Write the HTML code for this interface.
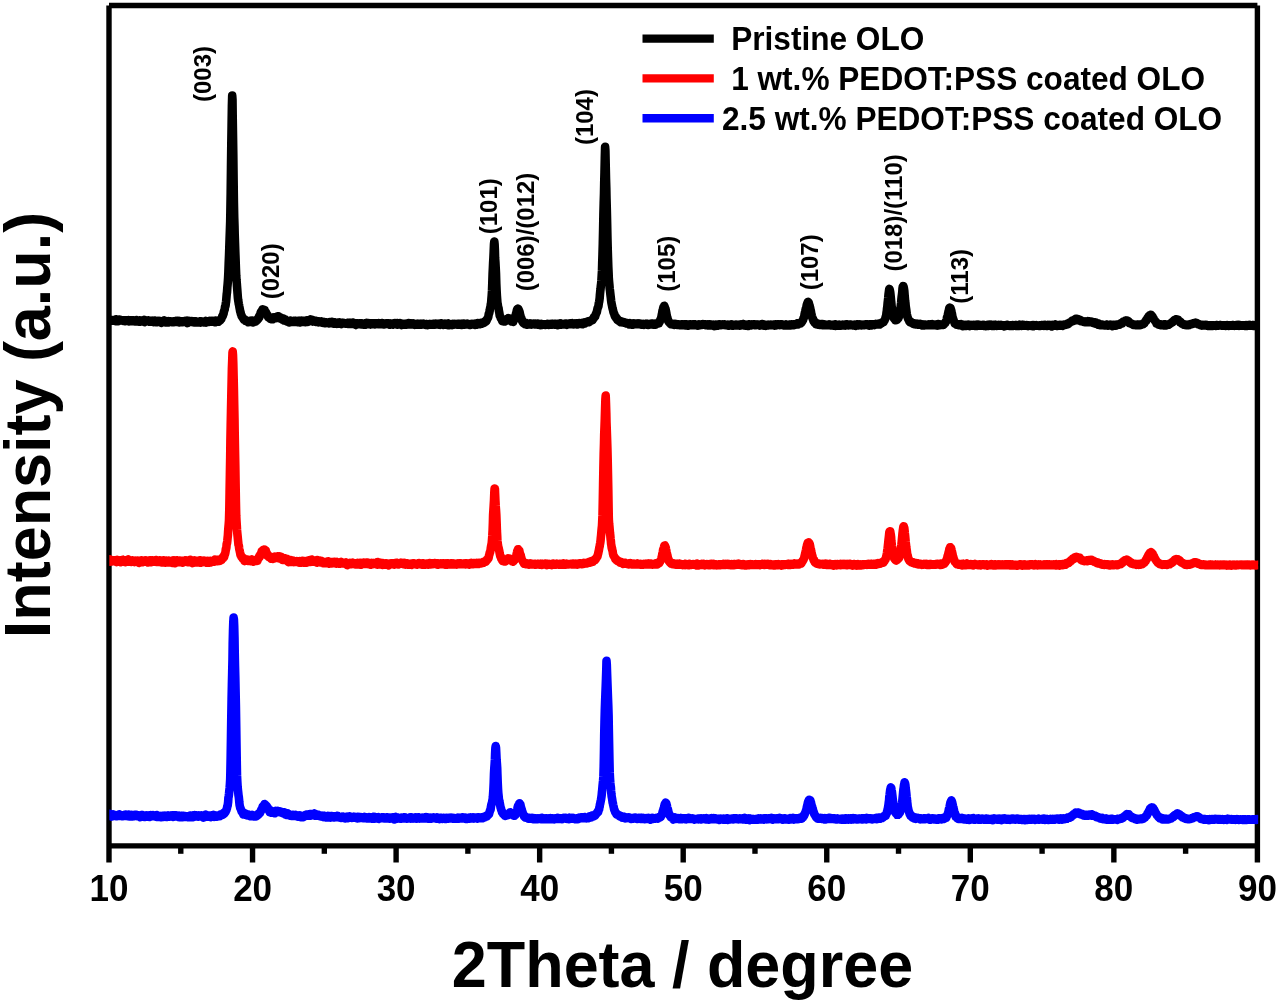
<!DOCTYPE html>
<html lang="en">
<head>
<meta charset="utf-8">
<title>XRD patterns</title>
<style>
html,body{margin:0;padding:0;background:#fff;}
body{width:1280px;height:1002px;overflow:hidden;font-family:"Liberation Sans",Arial,sans-serif;}
svg{display:block;filter:blur(0.45px);}
</style>
</head>
<body>
<svg width="1280" height="1002" viewBox="0 0 1280 1002">
<rect width="1280" height="1002" fill="#fff"/>
<path d="M109.0,5.45H1257.4M1257.4,5.45V862.5M109.0,5.45V862.5M109.0,845.9H1257.4" fill="none" stroke="#000" stroke-width="5.4" stroke-linecap="butt"/>
<line x1="180.78" y1="845.9" x2="180.78" y2="853.8" stroke="#000" stroke-width="5.4"/>
<line x1="252.55" y1="845.9" x2="252.55" y2="862.5" stroke="#000" stroke-width="5.4"/>
<line x1="324.33" y1="845.9" x2="324.33" y2="853.8" stroke="#000" stroke-width="5.4"/>
<line x1="396.10" y1="845.9" x2="396.10" y2="862.5" stroke="#000" stroke-width="5.4"/>
<line x1="467.88" y1="845.9" x2="467.88" y2="853.8" stroke="#000" stroke-width="5.4"/>
<line x1="539.65" y1="845.9" x2="539.65" y2="862.5" stroke="#000" stroke-width="5.4"/>
<line x1="611.42" y1="845.9" x2="611.42" y2="853.8" stroke="#000" stroke-width="5.4"/>
<line x1="683.20" y1="845.9" x2="683.20" y2="862.5" stroke="#000" stroke-width="5.4"/>
<line x1="754.98" y1="845.9" x2="754.98" y2="853.8" stroke="#000" stroke-width="5.4"/>
<line x1="826.75" y1="845.9" x2="826.75" y2="862.5" stroke="#000" stroke-width="5.4"/>
<line x1="898.52" y1="845.9" x2="898.52" y2="853.8" stroke="#000" stroke-width="5.4"/>
<line x1="970.30" y1="845.9" x2="970.30" y2="862.5" stroke="#000" stroke-width="5.4"/>
<line x1="1042.08" y1="845.9" x2="1042.08" y2="853.8" stroke="#000" stroke-width="5.4"/>
<line x1="1113.85" y1="845.9" x2="1113.85" y2="862.5" stroke="#000" stroke-width="5.4"/>
<line x1="1185.62" y1="845.9" x2="1185.62" y2="853.8" stroke="#000" stroke-width="5.4"/>
<clipPath id="cp"><rect x="109.3" y="0" width="1148.9" height="1002"/></clipPath><g clip-path="url(#cp)">
<polyline points="109.0,320.3 109.3,320.5 109.6,320.3 109.9,319.6 110.1,320.6 110.4,320.5 110.7,320.0 111.0,320.6 111.3,320.5 111.6,320.5 111.9,320.4 112.2,320.7 112.4,320.1 112.7,320.4 113.0,320.3 113.3,320.8 113.6,320.5 113.9,320.4 114.2,320.2 114.5,320.4 114.7,320.5 115.0,320.4 115.3,321.1 115.6,320.9 115.9,319.2 116.2,319.6 116.5,320.3 116.8,320.2 117.0,320.4 117.3,320.4 117.6,321.3 117.9,319.8 118.2,320.1 118.5,321.2 118.8,320.5 119.0,320.6 119.3,320.0 119.6,319.5 119.9,320.4 120.2,320.4 120.5,319.8 120.8,320.1 121.1,320.4 121.3,320.0 121.6,320.4 121.9,320.5 122.2,320.5 122.5,320.3 122.8,320.8 123.1,321.0 123.4,320.8 123.6,320.3 123.9,321.0 124.2,320.4 124.5,321.1 124.8,320.2 125.1,321.1 125.4,320.7 125.7,320.2 125.9,320.6 126.2,320.8 126.5,320.9 126.8,320.3 127.1,320.3 127.4,320.9 127.7,320.6 127.9,320.9 128.2,321.2 128.5,320.1 128.8,321.0 129.1,321.4 129.4,320.8 129.7,320.5 130.0,321.2 130.2,321.0 130.5,321.3 130.8,320.7 131.1,320.2 131.4,320.9 131.7,320.7 132.0,321.2 132.3,321.0 132.5,320.2 132.8,320.4 133.1,321.3 133.4,321.2 133.7,320.6 134.0,320.9 134.3,321.2 134.6,321.2 134.8,321.4 135.1,321.1 135.4,320.9 135.7,320.9 136.0,321.5 136.3,320.0 136.6,320.9 136.8,321.0 137.1,320.4 137.4,321.2 137.7,320.7 138.0,321.4 138.3,321.0 138.6,321.3 138.9,321.6 139.1,321.2 139.4,320.6 139.7,320.3 140.0,321.8 140.3,321.0 140.6,320.7 140.9,321.1 141.2,320.9 141.4,321.4 141.7,321.0 142.0,321.0 142.3,320.6 142.6,321.2 142.9,320.5 143.2,321.3 143.5,321.6 143.7,320.3 144.0,319.8 144.3,321.2 144.6,322.1 144.9,320.5 145.2,320.3 145.5,321.2 145.7,320.5 146.0,320.7 146.3,320.7 146.6,321.1 146.9,320.7 147.2,321.0 147.5,320.9 147.8,320.6 148.0,320.8 148.3,320.6 148.6,321.1 148.9,320.6 149.2,320.6 149.5,321.8 149.8,321.2 150.1,321.2 150.3,321.5 150.6,321.1 150.9,321.2 151.2,321.5 151.5,321.5 151.8,320.8 152.1,321.8 152.4,321.1 152.6,320.9 152.9,321.0 153.2,321.3 153.5,322.2 153.8,320.9 154.1,321.5 154.4,320.5 154.6,321.4 154.9,321.8 155.2,321.3 155.5,321.1 155.8,321.5 156.1,321.7 156.4,321.7 156.7,322.3 156.9,321.5 157.2,321.1 157.5,321.3 157.8,321.3 158.1,321.4 158.4,321.4 158.7,321.5 159.0,320.7 159.2,321.8 159.5,321.2 159.8,321.0 160.1,321.8 160.4,322.2 160.7,321.8 161.0,321.7 161.3,321.2 161.5,322.9 161.8,322.0 162.1,321.1 162.4,321.3 162.7,321.7 163.0,321.0 163.3,321.7 163.5,321.5 163.8,322.2 164.1,322.1 164.4,320.4 164.7,321.7 165.0,320.9 165.3,322.1 165.6,321.7 165.8,321.9 166.1,321.1 166.4,322.5 166.7,322.5 167.0,321.2 167.3,321.8 167.6,321.3 167.9,321.6 168.1,321.1 168.4,322.5 168.7,321.3 169.0,321.6 169.3,321.9 169.6,321.4 169.9,321.7 170.2,321.5 170.4,321.7 170.7,321.3 171.0,321.7 171.3,321.8 171.6,321.7 171.9,321.9 172.2,321.8 172.4,322.3 172.7,321.8 173.0,321.9 173.3,321.6 173.6,321.7 173.9,321.4 174.2,322.1 174.5,321.4 174.7,321.5 175.0,322.0 175.3,322.0 175.6,321.6 175.9,320.8 176.2,321.9 176.5,321.8 176.8,321.0 177.0,322.0 177.3,321.3 177.6,321.1 177.9,321.7 178.2,321.6 178.5,321.7 178.8,320.9 179.1,322.5 179.3,321.4 179.6,321.0 179.9,322.0 180.2,321.6 180.5,321.9 180.8,321.6 181.1,321.7 181.3,321.9 181.6,321.4 181.9,322.1 182.2,321.6 182.5,321.4 182.8,321.8 183.1,322.0 183.4,321.7 183.6,321.4 183.9,322.0 184.2,321.0 184.5,321.3 184.8,321.8 185.1,321.1 185.4,321.8 185.7,321.7 185.9,322.2 186.2,321.3 186.5,321.5 186.8,321.9 187.1,320.6 187.4,323.1 187.7,321.4 188.0,321.4 188.2,322.1 188.5,321.7 188.8,320.9 189.1,321.9 189.4,322.0 189.7,321.4 190.0,321.5 190.2,321.9 190.5,321.2 190.8,321.8 191.1,321.7 191.4,321.3 191.7,321.0 192.0,321.5 192.3,321.3 192.5,322.1 192.8,321.7 193.1,322.0 193.4,321.7 193.7,321.8 194.0,321.3 194.3,322.0 194.6,322.5 194.8,321.5 195.1,321.4 195.4,321.6 195.7,321.5 196.0,321.4 196.3,321.8 196.6,321.6 196.9,322.4 197.1,321.8 197.4,321.9 197.7,322.2 198.0,321.7 198.3,322.5 198.6,321.6 198.9,321.5 199.1,321.7 199.4,321.8 199.7,321.3 200.0,321.9 200.3,321.2 200.6,322.6 200.9,321.9 201.2,321.7 201.4,321.6 201.7,321.8 202.0,321.9 202.3,321.6 202.6,321.6 202.9,322.0 203.2,321.8 203.5,322.5 203.7,322.5 204.0,322.0 204.3,322.2 204.6,321.4 204.9,322.3 205.2,321.9 205.5,322.2 205.8,322.6 206.0,320.9 206.3,322.0 206.6,321.3 206.9,322.0 207.2,321.2 207.5,321.5 207.8,321.8 208.0,321.9 208.3,321.6 208.6,321.2 208.9,321.3 209.2,321.9 209.5,321.4 209.8,320.7 210.1,321.8 210.3,321.6 210.6,321.7 210.9,321.2 211.2,321.7 211.5,320.8 211.8,321.5 212.1,321.0 212.4,321.6 212.6,321.7 212.9,320.9 213.2,321.2 213.5,321.3 213.8,321.8 214.1,321.6 214.4,320.8 214.7,321.5 214.9,321.7 215.2,322.3 215.5,320.6 215.8,321.1 216.1,322.0 216.4,320.8 216.7,320.8 216.9,321.6 217.2,321.8 217.5,321.0 217.8,321.5 218.1,321.2 218.4,321.8 218.7,321.0 219.0,321.3 219.2,320.3 219.5,320.4 219.8,320.2 220.1,320.5 220.4,319.9 220.7,319.0 221.0,319.3 221.3,319.0 221.5,318.1 221.8,317.6 222.1,317.1 222.4,315.8 222.7,316.0 223.0,315.3 223.3,314.0 223.6,313.8 223.8,311.9 224.1,311.2 224.4,310.0 224.7,309.9 225.0,306.9 225.3,306.5 225.6,305.2 225.8,303.3 226.1,301.7 226.4,298.1 226.7,294.4 227.0,292.2 227.3,287.7 227.6,284.6 227.9,280.8 228.1,277.7 228.4,271.6 228.7,263.2 229.0,256.2 229.3,247.7 229.6,239.0 229.9,230.3 230.2,221.4 230.4,210.7 230.7,192.4 231.0,167.3 231.3,144.0 231.6,125.5 231.9,106.1 232.2,95.5 232.5,99.7 232.7,116.3 233.0,135.3 233.3,155.0 233.6,180.4 233.9,202.3 234.2,217.0 234.5,226.2 234.7,234.3 235.0,243.2 235.3,251.8 235.6,259.6 235.9,268.1 236.2,275.4 236.5,280.0 236.8,283.4 237.0,286.4 237.3,290.1 237.6,294.1 237.9,298.0 238.2,300.3 238.5,302.1 238.8,304.0 239.1,305.2 239.3,306.5 239.6,308.1 239.9,309.6 240.2,311.6 240.5,311.9 240.8,313.6 241.1,314.7 241.4,314.8 241.6,316.3 241.9,316.6 242.2,316.7 242.5,317.5 242.8,317.9 243.1,318.2 243.4,318.7 243.6,319.2 243.9,319.6 244.2,319.3 244.5,319.9 244.8,319.4 245.1,320.4 245.4,320.8 245.7,320.7 245.9,320.9 246.2,321.1 246.5,320.6 246.8,320.8 247.1,321.2 247.4,321.5 247.7,321.3 248.0,322.3 248.2,321.1 248.5,321.7 248.8,321.9 249.1,321.3 249.4,321.0 249.7,320.9 250.0,321.5 250.3,321.9 250.5,321.6 250.8,321.5 251.1,321.3 251.4,321.7 251.7,320.5 252.0,321.5 252.3,321.4 252.5,320.8 252.8,322.4 253.1,320.7 253.4,320.9 253.7,320.8 254.0,321.8 254.3,320.9 254.6,321.5 254.8,321.4 255.1,321.2 255.4,320.4 255.7,320.6 256.0,321.5 256.3,320.0 256.6,320.0 256.9,320.1 257.1,320.3 257.4,319.7 257.7,319.6 258.0,318.3 258.3,318.8 258.6,318.1 258.9,316.6 259.2,317.5 259.4,317.2 259.7,315.2 260.0,314.9 260.3,314.8 260.6,312.9 260.9,312.0 261.2,311.7 261.5,311.4 261.7,310.8 262.0,310.9 262.3,310.3 262.6,309.3 262.9,309.9 263.2,310.3 263.5,310.0 263.7,310.0 264.0,309.8 264.3,310.5 264.6,310.0 264.9,311.2 265.2,311.3 265.5,312.3 265.8,312.6 266.0,312.4 266.3,313.5 266.6,314.6 266.9,314.0 267.2,314.8 267.5,315.2 267.8,315.3 268.1,316.8 268.3,317.3 268.6,317.4 268.9,317.5 269.2,317.6 269.5,318.0 269.8,317.7 270.1,318.6 270.4,318.8 270.6,318.8 270.9,318.2 271.2,318.5 271.5,318.4 271.8,319.3 272.1,318.5 272.4,317.6 272.6,318.5 272.9,319.2 273.2,318.6 273.5,318.6 273.8,318.1 274.1,317.2 274.4,317.2 274.7,317.4 274.9,317.8 275.2,318.0 275.5,318.1 275.8,317.6 276.1,318.1 276.4,317.5 276.7,317.3 277.0,318.0 277.2,317.2 277.5,316.3 277.8,317.1 278.1,317.6 278.4,316.2 278.7,317.5 279.0,317.6 279.3,317.1 279.5,317.2 279.8,317.7 280.1,317.7 280.4,318.6 280.7,318.3 281.0,317.6 281.3,318.0 281.5,318.8 281.8,319.4 282.1,318.9 282.4,318.9 282.7,319.7 283.0,319.0 283.3,319.0 283.6,318.6 283.8,319.2 284.1,320.5 284.4,319.0 284.7,319.8 285.0,319.3 285.3,320.1 285.6,320.5 285.9,320.1 286.1,320.7 286.4,320.8 286.7,320.8 287.0,321.5 287.3,321.1 287.6,320.7 287.9,320.7 288.2,320.7 288.4,321.3 288.7,321.1 289.0,322.5 289.3,322.1 289.6,321.3 289.9,321.3 290.2,322.2 290.4,320.6 290.7,321.3 291.0,321.9 291.3,321.1 291.6,321.2 291.9,321.3 292.2,321.7 292.5,321.5 292.7,321.6 293.0,321.7 293.3,321.4 293.6,321.9 293.9,321.1 294.2,320.8 294.5,320.7 294.8,320.8 295.0,321.2 295.3,322.0 295.6,321.6 295.9,321.3 296.2,321.1 296.5,321.4 296.8,321.5 297.1,321.4 297.3,321.0 297.6,321.5 297.9,322.2 298.2,320.8 298.5,321.6 298.8,320.8 299.1,321.8 299.3,321.4 299.6,320.8 299.9,321.7 300.2,322.5 300.5,321.7 300.8,322.1 301.1,321.6 301.4,320.6 301.6,321.8 301.9,321.4 302.2,320.9 302.5,321.9 302.8,321.6 303.1,321.3 303.4,321.8 303.7,321.1 303.9,321.7 304.2,321.0 304.5,321.7 304.8,321.0 305.1,322.1 305.4,321.6 305.7,322.1 306.0,321.1 306.2,321.3 306.5,321.8 306.8,320.3 307.1,321.0 307.4,321.9 307.7,321.6 308.0,321.8 308.2,321.2 308.5,321.6 308.8,321.0 309.1,320.6 309.4,320.4 309.7,320.9 310.0,320.8 310.3,320.7 310.5,319.4 310.8,320.0 311.1,320.6 311.4,320.9 311.7,320.5 312.0,320.4 312.3,319.8 312.6,321.6 312.8,320.3 313.1,321.5 313.4,321.5 313.7,320.9 314.0,320.6 314.3,321.0 314.6,320.5 314.9,321.1 315.1,321.1 315.4,321.4 315.7,321.6 316.0,322.0 316.3,321.2 316.6,321.9 316.9,321.1 317.1,321.2 317.4,321.3 317.7,321.2 318.0,322.1 318.3,322.2 318.6,322.4 318.9,321.8 319.2,322.0 319.4,321.7 319.7,321.5 320.0,322.2 320.3,322.2 320.6,321.6 320.9,322.4 321.2,321.4 321.5,322.2 321.7,322.0 322.0,322.1 322.3,321.9 322.6,322.8 322.9,322.7 323.2,323.0 323.5,322.5 323.8,322.0 324.0,322.4 324.3,322.1 324.6,322.8 324.9,323.2 325.2,322.8 325.5,322.5 325.8,322.6 326.0,322.9 326.3,322.2 326.6,322.9 326.9,322.9 327.2,322.6 327.5,322.7 327.8,322.9 328.1,322.5 328.3,322.5 328.6,323.2 328.9,322.9 329.2,323.5 329.5,322.4 329.8,322.1 330.1,323.2 330.4,323.2 330.6,322.5 330.9,322.2 331.2,322.8 331.5,322.1 331.8,322.7 332.1,322.0 332.4,322.8 332.7,322.0 332.9,322.8 333.2,323.6 333.5,322.9 333.8,323.3 334.1,322.7 334.4,322.6 334.7,322.4 334.9,323.5 335.2,323.0 335.5,323.7 335.8,322.6 336.1,323.0 336.4,323.1 336.7,323.7 337.0,323.9 337.2,322.9 337.5,322.7 337.8,322.5 338.1,323.8 338.4,323.2 338.7,323.0 339.0,323.3 339.3,322.3 339.5,322.6 339.8,323.7 340.1,323.5 340.4,323.4 340.7,323.0 341.0,323.6 341.3,324.1 341.6,322.8 341.8,323.4 342.1,323.2 342.4,323.5 342.7,323.3 343.0,323.2 343.3,322.9 343.6,323.3 343.8,323.0 344.1,323.2 344.4,323.2 344.7,323.5 345.0,323.0 345.3,323.1 345.6,323.7 345.9,323.2 346.1,323.1 346.4,323.6 346.7,323.4 347.0,323.3 347.3,323.4 347.6,322.8 347.9,323.5 348.2,323.9 348.4,323.6 348.7,322.7 349.0,323.5 349.3,323.0 349.6,323.3 349.9,323.4 350.2,322.9 350.5,323.9 350.7,323.3 351.0,323.7 351.3,323.6 351.6,323.9 351.9,323.9 352.2,322.8 352.5,323.4 352.7,322.5 353.0,323.2 353.3,323.7 353.6,323.8 353.9,323.9 354.2,323.3 354.5,323.6 354.8,323.5 355.0,324.0 355.3,324.2 355.6,323.4 355.9,325.1 356.2,323.6 356.5,323.4 356.8,323.8 357.1,323.9 357.3,323.9 357.6,323.4 357.9,324.3 358.2,323.7 358.5,324.3 358.8,324.3 359.1,323.2 359.4,323.3 359.6,323.3 359.9,323.8 360.2,323.8 360.5,323.9 360.8,323.4 361.1,324.0 361.4,324.4 361.6,323.3 361.9,323.8 362.2,324.0 362.5,323.8 362.8,323.8 363.1,324.6 363.4,324.4 363.7,324.2 363.9,323.6 364.2,324.8 364.5,324.0 364.8,323.6 365.1,323.7 365.4,323.6 365.7,324.6 366.0,323.8 366.2,323.8 366.5,322.9 366.8,324.0 367.1,323.3 367.4,323.3 367.7,324.0 368.0,323.4 368.3,324.1 368.5,324.3 368.8,323.1 369.1,323.8 369.4,323.2 369.7,323.9 370.0,324.3 370.3,323.4 370.5,324.6 370.8,323.8 371.1,323.4 371.4,323.8 371.7,324.2 372.0,323.3 372.3,323.8 372.6,323.3 372.8,324.3 373.1,323.8 373.4,323.6 373.7,324.2 374.0,323.2 374.3,323.6 374.6,324.5 374.9,323.7 375.1,324.3 375.4,323.8 375.7,323.5 376.0,323.7 376.3,323.8 376.6,323.6 376.9,323.5 377.2,323.5 377.4,323.2 377.7,323.8 378.0,324.0 378.3,324.1 378.6,323.1 378.9,324.1 379.2,323.8 379.4,323.3 379.7,323.9 380.0,324.1 380.3,324.0 380.6,324.1 380.9,324.2 381.2,324.2 381.5,323.8 381.7,323.0 382.0,323.5 382.3,323.9 382.6,323.6 382.9,324.0 383.2,324.1 383.5,323.8 383.8,324.5 384.0,323.4 384.3,324.1 384.6,323.6 384.9,323.5 385.2,324.0 385.5,323.5 385.8,324.1 386.1,323.3 386.3,323.8 386.6,323.5 386.9,323.7 387.2,323.7 387.5,323.4 387.8,324.1 388.1,323.4 388.3,323.5 388.6,324.2 388.9,324.3 389.2,324.2 389.5,324.0 389.8,324.8 390.1,323.4 390.4,323.6 390.6,323.5 390.9,324.2 391.2,324.0 391.5,324.3 391.8,324.2 392.1,323.8 392.4,323.5 392.7,323.5 392.9,324.7 393.2,324.3 393.5,324.1 393.8,323.8 394.1,323.8 394.4,323.8 394.7,323.8 395.0,323.0 395.2,324.0 395.5,323.8 395.8,324.1 396.1,324.1 396.4,324.4 396.7,324.0 397.0,324.4 397.2,323.1 397.5,323.6 397.8,324.7 398.1,323.6 398.4,324.0 398.7,324.4 399.0,323.7 399.3,324.4 399.5,323.5 399.8,323.3 400.1,323.6 400.4,323.5 400.7,324.1 401.0,324.0 401.3,324.2 401.6,323.7 401.8,325.1 402.1,324.1 402.4,324.1 402.7,324.3 403.0,324.0 403.3,323.9 403.6,324.2 403.9,324.5 404.1,324.4 404.4,324.5 404.7,323.9 405.0,323.8 405.3,324.8 405.6,324.0 405.9,324.2 406.1,324.3 406.4,324.6 406.7,323.5 407.0,323.9 407.3,323.9 407.6,323.9 407.9,323.2 408.2,324.0 408.4,323.0 408.7,324.2 409.0,324.3 409.3,324.3 409.6,323.7 409.9,324.5 410.2,323.8 410.5,323.6 410.7,323.7 411.0,323.8 411.3,324.2 411.6,324.4 411.9,323.3 412.2,323.9 412.5,324.5 412.8,324.2 413.0,324.4 413.3,323.6 413.6,324.5 413.9,323.6 414.2,324.3 414.5,324.7 414.8,324.9 415.0,324.4 415.3,324.5 415.6,324.0 415.9,324.0 416.2,324.6 416.5,324.2 416.8,324.1 417.1,323.7 417.3,324.2 417.6,324.4 417.9,323.9 418.2,324.0 418.5,324.8 418.8,324.2 419.1,324.1 419.4,323.7 419.6,323.9 419.9,324.1 420.2,324.7 420.5,323.9 420.8,324.8 421.1,323.8 421.4,324.0 421.7,324.5 421.9,324.1 422.2,323.9 422.5,324.2 422.8,324.4 423.1,323.6 423.4,324.2 423.7,324.3 423.9,324.2 424.2,324.6 424.5,324.2 424.8,324.3 425.1,324.4 425.4,324.7 425.7,324.3 426.0,325.0 426.2,324.1 426.5,324.9 426.8,324.1 427.1,324.3 427.4,324.5 427.7,325.1 428.0,324.7 428.3,324.2 428.5,324.8 428.8,324.2 429.1,324.0 429.4,324.5 429.7,324.3 430.0,324.7 430.3,324.1 430.6,324.5 430.8,324.6 431.1,324.4 431.4,324.3 431.7,324.1 432.0,324.7 432.3,324.4 432.6,324.5 432.8,324.2 433.1,324.3 433.4,323.9 433.7,324.3 434.0,324.5 434.3,324.2 434.6,324.5 434.9,324.3 435.1,324.7 435.4,324.1 435.7,323.5 436.0,324.3 436.3,324.0 436.6,323.7 436.9,324.3 437.2,324.2 437.4,324.2 437.7,323.9 438.0,324.1 438.3,324.2 438.6,324.7 438.9,323.8 439.2,324.1 439.5,324.2 439.7,323.5 440.0,323.5 440.3,324.9 440.6,323.5 440.9,324.3 441.2,323.8 441.5,323.8 441.7,323.4 442.0,323.8 442.3,324.4 442.6,323.6 442.9,324.4 443.2,324.3 443.5,324.9 443.8,324.0 444.0,324.6 444.3,324.5 444.6,324.1 444.9,323.6 445.2,324.7 445.5,323.7 445.8,324.0 446.1,324.5 446.3,324.6 446.6,323.9 446.9,324.2 447.2,324.2 447.5,324.7 447.8,325.2 448.1,323.7 448.4,324.7 448.6,323.4 448.9,324.4 449.2,324.1 449.5,325.2 449.8,324.5 450.1,324.2 450.4,324.3 450.6,324.3 450.9,324.6 451.2,324.5 451.5,324.7 451.8,325.1 452.1,324.7 452.4,324.0 452.7,323.9 452.9,324.2 453.2,324.8 453.5,324.3 453.8,324.2 454.1,324.4 454.4,323.9 454.7,324.0 455.0,324.5 455.2,324.2 455.5,324.2 455.8,324.4 456.1,324.1 456.4,324.1 456.7,324.1 457.0,324.5 457.3,324.3 457.5,323.8 457.8,324.1 458.1,324.4 458.4,324.8 458.7,323.7 459.0,324.3 459.3,324.0 459.5,324.4 459.8,324.3 460.1,324.6 460.4,324.3 460.7,323.9 461.0,323.9 461.3,324.2 461.6,324.2 461.8,324.9 462.1,324.7 462.4,323.7 462.7,324.2 463.0,323.6 463.3,323.5 463.6,324.4 463.9,324.3 464.1,323.8 464.4,324.7 464.7,323.8 465.0,323.8 465.3,324.4 465.6,324.3 465.9,324.2 466.2,324.2 466.4,324.3 466.7,324.2 467.0,324.2 467.3,323.6 467.6,323.8 467.9,324.5 468.2,324.1 468.4,324.5 468.7,324.7 469.0,324.2 469.3,324.4 469.6,325.0 469.9,324.5 470.2,324.9 470.5,324.8 470.7,324.5 471.0,324.2 471.3,323.9 471.6,323.8 471.9,324.3 472.2,324.3 472.5,324.0 472.8,324.4 473.0,323.9 473.3,324.5 473.6,324.1 473.9,324.1 474.2,324.1 474.5,324.0 474.8,324.9 475.1,323.5 475.3,324.1 475.6,324.5 475.9,324.3 476.2,324.0 476.5,324.7 476.8,323.7 477.1,323.6 477.3,324.2 477.6,323.5 477.9,323.1 478.2,324.2 478.5,324.1 478.8,324.1 479.1,323.6 479.4,323.8 479.6,323.4 479.9,324.2 480.2,323.9 480.5,323.8 480.8,322.8 481.1,323.7 481.4,323.8 481.7,323.6 481.9,323.4 482.2,323.1 482.5,322.8 482.8,323.1 483.1,322.9 483.4,322.7 483.7,322.4 484.0,322.9 484.2,321.8 484.5,322.0 484.8,321.6 485.1,322.0 485.4,321.9 485.7,321.6 486.0,321.1 486.2,320.1 486.5,320.9 486.8,320.0 487.1,319.3 487.4,318.8 487.7,318.1 488.0,317.7 488.3,316.8 488.5,315.6 488.8,313.8 489.1,313.5 489.4,312.2 489.7,310.6 490.0,308.7 490.3,307.4 490.6,306.3 490.8,304.3 491.1,303.1 491.4,299.2 491.7,295.7 492.0,291.0 492.3,282.8 492.6,273.7 492.9,267.8 493.1,263.1 493.4,257.9 493.7,251.4 494.0,244.2 494.3,241.6 494.6,244.2 494.9,250.7 495.1,258.1 495.4,262.1 495.7,267.7 496.0,273.8 496.3,283.9 496.6,290.7 496.9,295.9 497.2,299.8 497.4,302.8 497.7,304.0 498.0,306.4 498.3,307.4 498.6,308.5 498.9,310.8 499.2,312.1 499.5,313.9 499.7,315.5 500.0,316.1 500.3,316.6 500.6,317.4 500.9,318.4 501.2,318.9 501.5,319.0 501.8,319.5 502.0,320.3 502.3,321.2 502.6,319.7 502.9,321.1 503.2,320.9 503.5,321.4 503.8,321.5 504.0,321.2 504.3,320.9 504.6,320.7 504.9,320.4 505.2,321.4 505.5,320.7 505.8,320.4 506.1,320.3 506.3,319.7 506.6,320.0 506.9,320.1 507.2,319.8 507.5,318.6 507.8,319.4 508.1,318.6 508.4,318.1 508.6,318.2 508.9,318.4 509.2,318.8 509.5,318.6 509.8,318.6 510.1,319.2 510.4,320.2 510.7,319.6 510.9,320.3 511.2,320.4 511.5,321.5 511.8,320.2 512.1,321.4 512.4,320.6 512.7,320.9 512.9,321.0 513.2,321.9 513.5,320.3 513.8,319.6 514.1,320.2 514.4,318.8 514.7,318.3 515.0,317.5 515.2,316.6 515.5,315.4 515.8,314.5 516.1,313.4 516.4,312.5 516.7,311.0 517.0,309.9 517.3,309.0 517.5,309.1 517.8,308.6 518.1,308.8 518.4,309.1 518.7,310.0 519.0,310.3 519.3,311.5 519.6,311.9 519.8,313.1 520.1,314.6 520.4,315.4 520.7,317.1 521.0,317.5 521.3,318.9 521.6,318.9 521.8,320.1 522.1,321.0 522.4,321.5 522.7,321.4 523.0,322.5 523.3,323.1 523.6,323.2 523.9,322.9 524.1,323.1 524.4,323.1 524.7,323.8 525.0,324.1 525.3,323.5 525.6,323.2 525.9,323.9 526.2,324.1 526.4,323.0 526.7,324.0 527.0,324.7 527.3,324.3 527.6,324.2 527.9,324.1 528.2,324.4 528.5,323.7 528.7,323.7 529.0,324.2 529.3,323.8 529.6,324.1 529.9,323.4 530.2,324.3 530.5,324.3 530.7,324.0 531.0,324.1 531.3,324.6 531.6,323.7 531.9,323.7 532.2,323.7 532.5,323.9 532.8,323.7 533.0,324.0 533.3,323.8 533.6,323.5 533.9,323.5 534.2,324.4 534.5,324.0 534.8,324.0 535.1,324.1 535.3,324.0 535.6,324.3 535.9,324.3 536.2,323.9 536.5,323.8 536.8,323.8 537.1,323.7 537.4,324.6 537.6,323.9 537.9,323.5 538.2,323.9 538.5,323.9 538.8,324.3 539.1,323.9 539.4,324.4 539.6,324.3 539.9,324.6 540.2,324.9 540.5,325.2 540.8,324.7 541.1,323.8 541.4,324.1 541.7,324.3 541.9,324.9 542.2,324.5 542.5,324.7 542.8,324.2 543.1,324.5 543.4,324.6 543.7,324.2 544.0,324.6 544.2,324.7 544.5,324.3 544.8,324.8 545.1,325.0 545.4,324.5 545.7,324.4 546.0,324.4 546.3,324.3 546.5,324.5 546.8,324.3 547.1,324.4 547.4,324.2 547.7,323.9 548.0,324.1 548.3,324.5 548.6,324.0 548.8,324.2 549.1,324.9 549.4,324.7 549.7,324.1 550.0,324.5 550.3,324.0 550.6,324.8 550.8,324.0 551.1,324.2 551.4,324.7 551.7,323.9 552.0,324.6 552.3,323.9 552.6,324.2 552.9,324.1 553.1,324.1 553.4,324.2 553.7,324.1 554.0,323.8 554.3,324.5 554.6,324.4 554.9,324.6 555.2,324.7 555.4,323.7 555.7,324.6 556.0,324.6 556.3,324.0 556.6,324.6 556.9,324.7 557.2,324.0 557.5,323.8 557.7,324.1 558.0,325.2 558.3,324.3 558.6,323.8 558.9,324.2 559.2,323.9 559.5,324.1 559.7,324.3 560.0,323.4 560.3,324.3 560.6,324.7 560.9,324.1 561.2,324.1 561.5,324.6 561.8,323.7 562.0,323.7 562.3,323.7 562.6,324.1 562.9,324.3 563.2,324.1 563.5,324.3 563.8,324.4 564.1,324.3 564.3,323.8 564.6,324.0 564.9,324.5 565.2,323.7 565.5,324.0 565.8,323.9 566.1,324.0 566.4,323.7 566.6,323.6 566.9,324.9 567.2,324.4 567.5,323.8 567.8,324.0 568.1,324.3 568.4,323.9 568.6,324.3 568.9,323.8 569.2,323.9 569.5,324.0 569.8,323.9 570.1,323.2 570.4,324.0 570.7,324.1 570.9,324.2 571.2,323.6 571.5,324.1 571.8,324.0 572.1,323.3 572.4,323.1 572.7,324.0 573.0,323.5 573.2,324.2 573.5,324.5 573.8,323.6 574.1,323.5 574.4,323.8 574.7,324.0 575.0,323.4 575.3,324.2 575.5,324.1 575.8,324.0 576.1,323.6 576.4,324.1 576.7,324.1 577.0,323.4 577.3,324.5 577.5,323.7 577.8,323.9 578.1,323.6 578.4,323.9 578.7,324.1 579.0,323.4 579.3,323.1 579.6,323.5 579.8,323.2 580.1,323.4 580.4,323.5 580.7,323.5 581.0,324.0 581.3,323.1 581.6,323.6 581.9,323.2 582.1,323.8 582.4,324.2 582.7,323.4 583.0,323.8 583.3,323.0 583.6,322.6 583.9,322.7 584.2,322.5 584.4,322.7 584.7,322.9 585.0,323.3 585.3,323.1 585.6,322.9 585.9,322.6 586.2,322.4 586.4,322.6 586.7,322.5 587.0,322.5 587.3,322.4 587.6,322.2 587.9,321.5 588.2,321.6 588.5,321.6 588.7,322.3 589.0,321.5 589.3,321.7 589.6,321.8 589.9,321.3 590.2,320.9 590.5,320.8 590.8,320.4 591.0,320.6 591.3,320.7 591.6,320.3 591.9,320.2 592.2,320.0 592.5,320.1 592.8,319.0 593.1,319.0 593.3,318.9 593.6,318.7 593.9,317.1 594.2,317.4 594.5,317.1 594.8,316.4 595.1,316.6 595.3,315.8 595.6,315.0 595.9,314.0 596.2,313.4 596.5,312.6 596.8,312.2 597.1,310.6 597.4,309.2 597.6,308.3 597.9,307.4 598.2,306.9 598.5,305.8 598.8,303.2 599.1,302.0 599.4,300.2 599.7,297.9 599.9,294.9 600.2,291.8 600.5,289.3 600.8,286.1 601.1,283.8 601.4,280.6 601.7,275.5 602.0,270.4 602.2,263.0 602.5,254.1 602.8,243.6 603.1,230.1 603.4,214.9 603.7,203.4 604.0,194.0 604.2,183.7 604.5,172.2 604.8,158.2 605.1,146.9 605.4,150.7 605.7,164.8 606.0,178.6 606.3,188.7 606.5,198.7 606.8,209.3 607.1,222.0 607.4,236.6 607.7,248.4 608.0,258.0 608.3,266.9 608.6,273.3 608.8,278.5 609.1,281.9 609.4,284.9 609.7,288.7 610.0,290.6 610.3,293.5 610.6,296.0 610.9,298.6 611.1,300.5 611.4,302.6 611.7,304.1 612.0,305.6 612.3,307.3 612.6,308.6 612.9,309.7 613.1,310.4 613.4,311.9 613.7,312.7 614.0,313.6 614.3,313.8 614.6,315.3 614.9,315.7 615.2,316.8 615.4,317.0 615.7,316.8 616.0,317.2 616.3,318.4 616.6,318.1 616.9,318.9 617.2,318.9 617.5,320.0 617.7,319.6 618.0,320.4 618.3,320.5 618.6,320.1 618.9,320.4 619.2,321.2 619.5,320.9 619.8,320.7 620.0,321.6 620.3,322.2 620.6,321.4 620.9,322.0 621.2,321.6 621.5,322.2 621.8,321.8 622.0,322.4 622.3,322.2 622.6,322.0 622.9,322.3 623.2,322.1 623.5,322.0 623.8,322.1 624.1,322.5 624.3,322.2 624.6,322.8 624.9,322.9 625.2,323.0 625.5,322.7 625.8,323.0 626.1,323.0 626.4,323.5 626.6,322.9 626.9,323.1 627.2,323.2 627.5,323.3 627.8,323.2 628.1,323.2 628.4,323.9 628.7,323.3 628.9,323.9 629.2,324.3 629.5,324.1 629.8,323.1 630.1,324.0 630.4,323.9 630.7,324.0 630.9,323.3 631.2,324.1 631.5,323.5 631.8,324.3 632.1,324.2 632.4,324.8 632.7,323.8 633.0,323.4 633.2,324.3 633.5,324.2 633.8,323.8 634.1,324.4 634.4,324.2 634.7,323.6 635.0,323.9 635.3,323.9 635.5,324.0 635.8,324.1 636.1,323.8 636.4,324.0 636.7,324.3 637.0,324.0 637.3,324.0 637.6,324.0 637.8,324.0 638.1,323.4 638.4,324.1 638.7,323.7 639.0,324.0 639.3,323.5 639.6,324.3 639.8,324.1 640.1,323.5 640.4,324.1 640.7,323.7 641.0,324.6 641.3,324.2 641.6,323.8 641.9,324.1 642.1,324.1 642.4,324.5 642.7,324.2 643.0,324.3 643.3,323.8 643.6,324.4 643.9,324.9 644.2,324.4 644.4,324.2 644.7,324.3 645.0,323.9 645.3,324.3 645.6,323.9 645.9,324.3 646.2,324.1 646.5,324.0 646.7,324.4 647.0,323.7 647.3,324.2 647.6,323.8 647.9,324.9 648.2,324.9 648.5,324.5 648.7,324.9 649.0,324.4 649.3,324.4 649.6,324.1 649.9,323.9 650.2,324.2 650.5,324.0 650.8,324.0 651.0,324.4 651.3,324.1 651.6,323.6 651.9,324.1 652.2,323.9 652.5,324.0 652.8,323.7 653.1,324.5 653.3,324.7 653.6,323.7 653.9,324.3 654.2,324.3 654.5,323.7 654.8,324.1 655.1,324.5 655.4,324.3 655.6,324.6 655.9,323.6 656.2,323.7 656.5,324.0 656.8,324.0 657.1,323.8 657.4,323.6 657.6,323.5 657.9,323.3 658.2,323.5 658.5,322.2 658.8,323.4 659.1,322.4 659.4,321.7 659.7,321.8 659.9,320.6 660.2,320.5 660.5,319.5 660.8,318.9 661.1,317.9 661.4,317.0 661.7,315.1 662.0,313.9 662.2,312.6 662.5,310.8 662.8,310.1 663.1,308.8 663.4,307.2 663.7,307.2 664.0,306.8 664.3,305.7 664.5,306.6 664.8,307.4 665.1,308.1 665.4,308.6 665.7,309.8 666.0,311.6 666.3,312.8 666.5,314.4 666.8,315.6 667.1,317.1 667.4,317.8 667.7,319.0 668.0,320.9 668.3,320.6 668.6,321.6 668.8,322.0 669.1,322.4 669.4,322.4 669.7,323.1 670.0,323.2 670.3,323.6 670.6,324.2 670.9,323.7 671.1,324.0 671.4,323.4 671.7,323.9 672.0,324.4 672.3,323.9 672.6,323.8 672.9,324.1 673.2,324.0 673.4,324.0 673.7,324.0 674.0,324.9 674.3,323.9 674.6,324.1 674.9,324.1 675.2,324.8 675.4,324.3 675.7,324.8 676.0,324.5 676.3,324.5 676.6,324.0 676.9,324.9 677.2,324.7 677.5,324.7 677.7,324.5 678.0,324.5 678.3,324.2 678.6,325.0 678.9,324.7 679.2,324.6 679.5,324.5 679.8,324.7 680.0,324.7 680.3,325.3 680.6,325.0 680.9,324.6 681.2,324.4 681.5,324.7 681.8,324.5 682.1,324.9 682.3,325.0 682.6,325.1 682.9,325.0 683.2,324.8 683.5,325.1 683.8,324.6 684.1,324.8 684.3,325.1 684.6,324.9 684.9,324.4 685.2,324.4 685.5,324.3 685.8,325.4 686.1,324.3 686.4,324.7 686.6,325.4 686.9,325.1 687.2,325.2 687.5,324.6 687.8,325.0 688.1,325.8 688.4,324.7 688.7,324.9 688.9,324.6 689.2,324.7 689.5,324.8 689.8,325.2 690.1,324.4 690.4,324.2 690.7,324.7 691.0,324.8 691.2,325.2 691.5,325.0 691.8,324.5 692.1,324.9 692.4,325.1 692.7,324.9 693.0,324.7 693.2,325.0 693.5,324.7 693.8,324.2 694.1,325.3 694.4,324.4 694.7,324.8 695.0,324.8 695.3,324.8 695.5,324.8 695.8,324.5 696.1,325.1 696.4,325.0 696.7,325.0 697.0,325.3 697.3,325.4 697.6,325.4 697.8,325.6 698.1,325.1 698.4,324.4 698.7,325.0 699.0,324.9 699.3,325.0 699.6,324.7 699.9,324.6 700.1,325.2 700.4,325.2 700.7,324.5 701.0,325.0 701.3,324.8 701.6,324.7 701.9,325.0 702.1,324.8 702.4,324.6 702.7,324.8 703.0,324.1 703.3,324.5 703.6,324.6 703.9,324.2 704.2,324.8 704.4,324.8 704.7,324.5 705.0,324.7 705.3,325.0 705.6,325.1 705.9,324.5 706.2,324.9 706.5,325.1 706.7,324.7 707.0,324.5 707.3,324.5 707.6,324.7 707.9,324.4 708.2,325.5 708.5,324.6 708.8,324.9 709.0,324.9 709.3,325.1 709.6,324.7 709.9,324.4 710.2,325.5 710.5,324.9 710.8,325.0 711.0,325.0 711.3,325.4 711.6,325.3 711.9,325.4 712.2,325.3 712.5,325.1 712.8,325.2 713.1,324.9 713.3,324.5 713.6,325.1 713.9,324.8 714.2,326.1 714.5,325.7 714.8,325.6 715.1,325.0 715.4,325.9 715.6,324.6 715.9,324.8 716.2,324.9 716.5,324.8 716.8,325.2 717.1,325.2 717.4,325.7 717.7,325.4 717.9,325.5 718.2,325.2 718.5,325.0 718.8,324.8 719.1,324.5 719.4,324.7 719.7,324.9 719.9,325.2 720.2,324.4 720.5,324.5 720.8,325.0 721.1,324.6 721.4,325.0 721.7,324.8 722.0,324.7 722.2,324.4 722.5,324.8 722.8,324.6 723.1,324.6 723.4,324.6 723.7,324.9 724.0,324.9 724.3,324.2 724.5,324.8 724.8,325.0 725.1,325.2 725.4,325.1 725.7,324.9 726.0,324.5 726.3,324.6 726.6,325.2 726.8,324.7 727.1,325.3 727.4,325.4 727.7,324.6 728.0,325.1 728.3,325.0 728.6,325.7 728.8,325.3 729.1,324.8 729.4,325.2 729.7,324.7 730.0,325.0 730.3,325.1 730.6,325.1 730.9,325.1 731.1,324.7 731.4,324.4 731.7,324.9 732.0,324.7 732.3,324.8 732.6,325.8 732.9,325.5 733.2,325.0 733.4,324.6 733.7,324.7 734.0,325.2 734.3,325.5 734.6,325.0 734.9,325.2 735.2,325.3 735.5,325.5 735.7,324.5 736.0,325.2 736.3,325.3 736.6,325.5 736.9,325.3 737.2,324.8 737.5,325.0 737.7,324.7 738.0,325.2 738.3,325.2 738.6,325.3 738.9,324.8 739.2,324.7 739.5,325.6 739.8,325.1 740.0,325.6 740.3,325.1 740.6,324.5 740.9,325.2 741.2,325.4 741.5,324.8 741.8,324.3 742.1,325.2 742.3,324.9 742.6,325.1 742.9,324.1 743.2,325.2 743.5,324.1 743.8,324.8 744.1,325.4 744.4,324.5 744.6,324.5 744.9,325.0 745.2,325.7 745.5,325.7 745.8,324.9 746.1,325.5 746.4,325.3 746.6,325.2 746.9,325.3 747.2,324.9 747.5,325.4 747.8,325.5 748.1,326.0 748.4,325.4 748.7,324.2 748.9,324.6 749.2,325.1 749.5,325.0 749.8,324.4 750.1,324.9 750.4,324.8 750.7,324.9 751.0,324.8 751.2,325.2 751.5,325.3 751.8,325.0 752.1,324.4 752.4,324.5 752.7,324.5 753.0,324.7 753.3,324.6 753.5,324.6 753.8,324.4 754.1,325.1 754.4,325.1 754.7,325.1 755.0,324.8 755.3,325.0 755.5,324.5 755.8,324.5 756.1,324.6 756.4,325.0 756.7,324.8 757.0,324.5 757.3,324.9 757.6,325.0 757.8,324.9 758.1,324.6 758.4,324.9 758.7,324.7 759.0,324.7 759.3,324.8 759.6,325.1 759.9,325.5 760.1,325.4 760.4,325.1 760.7,324.7 761.0,324.8 761.3,324.8 761.6,325.3 761.9,324.0 762.2,325.1 762.4,324.3 762.7,325.0 763.0,325.5 763.3,324.7 763.6,324.3 763.9,325.5 764.2,325.6 764.4,325.3 764.7,325.5 765.0,324.8 765.3,325.5 765.6,325.7 765.9,325.3 766.2,325.2 766.5,325.5 766.7,325.5 767.0,324.8 767.3,325.5 767.6,325.3 767.9,325.1 768.2,325.5 768.5,325.4 768.8,325.3 769.0,324.9 769.3,325.3 769.6,324.7 769.9,325.0 770.2,324.5 770.5,324.5 770.8,325.2 771.1,325.0 771.3,325.1 771.6,325.3 771.9,325.2 772.2,324.8 772.5,325.1 772.8,325.0 773.1,324.9 773.3,325.0 773.6,324.9 773.9,324.8 774.2,324.9 774.5,325.1 774.8,325.7 775.1,324.6 775.4,325.1 775.6,324.4 775.9,325.4 776.2,324.7 776.5,324.8 776.8,325.2 777.1,325.1 777.4,324.2 777.7,324.9 777.9,324.6 778.2,324.9 778.5,324.7 778.8,324.9 779.1,324.8 779.4,324.6 779.7,325.1 780.0,324.2 780.2,324.6 780.5,324.4 780.8,324.7 781.1,324.6 781.4,324.7 781.7,324.6 782.0,324.7 782.2,324.3 782.5,324.8 782.8,325.0 783.1,324.7 783.4,324.7 783.7,324.7 784.0,325.5 784.3,325.0 784.5,325.1 784.8,324.9 785.1,324.8 785.4,324.7 785.7,325.5 786.0,324.4 786.3,325.1 786.6,325.0 786.8,324.9 787.1,324.5 787.4,324.6 787.7,325.4 788.0,324.8 788.3,325.3 788.6,325.2 788.9,325.2 789.1,325.3 789.4,324.6 789.7,324.8 790.0,325.2 790.3,324.5 790.6,325.5 790.9,324.7 791.1,324.9 791.4,324.6 791.7,325.0 792.0,324.6 792.3,324.8 792.6,324.5 792.9,325.2 793.2,324.3 793.4,324.9 793.7,324.8 794.0,324.9 794.3,324.4 794.6,325.0 794.9,324.9 795.2,324.6 795.5,324.6 795.7,324.4 796.0,324.6 796.3,324.1 796.6,324.5 796.9,324.4 797.2,323.7 797.5,323.2 797.8,324.0 798.0,324.0 798.3,324.4 798.6,323.9 798.9,323.7 799.2,323.3 799.5,323.6 799.8,323.3 800.0,323.0 800.3,323.2 800.6,323.5 800.9,322.9 801.2,322.3 801.5,322.5 801.8,321.7 802.1,321.1 802.3,321.4 802.6,320.5 802.9,320.4 803.2,319.5 803.5,318.3 803.8,317.8 804.1,317.1 804.4,315.6 804.6,314.1 804.9,313.0 805.2,311.7 805.5,310.2 805.8,308.8 806.1,308.0 806.4,306.9 806.7,305.2 806.9,304.5 807.2,303.6 807.5,303.2 807.8,302.1 808.1,301.9 808.4,302.3 808.7,302.6 808.9,303.4 809.2,304.7 809.5,305.2 809.8,306.6 810.1,307.5 810.4,309.2 810.7,310.4 811.0,311.7 811.2,313.2 811.5,314.4 811.8,315.9 812.1,317.2 812.4,317.4 812.7,319.1 813.0,318.9 813.3,320.4 813.5,321.2 813.8,321.3 814.1,321.9 814.4,322.1 814.7,323.0 815.0,321.9 815.3,322.9 815.6,322.8 815.8,323.7 816.1,324.2 816.4,324.3 816.7,324.2 817.0,324.1 817.3,323.8 817.6,324.6 817.8,324.4 818.1,323.9 818.4,323.8 818.7,324.1 819.0,324.7 819.3,324.8 819.6,324.9 819.9,324.1 820.1,324.3 820.4,324.9 820.7,324.6 821.0,324.8 821.3,324.1 821.6,324.4 821.9,324.6 822.2,324.5 822.4,324.5 822.7,324.1 823.0,325.2 823.3,324.7 823.6,324.2 823.9,325.1 824.2,324.7 824.5,325.0 824.7,324.7 825.0,324.5 825.3,324.5 825.6,324.9 825.9,325.0 826.2,324.9 826.5,325.0 826.7,325.2 827.0,324.9 827.3,325.1 827.6,325.2 827.9,324.9 828.2,324.8 828.5,324.7 828.8,324.4 829.0,324.3 829.3,325.3 829.6,324.8 829.9,324.6 830.2,325.4 830.5,325.2 830.8,324.9 831.1,325.2 831.3,324.8 831.6,325.0 831.9,325.5 832.2,325.3 832.5,324.8 832.8,325.2 833.1,325.4 833.4,325.0 833.6,324.9 833.9,325.7 834.2,325.0 834.5,324.6 834.8,325.1 835.1,325.9 835.4,325.3 835.7,325.4 835.9,324.4 836.2,324.9 836.5,325.5 836.8,325.0 837.1,325.6 837.4,325.3 837.7,325.3 837.9,325.8 838.2,325.0 838.5,325.0 838.8,325.2 839.1,325.3 839.4,324.6 839.7,325.6 840.0,325.3 840.2,325.1 840.5,325.4 840.8,325.0 841.1,325.6 841.4,325.2 841.7,325.4 842.0,324.8 842.3,325.0 842.5,325.2 842.8,324.7 843.1,324.8 843.4,325.0 843.7,325.3 844.0,325.2 844.3,325.2 844.6,325.0 844.8,325.2 845.1,325.4 845.4,325.0 845.7,325.1 846.0,325.1 846.3,324.2 846.6,324.9 846.8,325.1 847.1,325.2 847.4,324.8 847.7,325.3 848.0,324.7 848.3,324.9 848.6,325.5 848.9,324.5 849.1,324.9 849.4,324.9 849.7,325.0 850.0,324.8 850.3,325.2 850.6,324.7 850.9,324.6 851.2,325.2 851.4,324.7 851.7,325.2 852.0,325.1 852.3,324.9 852.6,325.0 852.9,325.1 853.2,325.3 853.5,324.9 853.7,325.1 854.0,324.7 854.3,325.1 854.6,324.5 854.9,325.2 855.2,325.0 855.5,325.9 855.7,325.6 856.0,325.1 856.3,325.5 856.6,325.2 856.9,324.7 857.2,324.3 857.5,325.4 857.8,325.2 858.0,324.4 858.3,325.2 858.6,325.3 858.9,324.7 859.2,325.2 859.5,324.4 859.8,324.9 860.1,325.0 860.3,325.2 860.6,325.1 860.9,325.0 861.2,325.1 861.5,324.7 861.8,325.4 862.1,324.8 862.4,325.2 862.6,324.9 862.9,324.8 863.2,325.1 863.5,325.1 863.8,325.3 864.1,325.2 864.4,324.7 864.6,325.0 864.9,324.9 865.2,324.6 865.5,324.4 865.8,324.9 866.1,324.6 866.4,324.3 866.7,324.8 866.9,324.9 867.2,324.8 867.5,324.4 867.8,324.6 868.1,325.3 868.4,324.6 868.7,324.8 869.0,325.7 869.2,325.0 869.5,324.7 869.8,324.2 870.1,325.0 870.4,324.4 870.7,324.9 871.0,324.6 871.3,324.3 871.5,325.4 871.8,324.8 872.1,325.1 872.4,325.0 872.7,324.4 873.0,324.7 873.3,324.5 873.5,324.9 873.8,324.7 874.1,324.4 874.4,325.1 874.7,324.6 875.0,324.6 875.3,324.2 875.6,324.6 875.8,323.9 876.1,324.6 876.4,324.1 876.7,324.4 877.0,324.2 877.3,324.4 877.6,324.4 877.9,324.2 878.1,324.2 878.4,323.7 878.7,323.5 879.0,324.5 879.3,324.2 879.6,323.4 879.9,324.5 880.2,323.5 880.4,323.8 880.7,323.7 881.0,323.5 881.3,323.5 881.6,322.7 881.9,323.0 882.2,322.8 882.4,322.7 882.7,322.4 883.0,322.1 883.3,321.8 883.6,322.0 883.9,321.1 884.2,321.1 884.5,320.6 884.7,319.9 885.0,319.4 885.3,318.6 885.6,317.3 885.9,316.4 886.2,315.5 886.5,312.8 886.8,311.1 887.0,308.7 887.3,307.2 887.6,303.3 887.9,300.8 888.2,298.1 888.5,294.6 888.8,292.3 889.1,290.2 889.3,288.9 889.6,289.3 889.9,290.5 890.2,292.0 890.5,294.7 890.8,297.7 891.1,300.8 891.3,302.8 891.6,306.1 891.9,308.1 892.2,309.8 892.5,312.1 892.8,314.2 893.1,315.4 893.4,316.0 893.6,317.8 893.9,318.2 894.2,318.6 894.5,318.9 894.8,319.5 895.1,319.5 895.4,320.2 895.7,320.0 895.9,320.2 896.2,319.8 896.5,319.4 896.8,320.0 897.1,319.3 897.4,319.3 897.7,319.1 898.0,318.4 898.2,318.5 898.5,317.1 898.8,317.3 899.1,315.7 899.4,315.1 899.7,313.9 900.0,311.6 900.2,309.8 900.5,308.2 900.8,305.6 901.1,302.9 901.4,299.5 901.7,296.5 902.0,294.3 902.3,291.7 902.5,288.5 902.8,286.7 903.1,286.1 903.4,286.2 903.7,287.2 904.0,288.8 904.3,290.8 904.6,294.8 904.8,297.2 905.1,300.8 905.4,302.6 905.7,306.1 906.0,308.2 906.3,310.2 906.6,312.8 906.9,314.5 907.1,315.3 907.4,316.9 907.7,317.4 908.0,318.4 908.3,319.2 908.6,319.8 908.9,320.6 909.1,320.4 909.4,321.5 909.7,321.9 910.0,321.7 910.3,321.7 910.6,321.5 910.9,322.5 911.2,322.4 911.4,322.9 911.7,322.6 912.0,323.1 912.3,323.2 912.6,323.3 912.9,323.5 913.2,323.6 913.5,323.9 913.7,323.4 914.0,324.0 914.3,323.9 914.6,323.7 914.9,323.6 915.2,324.5 915.5,324.1 915.8,323.9 916.0,324.1 916.3,324.2 916.6,324.0 916.9,323.8 917.2,324.3 917.5,324.3 917.8,324.3 918.0,324.7 918.3,324.0 918.6,324.1 918.9,324.5 919.2,324.8 919.5,324.8 919.8,324.8 920.1,323.9 920.3,324.8 920.6,324.8 920.9,324.9 921.2,324.5 921.5,324.9 921.8,325.1 922.1,325.3 922.4,324.9 922.6,324.4 922.9,324.8 923.2,325.0 923.5,325.0 923.8,325.5 924.1,324.8 924.4,324.5 924.7,324.6 924.9,325.1 925.2,324.6 925.5,324.5 925.8,324.6 926.1,325.3 926.4,325.0 926.7,324.8 926.9,325.2 927.2,325.2 927.5,324.6 927.8,325.3 928.1,325.1 928.4,324.3 928.7,324.6 929.0,325.1 929.2,325.2 929.5,324.9 929.8,324.6 930.1,325.0 930.4,324.3 930.7,325.1 931.0,324.9 931.3,324.9 931.5,324.7 931.8,325.1 932.1,324.1 932.4,324.5 932.7,325.0 933.0,324.6 933.3,325.3 933.6,325.0 933.8,324.6 934.1,325.3 934.4,324.9 934.7,325.1 935.0,324.7 935.3,324.8 935.6,325.2 935.8,325.0 936.1,324.7 936.4,324.7 936.7,325.2 937.0,325.6 937.3,324.7 937.6,325.2 937.9,324.0 938.1,324.5 938.4,325.2 938.7,325.4 939.0,324.9 939.3,325.1 939.6,324.9 939.9,325.2 940.2,324.5 940.4,325.0 940.7,324.6 941.0,324.6 941.3,324.7 941.6,324.6 941.9,324.4 942.2,324.5 942.5,324.2 942.7,325.0 943.0,324.6 943.3,324.2 943.6,324.7 943.9,324.4 944.2,324.0 944.5,323.4 944.7,323.4 945.0,323.1 945.3,323.0 945.6,321.9 945.9,321.2 946.2,321.4 946.5,320.2 946.8,318.9 947.0,317.4 947.3,316.7 947.6,315.7 947.9,314.3 948.2,313.0 948.5,311.5 948.8,310.7 949.1,309.1 949.3,308.3 949.6,307.8 949.9,307.6 950.2,308.6 950.5,307.9 950.8,309.4 951.1,310.0 951.4,311.1 951.6,312.8 951.9,313.5 952.2,315.3 952.5,317.3 952.8,317.7 953.1,318.9 953.4,319.4 953.6,320.7 953.9,320.8 954.2,322.0 954.5,322.4 954.8,323.6 955.1,323.3 955.4,323.5 955.7,323.6 955.9,323.6 956.2,324.5 956.5,324.8 956.8,324.3 957.1,324.8 957.4,324.5 957.7,324.8 958.0,324.9 958.2,324.3 958.5,324.5 958.8,325.1 959.1,324.2 959.4,324.9 959.7,324.8 960.0,324.6 960.3,325.0 960.5,325.1 960.8,325.2 961.1,324.1 961.4,325.6 961.7,324.9 962.0,325.4 962.3,325.1 962.5,324.9 962.8,325.1 963.1,326.2 963.4,325.7 963.7,325.1 964.0,325.3 964.3,325.6 964.6,325.4 964.8,325.2 965.1,325.1 965.4,324.8 965.7,325.4 966.0,325.6 966.3,325.9 966.6,325.0 966.9,325.4 967.1,325.2 967.4,325.6 967.7,325.1 968.0,324.9 968.3,324.6 968.6,325.4 968.9,325.2 969.2,325.6 969.4,325.0 969.7,326.1 970.0,325.0 970.3,325.4 970.6,325.4 970.9,325.7 971.2,325.2 971.4,325.0 971.7,325.0 972.0,325.6 972.3,325.4 972.6,325.5 972.9,325.1 973.2,325.4 973.5,325.4 973.7,325.6 974.0,324.9 974.3,325.1 974.6,325.9 974.9,325.2 975.2,325.3 975.5,325.2 975.8,324.8 976.0,325.0 976.3,325.5 976.6,325.1 976.9,326.0 977.2,324.8 977.5,324.7 977.8,325.2 978.1,324.9 978.3,325.8 978.6,325.2 978.9,325.5 979.2,324.8 979.5,325.5 979.8,325.5 980.1,325.7 980.3,325.3 980.6,325.4 980.9,325.3 981.2,325.6 981.5,325.1 981.8,325.5 982.1,325.1 982.4,325.5 982.6,325.2 982.9,325.1 983.2,325.1 983.5,325.9 983.8,324.9 984.1,324.9 984.4,325.6 984.7,325.1 984.9,325.3 985.2,325.3 985.5,326.2 985.8,325.2 986.1,325.2 986.4,325.3 986.7,325.5 987.0,325.6 987.2,324.9 987.5,325.5 987.8,326.0 988.1,324.8 988.4,325.6 988.7,325.6 989.0,325.4 989.2,325.3 989.5,324.6 989.8,325.7 990.1,325.2 990.4,325.3 990.7,325.7 991.0,324.6 991.3,325.3 991.5,325.5 991.8,325.5 992.1,325.5 992.4,326.0 992.7,325.4 993.0,325.6 993.3,325.5 993.6,324.8 993.8,325.0 994.1,326.0 994.4,325.2 994.7,325.3 995.0,324.9 995.3,325.2 995.6,324.9 995.9,325.2 996.1,325.6 996.4,325.1 996.7,325.2 997.0,325.9 997.3,325.6 997.6,325.6 997.9,325.8 998.1,325.3 998.4,325.3 998.7,324.8 999.0,325.7 999.3,325.4 999.6,325.4 999.9,325.1 1000.2,325.6 1000.4,325.6 1000.7,325.5 1001.0,324.9 1001.3,325.1 1001.6,325.4 1001.9,325.1 1002.2,325.6 1002.5,325.8 1002.7,325.2 1003.0,325.4 1003.3,325.2 1003.6,325.8 1003.9,325.8 1004.2,326.4 1004.5,325.5 1004.8,325.2 1005.0,325.6 1005.3,325.4 1005.6,325.5 1005.9,325.9 1006.2,325.4 1006.5,325.7 1006.8,324.8 1007.0,325.8 1007.3,325.5 1007.6,325.3 1007.9,325.2 1008.2,325.8 1008.5,325.2 1008.8,325.8 1009.1,325.2 1009.3,325.4 1009.6,325.5 1009.9,326.0 1010.2,325.4 1010.5,325.4 1010.8,325.3 1011.1,325.3 1011.4,325.2 1011.6,326.0 1011.9,325.9 1012.2,325.2 1012.5,325.5 1012.8,325.1 1013.1,325.8 1013.4,325.7 1013.7,325.5 1013.9,325.2 1014.2,325.7 1014.5,325.7 1014.8,325.4 1015.1,325.7 1015.4,325.0 1015.7,325.3 1015.9,325.2 1016.2,325.5 1016.5,326.0 1016.8,325.5 1017.1,325.8 1017.4,325.4 1017.7,325.3 1018.0,325.8 1018.2,325.6 1018.5,325.9 1018.8,325.7 1019.1,325.1 1019.4,324.6 1019.7,325.4 1020.0,325.0 1020.3,324.9 1020.5,324.9 1020.8,325.1 1021.1,325.2 1021.4,325.3 1021.7,325.9 1022.0,324.9 1022.3,325.3 1022.6,324.9 1022.8,325.0 1023.1,325.3 1023.4,325.4 1023.7,324.9 1024.0,325.7 1024.3,325.1 1024.6,325.7 1024.8,325.4 1025.1,325.7 1025.4,325.6 1025.7,325.4 1026.0,325.7 1026.3,325.1 1026.6,325.1 1026.9,325.4 1027.1,326.0 1027.4,325.3 1027.7,325.4 1028.0,326.1 1028.3,325.6 1028.6,325.6 1028.9,325.2 1029.2,325.6 1029.4,325.7 1029.7,325.5 1030.0,325.7 1030.3,325.6 1030.6,325.8 1030.9,325.7 1031.2,325.4 1031.5,325.7 1031.7,326.0 1032.0,325.6 1032.3,325.1 1032.6,325.5 1032.9,325.4 1033.2,326.3 1033.5,325.7 1033.7,325.1 1034.0,325.4 1034.3,326.0 1034.6,325.2 1034.9,325.4 1035.2,325.5 1035.5,325.5 1035.8,325.4 1036.0,325.6 1036.3,325.1 1036.6,325.4 1036.9,325.4 1037.2,325.5 1037.5,325.5 1037.8,325.6 1038.1,325.5 1038.3,325.5 1038.6,325.7 1038.9,325.9 1039.2,325.9 1039.5,325.2 1039.8,325.6 1040.1,325.8 1040.4,325.5 1040.6,325.7 1040.9,325.5 1041.2,325.6 1041.5,325.0 1041.8,325.6 1042.1,325.3 1042.4,325.2 1042.6,325.4 1042.9,325.7 1043.2,325.7 1043.5,325.5 1043.8,325.7 1044.1,325.3 1044.4,325.0 1044.7,324.8 1044.9,325.4 1045.2,325.4 1045.5,325.4 1045.8,325.4 1046.1,325.8 1046.4,325.1 1046.7,325.2 1047.0,326.0 1047.2,325.7 1047.5,325.3 1047.8,324.8 1048.1,325.2 1048.4,325.3 1048.7,325.4 1049.0,325.5 1049.3,325.4 1049.5,325.8 1049.8,325.1 1050.1,325.3 1050.4,325.2 1050.7,325.6 1051.0,325.4 1051.3,325.6 1051.5,325.4 1051.8,326.5 1052.1,325.5 1052.4,325.1 1052.7,325.3 1053.0,325.2 1053.3,325.5 1053.6,325.6 1053.8,325.4 1054.1,325.2 1054.4,325.1 1054.7,325.7 1055.0,325.6 1055.3,324.4 1055.6,325.3 1055.9,325.0 1056.1,325.1 1056.4,325.8 1056.7,324.9 1057.0,325.0 1057.3,326.0 1057.6,325.2 1057.9,325.2 1058.2,325.7 1058.4,325.2 1058.7,325.3 1059.0,325.4 1059.3,325.8 1059.6,324.9 1059.9,325.1 1060.2,325.3 1060.4,325.6 1060.7,325.1 1061.0,325.4 1061.3,325.1 1061.6,325.1 1061.9,325.6 1062.2,325.1 1062.5,326.0 1062.7,325.2 1063.0,325.4 1063.3,325.2 1063.6,324.5 1063.9,324.5 1064.2,325.0 1064.5,324.5 1064.8,324.6 1065.0,324.6 1065.3,324.3 1065.6,324.9 1065.9,324.7 1066.2,324.4 1066.5,324.4 1066.8,323.9 1067.1,324.3 1067.3,323.7 1067.6,324.2 1067.9,323.5 1068.2,323.3 1068.5,323.7 1068.8,323.4 1069.1,322.7 1069.3,323.0 1069.6,322.6 1069.9,322.5 1070.2,322.4 1070.5,322.2 1070.8,322.1 1071.1,321.8 1071.4,321.5 1071.6,321.2 1071.9,321.5 1072.2,320.6 1072.5,321.2 1072.8,321.1 1073.1,320.9 1073.4,320.1 1073.7,320.6 1073.9,320.2 1074.2,320.0 1074.5,320.5 1074.8,319.6 1075.1,319.6 1075.4,319.0 1075.7,318.7 1076.0,319.4 1076.2,319.4 1076.5,319.5 1076.8,319.4 1077.1,318.8 1077.4,319.5 1077.7,319.8 1078.0,320.1 1078.2,319.4 1078.5,319.6 1078.8,319.7 1079.1,319.9 1079.4,319.7 1079.7,320.1 1080.0,320.9 1080.3,320.3 1080.5,320.2 1080.8,320.8 1081.1,320.9 1081.4,321.3 1081.7,321.0 1082.0,321.3 1082.3,321.2 1082.6,321.3 1082.8,321.7 1083.1,321.7 1083.4,321.7 1083.7,322.0 1084.0,321.6 1084.3,321.9 1084.6,322.0 1084.9,322.3 1085.1,321.4 1085.4,321.9 1085.7,322.1 1086.0,321.8 1086.3,322.0 1086.6,322.2 1086.9,322.1 1087.1,321.4 1087.4,321.6 1087.7,321.1 1088.0,322.0 1088.3,321.9 1088.6,322.2 1088.9,321.8 1089.2,321.4 1089.4,322.1 1089.7,321.4 1090.0,321.7 1090.3,321.7 1090.6,322.0 1090.9,322.0 1091.2,321.7 1091.5,321.6 1091.7,321.9 1092.0,321.8 1092.3,322.3 1092.6,322.2 1092.9,322.5 1093.2,322.9 1093.5,322.0 1093.8,322.2 1094.0,322.6 1094.3,322.7 1094.6,322.6 1094.9,322.3 1095.2,323.6 1095.5,323.0 1095.8,322.7 1096.0,322.5 1096.3,323.7 1096.6,323.5 1096.9,323.5 1097.2,323.4 1097.5,323.7 1097.8,323.8 1098.1,323.3 1098.3,324.8 1098.6,324.3 1098.9,324.2 1099.2,324.1 1099.5,324.3 1099.8,325.2 1100.1,324.7 1100.4,324.3 1100.6,325.0 1100.9,325.0 1101.2,325.0 1101.5,324.9 1101.8,324.9 1102.1,325.1 1102.4,325.0 1102.7,324.7 1102.9,324.8 1103.2,325.1 1103.5,324.7 1103.8,325.1 1104.1,325.1 1104.4,325.4 1104.7,325.3 1104.9,325.2 1105.2,325.2 1105.5,325.4 1105.8,325.5 1106.1,325.0 1106.4,324.8 1106.7,325.1 1107.0,324.6 1107.2,325.0 1107.5,325.5 1107.8,325.5 1108.1,325.6 1108.4,325.2 1108.7,325.2 1109.0,325.0 1109.3,325.0 1109.5,325.2 1109.8,325.4 1110.1,325.3 1110.4,324.6 1110.7,325.3 1111.0,325.2 1111.3,325.0 1111.6,325.2 1111.8,325.4 1112.1,325.3 1112.4,325.0 1112.7,326.2 1113.0,325.1 1113.3,325.4 1113.6,325.6 1113.8,325.0 1114.1,325.4 1114.4,325.0 1114.7,325.2 1115.0,325.0 1115.3,325.7 1115.6,324.8 1115.9,325.3 1116.1,325.1 1116.4,324.5 1116.7,325.5 1117.0,324.8 1117.3,324.9 1117.6,324.9 1117.9,324.6 1118.2,324.6 1118.4,324.7 1118.7,324.4 1119.0,324.6 1119.3,324.8 1119.6,324.1 1119.9,323.8 1120.2,324.1 1120.5,324.1 1120.7,324.0 1121.0,323.4 1121.3,322.9 1121.6,323.6 1121.9,323.4 1122.2,323.4 1122.5,322.5 1122.8,322.7 1123.0,322.6 1123.3,321.6 1123.6,322.1 1123.9,322.0 1124.2,321.6 1124.5,321.4 1124.8,321.3 1125.0,320.9 1125.3,320.5 1125.6,320.5 1125.9,320.7 1126.2,320.5 1126.5,321.0 1126.8,320.7 1127.1,320.8 1127.3,320.5 1127.6,321.2 1127.9,321.1 1128.2,321.9 1128.5,321.2 1128.8,322.0 1129.1,322.0 1129.4,322.3 1129.6,323.1 1129.9,323.1 1130.2,322.9 1130.5,323.7 1130.8,323.4 1131.1,323.9 1131.4,323.5 1131.7,324.0 1131.9,324.2 1132.2,324.3 1132.5,324.1 1132.8,324.1 1133.1,324.7 1133.4,325.0 1133.7,324.9 1133.9,324.8 1134.2,324.6 1134.5,324.9 1134.8,324.9 1135.1,324.9 1135.4,325.1 1135.7,325.1 1136.0,325.2 1136.2,325.0 1136.5,324.9 1136.8,325.0 1137.1,325.0 1137.4,324.6 1137.7,324.9 1138.0,324.6 1138.3,324.5 1138.5,324.7 1138.8,324.8 1139.1,325.1 1139.4,324.8 1139.7,324.9 1140.0,325.1 1140.3,324.8 1140.6,324.8 1140.8,324.4 1141.1,324.8 1141.4,324.5 1141.7,324.4 1142.0,324.0 1142.3,324.0 1142.6,323.9 1142.8,323.9 1143.1,324.0 1143.4,323.2 1143.7,323.2 1144.0,323.0 1144.3,323.4 1144.6,322.5 1144.9,322.1 1145.1,322.0 1145.4,321.2 1145.7,321.2 1146.0,320.2 1146.3,320.7 1146.6,319.7 1146.9,319.2 1147.2,318.4 1147.4,318.3 1147.7,317.8 1148.0,317.2 1148.3,317.2 1148.6,316.4 1148.9,316.1 1149.2,315.9 1149.5,315.8 1149.7,315.2 1150.0,315.2 1150.3,315.2 1150.6,315.2 1150.9,314.7 1151.2,315.6 1151.5,315.5 1151.7,315.7 1152.0,316.2 1152.3,316.1 1152.6,316.8 1152.9,317.5 1153.2,318.3 1153.5,318.4 1153.8,319.0 1154.0,319.3 1154.3,320.1 1154.6,320.2 1154.9,320.8 1155.2,321.1 1155.5,321.3 1155.8,321.7 1156.1,322.1 1156.3,322.9 1156.6,323.7 1156.9,323.1 1157.2,323.2 1157.5,323.7 1157.8,323.9 1158.1,323.8 1158.4,324.6 1158.6,324.4 1158.9,324.6 1159.2,324.4 1159.5,324.5 1159.8,324.8 1160.1,324.3 1160.4,324.5 1160.6,324.8 1160.9,324.4 1161.2,325.3 1161.5,324.7 1161.8,324.8 1162.1,325.0 1162.4,325.3 1162.7,324.9 1162.9,324.8 1163.2,324.7 1163.5,325.0 1163.8,324.8 1164.1,325.5 1164.4,325.3 1164.7,324.2 1165.0,324.7 1165.2,325.0 1165.5,325.5 1165.8,324.4 1166.1,324.8 1166.4,325.2 1166.7,324.7 1167.0,324.8 1167.3,324.7 1167.5,324.9 1167.8,324.4 1168.1,324.6 1168.4,324.2 1168.7,324.7 1169.0,324.5 1169.3,324.2 1169.5,324.1 1169.8,323.9 1170.1,323.7 1170.4,323.6 1170.7,323.5 1171.0,323.2 1171.3,322.8 1171.6,322.6 1171.8,322.4 1172.1,322.4 1172.4,322.0 1172.7,322.2 1173.0,321.4 1173.3,321.2 1173.6,320.8 1173.9,320.7 1174.1,320.3 1174.4,320.0 1174.7,320.1 1175.0,320.2 1175.3,319.5 1175.6,319.4 1175.9,319.5 1176.2,319.5 1176.4,319.8 1176.7,319.3 1177.0,319.5 1177.3,319.5 1177.6,319.6 1177.9,319.9 1178.2,319.9 1178.4,320.5 1178.7,320.9 1179.0,320.8 1179.3,321.0 1179.6,321.7 1179.9,321.6 1180.2,322.3 1180.5,321.6 1180.7,322.5 1181.0,322.5 1181.3,322.9 1181.6,323.4 1181.9,323.7 1182.2,323.6 1182.5,324.1 1182.8,323.8 1183.0,324.2 1183.3,324.3 1183.6,324.0 1183.9,324.8 1184.2,324.5 1184.5,324.8 1184.8,324.6 1185.1,324.9 1185.3,325.0 1185.6,324.9 1185.9,324.8 1186.2,325.1 1186.5,325.0 1186.8,324.8 1187.1,324.9 1187.3,324.9 1187.6,324.8 1187.9,325.1 1188.2,325.3 1188.5,324.7 1188.8,324.8 1189.1,324.5 1189.4,324.4 1189.6,324.9 1189.9,324.4 1190.2,324.6 1190.5,324.1 1190.8,324.2 1191.1,324.3 1191.4,324.2 1191.7,324.1 1191.9,324.0 1192.2,323.8 1192.5,323.9 1192.8,324.0 1193.1,323.6 1193.4,323.4 1193.7,323.1 1194.0,323.1 1194.2,323.1 1194.5,323.5 1194.8,322.8 1195.1,322.9 1195.4,322.9 1195.7,323.4 1196.0,323.1 1196.2,322.9 1196.5,322.9 1196.8,323.6 1197.1,323.2 1197.4,324.0 1197.7,324.1 1198.0,323.7 1198.3,324.0 1198.5,324.3 1198.8,324.0 1199.1,324.2 1199.4,324.5 1199.7,324.7 1200.0,324.9 1200.3,324.5 1200.6,325.0 1200.8,325.0 1201.1,325.0 1201.4,325.0 1201.7,325.4 1202.0,325.6 1202.3,325.1 1202.6,325.2 1202.9,324.9 1203.1,325.2 1203.4,325.4 1203.7,325.3 1204.0,325.4 1204.3,325.3 1204.6,325.3 1204.9,325.5 1205.1,325.5 1205.4,324.9 1205.7,325.3 1206.0,324.7 1206.3,325.4 1206.6,325.3 1206.9,325.3 1207.2,325.8 1207.4,325.5 1207.7,325.7 1208.0,325.6 1208.3,325.8 1208.6,325.4 1208.9,325.4 1209.2,325.4 1209.5,326.0 1209.7,325.4 1210.0,325.5 1210.3,325.8 1210.6,325.7 1210.9,325.4 1211.2,325.9 1211.5,325.6 1211.8,325.8 1212.0,325.7 1212.3,325.7 1212.6,325.4 1212.9,325.9 1213.2,325.4 1213.5,325.6 1213.8,325.8 1214.0,325.5 1214.3,325.6 1214.6,325.5 1214.9,325.6 1215.2,325.7 1215.5,325.2 1215.8,325.4 1216.1,326.0 1216.3,325.1 1216.6,325.4 1216.9,325.7 1217.2,325.1 1217.5,325.3 1217.8,325.3 1218.1,325.8 1218.4,325.3 1218.6,325.6 1218.9,325.3 1219.2,325.4 1219.5,325.2 1219.8,325.1 1220.1,325.3 1220.4,325.1 1220.7,325.4 1220.9,325.4 1221.2,325.5 1221.5,325.7 1221.8,325.7 1222.1,325.2 1222.4,325.2 1222.7,325.8 1222.9,325.4 1223.2,325.3 1223.5,325.6 1223.8,325.3 1224.1,325.6 1224.4,325.4 1224.7,325.7 1225.0,325.4 1225.2,325.6 1225.5,325.7 1225.8,325.8 1226.1,325.3 1226.4,325.4 1226.7,325.2 1227.0,325.1 1227.3,325.4 1227.5,325.5 1227.8,325.8 1228.1,325.4 1228.4,325.9 1228.7,325.5 1229.0,325.7 1229.3,325.4 1229.6,325.2 1229.8,325.8 1230.1,325.4 1230.4,325.7 1230.7,325.4 1231.0,325.6 1231.3,325.5 1231.6,325.4 1231.8,325.5 1232.1,325.6 1232.4,325.2 1232.7,325.3 1233.0,325.7 1233.3,325.3 1233.6,325.5 1233.9,325.2 1234.1,325.4 1234.4,325.7 1234.7,325.5 1235.0,325.5 1235.3,325.4 1235.6,325.5 1235.9,325.1 1236.2,325.1 1236.4,325.5 1236.7,325.0 1237.0,325.7 1237.3,325.6 1237.6,325.2 1237.9,325.0 1238.2,324.9 1238.5,325.5 1238.7,325.4 1239.0,325.7 1239.3,325.5 1239.6,325.7 1239.9,325.6 1240.2,325.2 1240.5,325.4 1240.7,325.3 1241.0,325.4 1241.3,325.3 1241.6,325.4 1241.9,325.7 1242.2,325.3 1242.5,325.2 1242.8,325.3 1243.0,325.4 1243.3,325.3 1243.6,325.4 1243.9,325.4 1244.2,325.7 1244.5,325.6 1244.8,325.3 1245.1,325.7 1245.3,325.8 1245.6,325.5 1245.9,325.3 1246.2,325.6 1246.5,325.5 1246.8,325.6 1247.1,325.3 1247.4,325.9 1247.6,325.4 1247.9,325.6 1248.2,325.4 1248.5,325.5 1248.8,325.0 1249.1,325.2 1249.4,325.0 1249.6,325.7 1249.9,325.2 1250.2,325.1 1250.5,325.7 1250.8,325.4 1251.1,325.4 1251.4,325.7 1251.7,325.6 1251.9,325.5 1252.2,325.6 1252.5,325.1 1252.8,325.7 1253.1,325.7 1253.4,325.8 1253.7,325.0 1254.0,325.3 1254.2,325.3 1254.5,325.8 1254.8,325.6 1255.1,325.8 1255.4,325.5 1255.7,325.3 1256.0,325.2 1256.3,325.3 1256.5,325.7 1256.8,325.2 1257.1,325.1 1257.4,325.5 1257.7,325.7 1258.0,325.9 1258.3,325.7" fill="none" stroke="#000000" stroke-width="8.6" stroke-linejoin="round" stroke-linecap="butt"/>
<polyline points="109.0,560.8 109.3,560.4 109.6,560.5 109.9,559.3 110.1,561.8 110.4,561.5 110.7,560.6 111.0,561.3 111.3,561.0 111.6,560.5 111.9,561.4 112.2,560.6 112.4,560.6 112.7,560.3 113.0,561.0 113.3,560.7 113.6,561.1 113.9,560.4 114.2,560.8 114.5,560.2 114.7,561.3 115.0,560.9 115.3,561.0 115.6,561.1 115.9,560.2 116.2,561.4 116.5,562.1 116.8,560.0 117.0,559.9 117.3,560.1 117.6,561.5 117.9,561.1 118.2,561.7 118.5,561.5 118.8,561.2 119.0,561.2 119.3,560.9 119.6,561.6 119.9,560.3 120.2,560.8 120.5,561.1 120.8,562.1 121.1,560.5 121.3,560.3 121.6,560.6 121.9,561.5 122.2,560.7 122.5,561.6 122.8,559.7 123.1,561.5 123.4,561.4 123.6,559.9 123.9,560.9 124.2,561.5 124.5,560.8 124.8,561.4 125.1,562.2 125.4,560.9 125.7,560.6 125.9,560.3 126.2,561.2 126.5,560.7 126.8,560.7 127.1,560.7 127.4,561.2 127.7,560.2 127.9,559.9 128.2,559.4 128.5,561.6 128.8,560.9 129.1,561.8 129.4,560.9 129.7,560.5 130.0,561.2 130.2,560.9 130.5,560.2 130.8,560.4 131.1,562.0 131.4,561.2 131.7,561.2 132.0,560.8 132.3,560.6 132.5,561.5 132.8,561.0 133.1,560.6 133.4,561.0 133.7,560.6 134.0,561.3 134.3,561.9 134.6,560.7 134.8,562.1 135.1,560.9 135.4,561.4 135.7,560.9 136.0,561.3 136.3,561.5 136.6,561.2 136.8,561.1 137.1,561.1 137.4,561.0 137.7,560.6 138.0,561.4 138.3,561.8 138.6,562.1 138.9,561.9 139.1,563.0 139.4,561.7 139.7,561.2 140.0,562.6 140.3,560.8 140.6,562.0 140.9,560.8 141.2,561.6 141.4,560.2 141.7,561.8 142.0,561.2 142.3,560.7 142.6,562.2 142.9,561.7 143.2,561.2 143.5,560.7 143.7,561.1 144.0,561.0 144.3,561.6 144.6,561.6 144.9,560.7 145.2,560.8 145.5,560.8 145.7,560.3 146.0,560.8 146.3,561.1 146.6,561.6 146.9,561.9 147.2,560.7 147.5,561.5 147.8,560.9 148.0,562.5 148.3,561.2 148.6,561.5 148.9,560.7 149.2,560.8 149.5,561.4 149.8,561.0 150.1,561.5 150.3,560.3 150.6,561.6 150.9,560.7 151.2,562.3 151.5,561.0 151.8,561.9 152.1,560.3 152.4,561.4 152.6,560.6 152.9,560.9 153.2,561.2 153.5,560.9 153.8,561.3 154.1,561.6 154.4,561.5 154.6,561.1 154.9,560.4 155.2,560.7 155.5,561.1 155.8,560.0 156.1,561.7 156.4,561.1 156.7,561.2 156.9,561.9 157.2,561.8 157.5,561.5 157.8,560.8 158.1,561.6 158.4,561.6 158.7,560.9 159.0,562.0 159.2,561.7 159.5,560.2 159.8,561.5 160.1,560.7 160.4,562.1 160.7,561.9 161.0,560.8 161.3,560.9 161.5,561.5 161.8,561.3 162.1,562.4 162.4,561.9 162.7,561.3 163.0,561.8 163.3,560.3 163.5,561.7 163.8,562.1 164.1,561.4 164.4,561.1 164.7,561.9 165.0,562.7 165.3,561.7 165.6,560.9 165.8,562.5 166.1,560.5 166.4,561.9 166.7,561.3 167.0,562.2 167.3,561.2 167.6,562.5 167.9,561.9 168.1,560.7 168.4,560.5 168.7,561.5 169.0,562.5 169.3,561.8 169.6,561.8 169.9,561.6 170.2,562.1 170.4,561.9 170.7,561.8 171.0,561.0 171.3,562.3 171.6,562.4 171.9,560.7 172.2,562.9 172.4,561.9 172.7,561.2 173.0,560.3 173.3,561.8 173.6,561.8 173.9,561.1 174.2,560.4 174.5,562.1 174.7,561.1 175.0,561.2 175.3,563.2 175.6,562.8 175.9,562.2 176.2,561.3 176.5,562.0 176.8,560.3 177.0,561.7 177.3,561.2 177.6,560.9 177.9,560.8 178.2,562.0 178.5,561.8 178.8,561.8 179.1,562.2 179.3,561.2 179.6,561.0 179.9,560.6 180.2,561.5 180.5,562.1 180.8,561.6 181.1,562.1 181.3,561.0 181.6,561.4 181.9,561.2 182.2,560.9 182.5,562.8 182.8,562.1 183.1,561.2 183.4,561.1 183.6,561.5 183.9,560.7 184.2,561.8 184.5,560.7 184.8,561.2 185.1,560.8 185.4,561.1 185.7,560.6 185.9,560.4 186.2,560.7 186.5,560.9 186.8,561.1 187.1,561.3 187.4,562.2 187.7,561.7 188.0,561.1 188.2,561.7 188.5,560.9 188.8,562.2 189.1,561.7 189.4,560.6 189.7,561.9 190.0,561.9 190.2,559.8 190.5,561.0 190.8,561.2 191.1,560.3 191.4,560.8 191.7,560.9 192.0,561.8 192.3,561.7 192.5,563.1 192.8,561.2 193.1,562.2 193.4,561.5 193.7,561.6 194.0,560.8 194.3,560.3 194.6,561.0 194.8,562.0 195.1,562.5 195.4,561.9 195.7,561.8 196.0,561.0 196.3,562.5 196.6,562.3 196.9,561.2 197.1,561.5 197.4,560.9 197.7,562.4 198.0,561.7 198.3,561.4 198.6,561.7 198.9,561.7 199.1,561.2 199.4,560.7 199.7,560.7 200.0,560.4 200.3,561.7 200.6,562.8 200.9,560.4 201.2,561.5 201.4,561.7 201.7,560.9 202.0,561.6 202.3,560.8 202.6,562.2 202.9,561.1 203.2,561.6 203.5,561.9 203.7,561.3 204.0,560.5 204.3,561.2 204.6,562.0 204.9,561.5 205.2,561.7 205.5,561.0 205.8,561.7 206.0,562.1 206.3,561.7 206.6,562.8 206.9,561.5 207.2,561.0 207.5,560.7 207.8,562.4 208.0,561.6 208.3,562.3 208.6,562.0 208.9,562.7 209.2,562.4 209.5,561.4 209.8,561.8 210.1,562.3 210.3,560.9 210.6,562.5 210.9,562.3 211.2,562.1 211.5,561.4 211.8,561.7 212.1,560.8 212.4,561.4 212.6,561.0 212.9,561.3 213.2,560.9 213.5,561.4 213.8,561.8 214.1,560.3 214.4,561.6 214.7,559.8 214.9,559.6 215.2,560.8 215.5,560.8 215.8,561.0 216.1,559.7 216.4,560.6 216.7,560.7 216.9,561.3 217.2,560.4 217.5,560.7 217.8,559.8 218.1,560.2 218.4,560.0 218.7,560.6 219.0,559.6 219.2,559.6 219.5,560.4 219.8,561.0 220.1,560.1 220.4,559.9 220.7,559.4 221.0,560.1 221.3,559.6 221.5,560.1 221.8,559.1 222.1,558.1 222.4,558.1 222.7,557.5 223.0,557.1 223.3,558.2 223.6,557.6 223.8,555.9 224.1,557.2 224.4,555.6 224.7,554.2 225.0,554.2 225.3,553.0 225.6,551.3 225.8,549.2 226.1,548.8 226.4,547.3 226.7,543.6 227.0,543.4 227.3,541.0 227.6,537.8 227.9,535.2 228.1,531.7 228.4,527.8 228.7,524.3 229.0,520.4 229.3,509.7 229.6,491.9 229.9,474.4 230.2,457.1 230.4,441.6 230.7,425.6 231.0,410.8 231.3,396.5 231.6,382.3 231.9,368.7 232.2,360.9 232.5,352.6 232.7,351.4 233.0,355.1 233.3,363.6 233.6,376.0 233.9,388.9 234.2,404.5 234.5,419.4 234.7,433.4 235.0,450.2 235.3,465.3 235.6,484.4 235.9,501.7 236.2,515.6 236.5,521.2 236.8,525.7 237.0,529.8 237.3,533.1 237.6,536.0 237.9,539.1 238.2,541.9 238.5,545.2 238.8,545.3 239.1,547.8 239.3,549.2 239.6,550.4 239.9,551.9 240.2,553.2 240.5,555.0 240.8,555.2 241.1,555.6 241.4,556.8 241.6,557.1 241.9,557.2 242.2,557.9 242.5,557.4 242.8,558.6 243.1,558.7 243.4,558.4 243.6,558.1 243.9,559.9 244.2,559.2 244.5,561.1 244.8,559.0 245.1,560.0 245.4,559.3 245.7,559.8 245.9,560.3 246.2,559.4 246.5,559.9 246.8,560.1 247.1,560.1 247.4,560.5 247.7,560.8 248.0,560.7 248.2,560.5 248.5,560.2 248.8,559.8 249.1,560.1 249.4,560.2 249.7,561.0 250.0,560.4 250.3,560.0 250.5,561.1 250.8,560.3 251.1,560.4 251.4,560.7 251.7,561.1 252.0,559.4 252.3,560.2 252.5,561.0 252.8,560.7 253.1,560.4 253.4,560.5 253.7,561.7 254.0,560.6 254.3,561.3 254.6,561.3 254.8,560.5 255.1,561.0 255.4,560.4 255.7,560.3 256.0,559.9 256.3,561.0 256.6,560.1 256.9,559.8 257.1,559.3 257.4,560.8 257.7,559.9 258.0,559.0 258.3,558.3 258.6,557.4 258.9,558.1 259.2,557.6 259.4,556.0 259.7,557.0 260.0,556.2 260.3,554.6 260.6,554.2 260.9,553.7 261.2,553.4 261.5,552.7 261.7,551.2 262.0,552.5 262.3,551.3 262.6,551.4 262.9,551.1 263.2,549.9 263.5,550.0 263.7,550.2 264.0,550.2 264.3,549.8 264.6,549.7 264.9,550.4 265.2,550.3 265.5,550.9 265.8,550.5 266.0,552.2 266.3,552.1 266.6,553.0 266.9,553.8 267.2,554.6 267.5,556.0 267.8,555.5 268.1,555.0 268.3,556.3 268.6,556.3 268.9,557.2 269.2,556.8 269.5,557.0 269.8,557.4 270.1,557.4 270.4,556.8 270.6,557.6 270.9,558.0 271.2,558.8 271.5,557.9 271.8,557.9 272.1,558.4 272.4,558.3 272.6,558.9 272.9,558.3 273.2,557.9 273.5,558.6 273.8,558.7 274.1,557.4 274.4,557.7 274.7,556.6 274.9,557.3 275.2,556.9 275.5,557.3 275.8,557.1 276.1,557.2 276.4,557.2 276.7,557.5 277.0,557.4 277.2,556.9 277.5,556.4 277.8,557.9 278.1,558.1 278.4,557.0 278.7,557.6 279.0,556.4 279.3,556.4 279.5,557.3 279.8,558.4 280.1,557.0 280.4,557.2 280.7,558.8 281.0,556.8 281.3,558.4 281.5,558.4 281.8,558.1 282.1,558.5 282.4,560.0 282.7,557.9 283.0,558.5 283.3,558.7 283.6,558.5 283.8,558.2 284.1,560.0 284.4,559.3 284.7,558.2 285.0,558.9 285.3,559.7 285.6,559.8 285.9,558.8 286.1,559.7 286.4,560.0 286.7,560.1 287.0,560.2 287.3,559.0 287.6,561.3 287.9,560.4 288.2,561.4 288.4,562.1 288.7,560.4 289.0,559.8 289.3,561.1 289.6,560.6 289.9,560.5 290.2,560.2 290.4,561.9 290.7,560.7 291.0,560.1 291.3,560.8 291.6,560.4 291.9,561.2 292.2,560.9 292.5,560.6 292.7,561.6 293.0,560.9 293.3,561.7 293.6,562.1 293.9,561.1 294.2,561.0 294.5,561.5 294.8,562.0 295.0,561.5 295.3,561.6 295.6,561.5 295.9,561.7 296.2,561.9 296.5,561.1 296.8,561.3 297.1,561.6 297.3,561.2 297.6,561.7 297.9,561.9 298.2,561.6 298.5,561.3 298.8,561.2 299.1,562.7 299.3,562.2 299.6,561.1 299.9,561.2 300.2,562.8 300.5,562.6 300.8,561.9 301.1,562.5 301.4,561.0 301.6,561.9 301.9,562.3 302.2,560.8 302.5,561.4 302.8,562.3 303.1,562.5 303.4,561.5 303.7,562.0 303.9,562.7 304.2,561.6 304.5,561.0 304.8,561.6 305.1,561.4 305.4,562.3 305.7,561.6 306.0,561.0 306.2,562.7 306.5,561.0 306.8,561.5 307.1,561.6 307.4,561.6 307.7,561.2 308.0,561.5 308.2,561.1 308.5,560.3 308.8,561.0 309.1,561.0 309.4,561.0 309.7,561.2 310.0,560.8 310.3,561.8 310.5,562.0 310.8,559.8 311.1,561.0 311.4,560.6 311.7,559.5 312.0,561.2 312.3,560.6 312.6,560.7 312.8,560.5 313.1,561.5 313.4,561.6 313.7,561.0 314.0,561.2 314.3,560.8 314.6,561.0 314.9,560.5 315.1,560.9 315.4,560.5 315.7,561.2 316.0,561.5 316.3,561.2 316.6,561.8 316.9,562.7 317.1,560.1 317.4,561.3 317.7,561.0 318.0,561.1 318.3,560.7 318.6,561.6 318.9,561.4 319.2,561.3 319.4,561.6 319.7,561.5 320.0,560.6 320.3,562.5 320.6,561.8 320.9,561.5 321.2,562.3 321.5,561.8 321.7,561.0 322.0,562.7 322.3,561.4 322.6,562.2 322.9,562.4 323.2,563.1 323.5,563.0 323.8,562.5 324.0,562.0 324.3,562.2 324.6,563.0 324.9,563.3 325.2,562.7 325.5,562.0 325.8,562.9 326.0,562.1 326.3,562.1 326.6,562.2 326.9,562.7 327.2,562.5 327.5,562.9 327.8,563.1 328.1,562.7 328.3,561.2 328.6,561.5 328.9,562.6 329.2,562.5 329.5,563.7 329.8,562.5 330.1,562.5 330.4,563.1 330.6,563.2 330.9,562.5 331.2,562.9 331.5,562.1 331.8,562.2 332.1,563.4 332.4,562.0 332.7,563.2 332.9,563.1 333.2,563.2 333.5,563.3 333.8,563.1 334.1,561.7 334.4,562.3 334.7,562.5 334.9,563.3 335.2,562.3 335.5,562.5 335.8,562.7 336.1,563.6 336.4,562.2 336.7,562.3 337.0,563.3 337.2,561.9 337.5,563.2 337.8,562.8 338.1,562.2 338.4,562.8 338.7,562.5 339.0,563.1 339.3,563.2 339.5,563.8 339.8,563.0 340.1,563.0 340.4,562.7 340.7,562.9 341.0,563.5 341.3,561.9 341.6,563.3 341.8,562.7 342.1,563.0 342.4,563.1 342.7,563.4 343.0,563.1 343.3,562.8 343.6,563.2 343.8,563.1 344.1,563.0 344.4,563.3 344.7,563.6 345.0,563.3 345.3,563.4 345.6,562.7 345.9,563.3 346.1,562.4 346.4,563.8 346.7,563.0 347.0,564.2 347.3,565.1 347.6,563.4 347.9,564.3 348.2,563.8 348.4,563.3 348.7,563.2 349.0,563.9 349.3,564.4 349.6,563.8 349.9,562.9 350.2,563.1 350.5,563.5 350.7,564.3 351.0,563.7 351.3,563.7 351.6,564.1 351.9,563.4 352.2,563.5 352.5,563.4 352.7,562.6 353.0,563.7 353.3,563.7 353.6,564.0 353.9,563.0 354.2,563.2 354.5,564.1 354.8,563.8 355.0,564.4 355.3,563.3 355.6,563.8 355.9,563.4 356.2,563.9 356.5,563.6 356.8,564.1 357.1,564.4 357.3,564.1 357.6,562.9 357.9,564.3 358.2,564.0 358.5,563.2 358.8,563.3 359.1,563.7 359.4,564.0 359.6,563.4 359.9,562.8 360.2,563.7 360.5,563.6 360.8,564.7 361.1,562.9 361.4,564.7 361.6,564.3 361.9,563.6 362.2,564.2 362.5,563.4 362.8,563.9 363.1,563.0 363.4,563.4 363.7,562.8 363.9,562.5 364.2,563.2 364.5,563.0 364.8,563.6 365.1,563.9 365.4,563.2 365.7,563.4 366.0,563.4 366.2,562.5 366.5,563.5 366.8,563.4 367.1,563.4 367.4,562.9 367.7,562.5 368.0,563.4 368.3,563.7 368.5,564.2 368.8,564.1 369.1,564.2 369.4,563.7 369.7,564.1 370.0,563.4 370.3,563.8 370.5,564.0 370.8,564.8 371.1,563.6 371.4,562.9 371.7,564.2 372.0,563.1 372.3,563.4 372.6,563.3 372.8,563.0 373.1,564.1 373.4,563.7 373.7,563.1 374.0,563.4 374.3,563.2 374.6,563.7 374.9,563.2 375.1,563.0 375.4,563.1 375.7,563.2 376.0,563.6 376.3,563.0 376.6,563.4 376.9,563.7 377.2,564.6 377.4,563.9 377.7,562.1 378.0,563.3 378.3,563.4 378.6,563.8 378.9,564.4 379.2,564.0 379.4,562.6 379.7,563.9 380.0,563.8 380.3,564.0 380.6,564.4 380.9,563.3 381.2,564.4 381.5,563.1 381.7,563.9 382.0,564.0 382.3,564.9 382.6,563.5 382.9,563.1 383.2,564.2 383.5,563.6 383.8,564.6 384.0,563.6 384.3,563.5 384.6,564.5 384.9,564.0 385.2,564.5 385.5,563.4 385.8,564.8 386.1,563.8 386.3,564.4 386.6,563.6 386.9,563.4 387.2,564.0 387.5,564.2 387.8,564.8 388.1,564.2 388.3,564.4 388.6,564.3 388.9,565.4 389.2,563.6 389.5,564.6 389.8,563.9 390.1,564.1 390.4,563.7 390.6,564.4 390.9,563.3 391.2,563.3 391.5,563.7 391.8,563.3 392.1,564.1 392.4,564.2 392.7,563.5 392.9,564.2 393.2,563.5 393.5,563.8 393.8,563.8 394.1,564.7 394.4,563.8 394.7,563.4 395.0,563.4 395.2,564.3 395.5,563.0 395.8,563.6 396.1,563.6 396.4,562.7 396.7,563.5 397.0,564.2 397.2,563.8 397.5,563.3 397.8,563.9 398.1,563.8 398.4,564.5 398.7,563.2 399.0,563.4 399.3,563.5 399.5,563.4 399.8,563.5 400.1,563.4 400.4,563.2 400.7,562.8 401.0,563.2 401.3,562.9 401.6,563.1 401.8,563.3 402.1,563.8 402.4,564.0 402.7,563.2 403.0,563.8 403.3,564.1 403.6,563.7 403.9,563.1 404.1,562.9 404.4,564.2 404.7,564.3 405.0,564.0 405.3,563.5 405.6,564.6 405.9,564.5 406.1,564.0 406.4,563.9 406.7,563.2 407.0,564.4 407.3,563.4 407.6,564.4 407.9,564.4 408.2,564.1 408.4,564.8 408.7,563.9 409.0,564.3 409.3,564.4 409.6,564.1 409.9,563.8 410.2,564.5 410.5,564.2 410.7,563.9 411.0,563.9 411.3,564.0 411.6,564.9 411.9,564.0 412.2,563.8 412.5,563.5 412.8,563.4 413.0,563.2 413.3,564.1 413.6,564.0 413.9,563.6 414.2,563.4 414.5,563.9 414.8,563.8 415.0,563.5 415.3,564.2 415.6,564.1 415.9,564.0 416.2,564.4 416.5,563.8 416.8,564.6 417.1,563.6 417.3,564.2 417.6,564.2 417.9,563.8 418.2,564.1 418.5,563.3 418.8,563.2 419.1,563.8 419.4,563.5 419.6,564.1 419.9,563.9 420.2,564.1 420.5,564.0 420.8,563.9 421.1,563.9 421.4,563.7 421.7,563.7 421.9,564.8 422.2,563.2 422.5,563.9 422.8,564.4 423.1,564.2 423.4,564.6 423.7,564.3 423.9,563.5 424.2,563.9 424.5,563.5 424.8,564.5 425.1,564.7 425.4,563.9 425.7,564.3 426.0,563.9 426.2,563.5 426.5,563.9 426.8,563.5 427.1,563.9 427.4,564.2 427.7,564.5 428.0,564.7 428.3,564.0 428.5,564.2 428.8,564.3 429.1,564.4 429.4,563.0 429.7,563.8 430.0,564.4 430.3,563.6 430.6,564.2 430.8,564.4 431.1,563.2 431.4,563.9 431.7,564.0 432.0,563.9 432.3,563.3 432.6,564.0 432.8,563.6 433.1,564.2 433.4,564.0 433.7,563.6 434.0,563.8 434.3,563.5 434.6,563.5 434.9,563.1 435.1,563.7 435.4,564.1 435.7,563.8 436.0,563.8 436.3,563.5 436.6,563.6 436.9,564.1 437.2,563.2 437.4,564.6 437.7,563.8 438.0,564.7 438.3,564.3 438.6,563.7 438.9,564.1 439.2,564.0 439.5,564.0 439.7,564.2 440.0,563.7 440.3,563.6 440.6,563.7 440.9,563.4 441.2,563.8 441.5,564.0 441.7,564.1 442.0,564.1 442.3,563.8 442.6,564.3 442.9,563.2 443.2,563.9 443.5,563.9 443.8,564.4 444.0,564.4 444.3,564.4 444.6,564.1 444.9,564.5 445.2,563.7 445.5,564.2 445.8,563.3 446.1,564.8 446.3,564.8 446.6,563.9 446.9,563.8 447.2,563.3 447.5,563.6 447.8,564.2 448.1,564.1 448.4,563.6 448.6,563.9 448.9,563.9 449.2,564.3 449.5,564.4 449.8,564.0 450.1,564.2 450.4,564.1 450.6,563.3 450.9,564.2 451.2,564.1 451.5,564.4 451.8,563.4 452.1,564.4 452.4,563.9 452.7,564.2 452.9,564.5 453.2,563.5 453.5,563.6 453.8,564.4 454.1,563.6 454.4,563.6 454.7,564.2 455.0,563.9 455.2,564.2 455.5,564.0 455.8,563.9 456.1,564.2 456.4,564.6 456.7,563.8 457.0,564.3 457.3,564.2 457.5,563.8 457.8,563.9 458.1,563.4 458.4,563.5 458.7,563.8 459.0,563.7 459.3,564.2 459.5,563.3 459.8,563.6 460.1,563.5 460.4,563.7 460.7,564.2 461.0,563.3 461.3,564.1 461.6,563.6 461.8,563.7 462.1,564.2 462.4,563.8 462.7,564.1 463.0,564.0 463.3,563.9 463.6,563.8 463.9,563.4 464.1,563.7 464.4,564.1 464.7,564.1 465.0,563.5 465.3,564.4 465.6,564.3 465.9,563.6 466.2,563.7 466.4,564.3 466.7,563.4 467.0,563.8 467.3,564.0 467.6,564.0 467.9,564.0 468.2,564.1 468.4,563.7 468.7,563.8 469.0,564.6 469.3,563.4 469.6,563.7 469.9,563.9 470.2,563.6 470.5,564.2 470.7,563.8 471.0,564.0 471.3,562.8 471.6,564.1 471.9,564.0 472.2,563.3 472.5,564.0 472.8,563.6 473.0,563.9 473.3,564.2 473.6,563.5 473.9,563.1 474.2,563.5 474.5,563.0 474.8,563.2 475.1,563.2 475.3,563.2 475.6,563.9 475.9,563.7 476.2,563.1 476.5,563.8 476.8,562.8 477.1,563.2 477.3,563.4 477.6,563.8 477.9,563.6 478.2,563.5 478.5,563.8 478.8,563.6 479.1,563.8 479.4,563.0 479.6,562.7 479.9,563.1 480.2,563.5 480.5,563.2 480.8,563.4 481.1,563.3 481.4,563.2 481.7,563.2 481.9,562.6 482.2,563.1 482.5,562.3 482.8,562.5 483.1,562.0 483.4,562.5 483.7,561.7 484.0,562.6 484.2,561.5 484.5,562.0 484.8,561.7 485.1,561.3 485.4,561.8 485.7,561.1 486.0,561.5 486.2,560.4 486.5,560.3 486.8,559.6 487.1,560.1 487.4,559.9 487.7,559.2 488.0,558.6 488.3,557.8 488.5,558.3 488.8,556.9 489.1,555.1 489.4,554.6 489.7,552.7 490.0,552.7 490.3,551.3 490.6,549.7 490.8,547.9 491.1,546.4 491.4,544.6 491.7,543.3 492.0,539.9 492.3,536.1 492.6,530.6 492.9,522.3 493.1,514.9 493.4,510.3 493.7,505.6 494.0,500.4 494.3,492.8 494.6,488.6 494.9,488.7 495.1,493.5 495.4,500.5 495.7,506.0 496.0,509.9 496.3,514.5 496.6,522.1 496.9,530.8 497.2,535.9 497.4,541.0 497.7,543.3 498.0,545.1 498.3,547.4 498.6,547.8 498.9,549.4 499.2,550.6 499.5,552.3 499.7,553.5 500.0,554.9 500.3,556.3 500.6,556.2 500.9,556.7 501.2,558.6 501.5,558.8 501.8,559.5 502.0,559.5 502.3,560.5 502.6,560.9 502.9,560.1 503.2,561.0 503.5,560.7 503.8,560.5 504.0,561.0 504.3,561.4 504.6,560.7 504.9,560.7 505.2,561.5 505.5,560.9 505.8,560.9 506.1,560.2 506.3,560.2 506.6,560.2 506.9,560.0 507.2,559.8 507.5,560.0 507.8,559.3 508.1,558.5 508.4,558.6 508.6,558.8 508.9,559.2 509.2,558.5 509.5,558.7 509.8,558.9 510.1,558.8 510.4,559.0 510.7,559.5 510.9,560.1 511.2,560.2 511.5,560.2 511.8,560.7 512.1,560.4 512.4,561.3 512.7,561.3 512.9,561.2 513.2,560.6 513.5,561.7 513.8,559.8 514.1,560.2 514.4,559.8 514.7,559.9 515.0,558.5 515.2,558.4 515.5,557.4 515.8,556.4 516.1,555.9 516.4,555.0 516.7,553.7 517.0,552.4 517.3,550.8 517.5,551.3 517.8,550.1 518.1,549.2 518.4,549.8 518.7,550.4 519.0,550.2 519.3,550.5 519.6,552.5 519.8,552.9 520.1,553.8 520.4,555.1 520.7,555.0 521.0,556.8 521.3,557.7 521.6,559.5 521.8,559.3 522.1,560.1 522.4,560.4 522.7,561.2 523.0,561.8 523.3,562.4 523.6,562.6 523.9,563.6 524.1,563.3 524.4,563.5 524.7,563.9 525.0,563.8 525.3,563.5 525.6,563.2 525.9,563.9 526.2,563.6 526.4,564.3 526.7,563.6 527.0,563.2 527.3,564.0 527.6,564.3 527.9,563.9 528.2,564.0 528.5,564.0 528.7,564.6 529.0,564.1 529.3,564.0 529.6,563.8 529.9,563.4 530.2,564.5 530.5,564.4 530.7,563.7 531.0,564.2 531.3,564.2 531.6,563.9 531.9,564.0 532.2,564.4 532.5,563.7 532.8,564.0 533.0,564.1 533.3,564.2 533.6,564.1 533.9,564.3 534.2,564.4 534.5,563.9 534.8,564.3 535.1,564.1 535.3,564.8 535.6,563.8 535.9,564.2 536.2,564.5 536.5,564.2 536.8,564.2 537.1,564.1 537.4,564.4 537.6,563.9 537.9,564.2 538.2,564.2 538.5,563.8 538.8,564.4 539.1,564.1 539.4,564.4 539.6,564.6 539.9,564.4 540.2,563.9 540.5,564.4 540.8,563.8 541.1,564.1 541.4,564.9 541.7,564.3 541.9,564.8 542.2,564.2 542.5,564.3 542.8,563.9 543.1,564.6 543.4,564.2 543.7,564.4 544.0,564.4 544.2,564.4 544.5,564.3 544.8,564.2 545.1,564.2 545.4,564.0 545.7,563.5 546.0,564.4 546.3,565.0 546.5,564.6 546.8,565.1 547.1,564.4 547.4,563.9 547.7,563.9 548.0,564.5 548.3,564.4 548.6,564.2 548.8,564.5 549.1,564.0 549.4,564.5 549.7,564.2 550.0,564.3 550.3,564.7 550.6,564.2 550.8,564.8 551.1,564.8 551.4,564.0 551.7,565.1 552.0,563.9 552.3,564.3 552.6,564.6 552.9,563.5 553.1,564.7 553.4,564.7 553.7,564.3 554.0,564.4 554.3,564.4 554.6,564.3 554.9,564.7 555.2,564.2 555.4,564.3 555.7,564.4 556.0,564.6 556.3,564.7 556.6,563.8 556.9,563.6 557.2,564.2 557.5,564.2 557.7,563.8 558.0,564.3 558.3,564.4 558.6,564.3 558.9,564.7 559.2,563.8 559.5,564.1 559.7,564.8 560.0,564.3 560.3,563.7 560.6,564.1 560.9,564.5 561.2,564.8 561.5,564.3 561.8,564.5 562.0,563.7 562.3,564.0 562.6,564.5 562.9,563.7 563.2,564.0 563.5,563.4 563.8,564.6 564.1,564.1 564.3,564.3 564.6,563.6 564.9,563.7 565.2,564.8 565.5,564.1 565.8,564.0 566.1,564.4 566.4,564.5 566.6,563.6 566.9,563.9 567.2,564.3 567.5,564.3 567.8,564.4 568.1,564.1 568.4,564.2 568.6,564.4 568.9,564.0 569.2,564.0 569.5,564.1 569.8,564.3 570.1,564.2 570.4,564.1 570.7,564.1 570.9,564.2 571.2,564.3 571.5,564.3 571.8,563.7 572.1,564.5 572.4,563.6 572.7,564.4 573.0,563.9 573.2,564.3 573.5,564.5 573.8,563.5 574.1,564.3 574.4,564.2 574.7,563.9 575.0,564.2 575.3,563.9 575.5,564.1 575.8,563.6 576.1,564.3 576.4,564.2 576.7,564.2 577.0,563.7 577.3,564.6 577.5,564.6 577.8,563.9 578.1,563.8 578.4,563.8 578.7,564.1 579.0,564.2 579.3,563.6 579.6,563.2 579.8,564.0 580.1,563.8 580.4,563.9 580.7,564.0 581.0,563.4 581.3,563.8 581.6,563.6 581.9,563.8 582.1,564.1 582.4,563.6 582.7,563.3 583.0,564.0 583.3,563.8 583.6,563.5 583.9,562.9 584.2,563.2 584.4,563.5 584.7,563.6 585.0,563.2 585.3,563.5 585.6,563.1 585.9,563.1 586.2,563.4 586.4,563.1 586.7,563.2 587.0,563.4 587.3,563.4 587.6,562.8 587.9,562.8 588.2,562.4 588.5,562.3 588.7,562.8 589.0,562.5 589.3,561.9 589.6,562.7 589.9,562.1 590.2,562.2 590.5,562.4 590.8,562.3 591.0,562.0 591.3,561.3 591.6,562.0 591.9,561.5 592.2,561.1 592.5,560.7 592.8,561.8 593.1,561.2 593.3,561.0 593.6,561.0 593.9,560.5 594.2,559.8 594.5,560.3 594.8,560.2 595.1,559.7 595.3,559.7 595.6,559.5 595.9,558.3 596.2,558.0 596.5,558.1 596.8,557.4 597.1,556.9 597.4,556.5 597.6,555.8 597.9,554.5 598.2,553.5 598.5,551.9 598.8,550.7 599.1,549.0 599.4,547.3 599.7,546.3 599.9,544.6 600.2,543.2 600.5,541.1 600.8,537.9 601.1,535.1 601.4,531.6 601.7,528.5 602.0,525.7 602.2,521.7 602.5,515.4 602.8,500.5 603.1,484.3 603.4,468.0 603.7,453.6 604.0,443.8 604.2,434.7 604.5,426.9 604.8,418.6 605.1,408.7 605.4,399.3 605.7,395.6 606.0,403.9 606.3,413.5 606.5,422.7 606.8,430.9 607.1,439.3 607.4,448.6 607.7,460.5 608.0,475.1 608.3,490.2 608.6,508.3 608.8,519.1 609.1,523.6 609.4,526.2 609.7,529.8 610.0,533.1 610.3,535.5 610.6,539.2 610.9,541.1 611.1,544.0 611.4,545.5 611.7,548.1 612.0,548.1 612.3,550.1 612.6,550.9 612.9,553.2 613.1,554.1 613.4,555.4 613.7,555.9 614.0,556.2 614.3,556.9 614.6,557.2 614.9,557.7 615.2,558.5 615.4,559.2 615.7,559.4 616.0,559.6 616.3,559.5 616.6,560.2 616.9,559.9 617.2,560.5 617.5,561.0 617.7,560.8 618.0,560.9 618.3,561.1 618.6,561.6 618.9,561.5 619.2,561.2 619.5,561.7 619.8,561.6 620.0,562.6 620.3,562.2 620.6,561.8 620.9,562.5 621.2,562.8 621.5,562.8 621.8,562.6 622.0,562.9 622.3,563.0 622.6,563.3 622.9,563.2 623.2,563.9 623.5,563.1 623.8,563.7 624.1,563.3 624.3,562.7 624.6,562.9 624.9,562.7 625.2,562.8 625.5,563.8 625.8,563.2 626.1,563.6 626.4,563.2 626.6,563.5 626.9,563.2 627.2,563.9 627.5,563.5 627.8,563.5 628.1,563.6 628.4,564.4 628.7,563.8 628.9,564.0 629.2,563.3 629.5,563.5 629.8,563.9 630.1,563.1 630.4,564.2 630.7,563.9 630.9,563.8 631.2,563.8 631.5,563.8 631.8,563.7 632.1,564.4 632.4,564.2 632.7,564.4 633.0,563.9 633.2,563.7 633.5,564.5 633.8,563.6 634.1,563.9 634.4,564.3 634.7,564.5 635.0,563.7 635.3,564.0 635.5,564.1 635.8,564.1 636.1,563.8 636.4,564.4 636.7,564.0 637.0,564.1 637.3,563.4 637.6,564.1 637.8,563.5 638.1,564.4 638.4,564.3 638.7,564.0 639.0,564.2 639.3,564.2 639.6,564.1 639.8,564.3 640.1,564.1 640.4,564.0 640.7,563.9 641.0,564.8 641.3,564.3 641.6,564.3 641.9,564.5 642.1,564.2 642.4,564.2 642.7,564.6 643.0,564.7 643.3,564.6 643.6,563.9 643.9,564.4 644.2,564.3 644.4,564.5 644.7,564.0 645.0,563.9 645.3,564.2 645.6,564.0 645.9,563.9 646.2,564.2 646.5,564.5 646.7,564.2 647.0,564.5 647.3,563.8 647.6,564.4 647.9,564.1 648.2,563.8 648.5,564.0 648.7,563.8 649.0,564.0 649.3,563.8 649.6,564.5 649.9,564.0 650.2,563.6 650.5,564.0 650.8,564.2 651.0,563.9 651.3,564.3 651.6,563.7 651.9,563.7 652.2,564.6 652.5,564.0 652.8,564.2 653.1,564.2 653.3,564.2 653.6,564.0 653.9,564.0 654.2,564.4 654.5,563.8 654.8,564.0 655.1,564.2 655.4,563.8 655.6,563.4 655.9,564.1 656.2,564.3 656.5,563.9 656.8,563.3 657.1,564.0 657.4,564.4 657.6,563.1 657.9,562.7 658.2,563.4 658.5,563.3 658.8,563.4 659.1,563.2 659.4,562.7 659.7,562.5 659.9,562.0 660.2,561.4 660.5,560.7 660.8,560.0 661.1,559.4 661.4,558.3 661.7,557.0 662.0,556.3 662.2,554.4 662.5,553.2 662.8,551.9 663.1,549.8 663.4,549.0 663.7,548.2 664.0,547.2 664.3,545.8 664.5,545.6 664.8,545.5 665.1,546.1 665.4,546.9 665.7,547.3 666.0,549.2 666.3,550.4 666.5,551.7 666.8,552.9 667.1,554.4 667.4,555.2 667.7,557.0 668.0,558.1 668.3,559.0 668.6,559.5 668.8,561.0 669.1,561.6 669.4,561.1 669.7,562.3 670.0,562.5 670.3,561.9 670.6,563.2 670.9,563.4 671.1,563.6 671.4,563.6 671.7,563.4 672.0,563.5 672.3,564.0 672.6,564.3 672.9,563.8 673.2,563.9 673.4,564.3 673.7,563.4 674.0,564.3 674.3,564.1 674.6,563.5 674.9,564.5 675.2,564.0 675.4,564.5 675.7,564.7 676.0,563.9 676.3,563.9 676.6,564.3 676.9,563.7 677.2,564.5 677.5,564.4 677.7,564.6 678.0,563.7 678.3,564.4 678.6,564.4 678.9,563.7 679.2,564.6 679.5,563.8 679.8,564.3 680.0,563.8 680.3,564.5 680.6,564.8 680.9,564.3 681.2,564.3 681.5,564.7 681.8,564.2 682.1,564.3 682.3,564.6 682.6,564.5 682.9,564.9 683.2,564.7 683.5,565.0 683.8,564.3 684.1,564.7 684.3,564.1 684.6,564.6 684.9,564.9 685.2,565.1 685.5,563.9 685.8,564.3 686.1,564.6 686.4,564.0 686.6,564.5 686.9,564.5 687.2,564.2 687.5,564.1 687.8,564.0 688.1,564.4 688.4,564.8 688.7,564.4 688.9,565.3 689.2,563.8 689.5,564.1 689.8,564.6 690.1,564.0 690.4,564.5 690.7,564.6 691.0,564.4 691.2,564.3 691.5,564.7 691.8,564.5 692.1,564.6 692.4,564.5 692.7,564.1 693.0,564.0 693.2,564.2 693.5,564.4 693.8,564.3 694.1,564.7 694.4,564.4 694.7,564.7 695.0,564.4 695.3,564.2 695.5,564.7 695.8,564.6 696.1,564.2 696.4,564.4 696.7,565.5 697.0,563.5 697.3,565.0 697.6,564.7 697.8,564.7 698.1,564.6 698.4,564.5 698.7,565.5 699.0,564.6 699.3,564.6 699.6,565.0 699.9,564.8 700.1,564.6 700.4,564.6 700.7,564.2 701.0,565.0 701.3,564.3 701.6,563.8 701.9,565.0 702.1,564.9 702.4,564.7 702.7,564.4 703.0,565.0 703.3,564.3 703.6,563.9 703.9,564.7 704.2,564.9 704.4,564.9 704.7,565.4 705.0,565.0 705.3,564.6 705.6,564.6 705.9,565.0 706.2,564.7 706.5,564.6 706.7,564.1 707.0,564.6 707.3,564.2 707.6,564.7 707.9,564.6 708.2,564.8 708.5,565.1 708.8,564.5 709.0,565.0 709.3,564.1 709.6,564.5 709.9,564.8 710.2,565.1 710.5,564.1 710.8,564.4 711.0,564.5 711.3,564.4 711.6,564.1 711.9,563.9 712.2,564.0 712.5,564.4 712.8,564.0 713.1,565.1 713.3,565.0 713.6,563.9 713.9,564.4 714.2,565.1 714.5,565.1 714.8,565.1 715.1,564.2 715.4,564.6 715.6,565.2 715.9,564.8 716.2,564.7 716.5,565.0 716.8,565.2 717.1,564.9 717.4,564.9 717.7,565.2 717.9,564.6 718.2,564.5 718.5,565.1 718.8,564.4 719.1,565.0 719.4,564.5 719.7,565.0 719.9,564.3 720.2,565.1 720.5,564.8 720.8,564.6 721.1,564.4 721.4,564.6 721.7,564.4 722.0,564.3 722.2,565.0 722.5,564.8 722.8,565.0 723.1,564.1 723.4,563.9 723.7,564.1 724.0,564.8 724.3,564.9 724.5,564.0 724.8,564.9 725.1,564.4 725.4,564.2 725.7,564.6 726.0,564.8 726.3,564.5 726.6,564.6 726.8,564.3 727.1,564.1 727.4,564.5 727.7,564.1 728.0,564.8 728.3,564.3 728.6,565.0 728.8,564.0 729.1,565.0 729.4,564.2 729.7,564.2 730.0,564.6 730.3,564.8 730.6,564.5 730.9,564.4 731.1,565.2 731.4,564.7 731.7,564.1 732.0,564.4 732.3,565.1 732.6,564.6 732.9,564.8 733.2,565.2 733.4,564.3 733.7,564.6 734.0,564.3 734.3,564.5 734.6,564.7 734.9,564.1 735.2,564.6 735.5,564.6 735.7,564.9 736.0,564.3 736.3,564.1 736.6,564.7 736.9,564.2 737.2,564.6 737.5,564.8 737.7,564.3 738.0,564.5 738.3,564.2 738.6,563.6 738.9,564.1 739.2,563.9 739.5,564.6 739.8,564.2 740.0,564.5 740.3,564.6 740.6,565.0 740.9,564.5 741.2,564.4 741.5,564.8 741.8,565.1 742.1,564.6 742.3,564.7 742.6,564.5 742.9,564.4 743.2,564.1 743.5,564.6 743.8,564.6 744.1,564.6 744.4,565.4 744.6,564.6 744.9,564.8 745.2,564.6 745.5,565.1 745.8,564.6 746.1,565.4 746.4,564.7 746.6,565.0 746.9,565.1 747.2,564.6 747.5,565.0 747.8,564.7 748.1,564.4 748.4,564.4 748.7,564.7 748.9,565.2 749.2,564.4 749.5,564.7 749.8,564.3 750.1,564.6 750.4,564.1 750.7,564.2 751.0,564.5 751.2,564.3 751.5,564.4 751.8,564.9 752.1,564.5 752.4,564.3 752.7,564.2 753.0,564.4 753.3,565.0 753.5,564.6 753.8,564.6 754.1,564.9 754.4,564.9 754.7,565.0 755.0,564.6 755.3,564.4 755.5,564.1 755.8,564.4 756.1,564.5 756.4,564.9 756.7,564.8 757.0,564.5 757.3,565.0 757.6,564.2 757.8,564.3 758.1,564.3 758.4,564.3 758.7,564.6 759.0,564.4 759.3,564.4 759.6,565.2 759.9,564.2 760.1,564.3 760.4,564.6 760.7,564.8 761.0,564.8 761.3,564.6 761.6,564.5 761.9,564.5 762.2,564.8 762.4,564.2 762.7,563.7 763.0,564.5 763.3,564.1 763.6,564.4 763.9,564.9 764.2,564.4 764.4,565.0 764.7,563.8 765.0,564.5 765.3,564.5 765.6,564.7 765.9,564.2 766.2,564.5 766.5,564.5 766.7,564.5 767.0,564.0 767.3,563.9 767.6,564.7 767.9,564.6 768.2,564.5 768.5,564.7 768.8,564.9 769.0,564.1 769.3,564.8 769.6,565.1 769.9,564.9 770.2,564.8 770.5,564.8 770.8,564.1 771.1,564.4 771.3,564.9 771.6,565.1 771.9,564.8 772.2,564.5 772.5,564.6 772.8,564.9 773.1,565.4 773.3,564.9 773.6,564.5 773.9,564.9 774.2,564.8 774.5,565.5 774.8,564.9 775.1,564.7 775.4,564.7 775.6,564.3 775.9,564.4 776.2,564.6 776.5,564.4 776.8,564.8 777.1,564.8 777.4,565.0 777.7,565.2 777.9,564.8 778.2,564.7 778.5,564.1 778.8,564.9 779.1,565.0 779.4,564.5 779.7,564.6 780.0,564.5 780.2,565.1 780.5,564.9 780.8,565.1 781.1,564.3 781.4,565.6 781.7,564.4 782.0,564.3 782.2,564.7 782.5,564.5 782.8,565.2 783.1,564.4 783.4,564.3 783.7,564.9 784.0,564.9 784.3,564.2 784.5,564.3 784.8,564.3 785.1,564.3 785.4,564.9 785.7,564.7 786.0,564.7 786.3,564.7 786.6,564.3 786.8,564.6 787.1,564.3 787.4,564.1 787.7,564.9 788.0,563.8 788.3,564.4 788.6,564.2 788.9,563.9 789.1,564.4 789.4,564.5 789.7,564.7 790.0,564.3 790.3,564.8 790.6,564.7 790.9,564.8 791.1,563.9 791.4,564.4 791.7,564.3 792.0,564.7 792.3,564.2 792.6,564.3 792.9,564.0 793.2,564.0 793.4,564.0 793.7,564.6 794.0,563.9 794.3,563.4 794.6,564.3 794.9,564.0 795.2,564.4 795.5,564.3 795.7,564.0 796.0,564.0 796.3,563.9 796.6,564.0 796.9,563.8 797.2,564.1 797.5,564.4 797.8,563.7 798.0,563.7 798.3,563.6 798.6,564.0 798.9,564.0 799.2,564.2 799.5,563.8 799.8,563.6 800.0,563.6 800.3,562.8 800.6,563.3 800.9,563.1 801.2,563.5 801.5,563.1 801.8,562.0 802.1,561.8 802.3,561.9 802.6,560.5 802.9,560.4 803.2,560.3 803.5,559.7 803.8,558.8 804.1,558.3 804.4,556.9 804.6,556.0 804.9,554.8 805.2,553.3 805.5,552.4 805.8,550.9 806.1,549.7 806.4,547.5 806.7,547.1 806.9,545.6 807.2,544.5 807.5,543.7 807.8,542.7 808.1,542.7 808.4,542.5 808.7,542.4 808.9,542.7 809.2,543.1 809.5,543.8 809.8,544.3 810.1,545.8 810.4,547.6 810.7,548.7 811.0,549.7 811.2,551.2 811.5,552.8 811.8,553.7 812.1,555.5 812.4,555.8 812.7,557.3 813.0,558.2 813.3,558.8 813.5,559.6 813.8,560.4 814.1,560.0 814.4,561.4 814.7,562.0 815.0,562.2 815.3,562.7 815.6,562.2 815.8,562.8 816.1,563.1 816.4,563.1 816.7,563.7 817.0,563.6 817.3,563.4 817.6,564.0 817.8,564.0 818.1,563.7 818.4,564.1 818.7,564.1 819.0,564.1 819.3,563.6 819.6,564.5 819.9,564.3 820.1,564.1 820.4,564.3 820.7,564.3 821.0,564.1 821.3,564.0 821.6,564.2 821.9,564.0 822.2,564.0 822.4,563.8 822.7,564.1 823.0,564.6 823.3,564.3 823.6,564.3 823.9,564.2 824.2,564.1 824.5,563.8 824.7,564.8 825.0,564.0 825.3,563.8 825.6,564.4 825.9,564.4 826.2,564.1 826.5,563.8 826.7,563.9 827.0,564.9 827.3,564.3 827.6,564.1 827.9,565.0 828.2,564.2 828.5,564.1 828.8,564.6 829.0,564.5 829.3,565.0 829.6,563.9 829.9,564.6 830.2,563.9 830.5,564.6 830.8,564.3 831.1,564.3 831.3,564.3 831.6,564.8 831.9,565.1 832.2,564.5 832.5,564.4 832.8,564.4 833.1,564.7 833.4,564.2 833.6,565.7 833.9,564.5 834.2,565.1 834.5,564.6 834.8,564.1 835.1,564.0 835.4,564.4 835.7,564.3 835.9,564.5 836.2,564.2 836.5,565.4 836.8,565.3 837.1,564.0 837.4,564.7 837.7,565.0 837.9,564.5 838.2,564.5 838.5,564.9 838.8,564.8 839.1,564.2 839.4,565.0 839.7,564.4 840.0,565.2 840.2,564.3 840.5,563.8 840.8,564.6 841.1,565.0 841.4,564.8 841.7,564.6 842.0,564.3 842.3,564.9 842.5,564.0 842.8,564.9 843.1,564.2 843.4,564.4 843.7,564.1 844.0,564.2 844.3,565.0 844.6,564.1 844.8,564.6 845.1,564.2 845.4,564.8 845.7,564.0 846.0,564.5 846.3,564.8 846.6,565.2 846.8,564.1 847.1,564.2 847.4,564.5 847.7,565.0 848.0,564.1 848.3,564.8 848.6,564.3 848.9,564.2 849.1,564.0 849.4,564.6 849.7,564.9 850.0,564.6 850.3,563.9 850.6,564.5 850.9,565.0 851.2,565.0 851.4,564.8 851.7,565.3 852.0,564.3 852.3,564.4 852.6,565.6 852.9,565.1 853.2,564.8 853.5,564.7 853.7,564.0 854.0,565.2 854.3,564.2 854.6,564.2 854.9,564.9 855.2,565.4 855.5,564.8 855.7,565.0 856.0,564.7 856.3,565.0 856.6,564.3 856.9,565.6 857.2,564.5 857.5,565.0 857.8,564.1 858.0,565.4 858.3,565.0 858.6,565.5 858.9,564.6 859.2,565.1 859.5,564.7 859.8,564.7 860.1,565.2 860.3,564.4 860.6,565.0 860.9,565.4 861.2,565.3 861.5,565.0 861.8,564.8 862.1,564.3 862.4,565.1 862.6,564.3 862.9,565.0 863.2,564.4 863.5,564.5 863.8,564.5 864.1,564.7 864.4,564.3 864.6,564.6 864.9,564.3 865.2,564.7 865.5,564.6 865.8,564.6 866.1,564.2 866.4,564.6 866.7,564.5 866.9,564.7 867.2,564.5 867.5,564.1 867.8,564.7 868.1,564.2 868.4,564.5 868.7,563.7 869.0,564.6 869.2,564.6 869.5,564.1 869.8,564.6 870.1,564.2 870.4,564.8 870.7,564.6 871.0,563.9 871.3,564.3 871.5,563.8 871.8,564.3 872.1,564.6 872.4,564.7 872.7,564.3 873.0,564.3 873.3,564.4 873.5,564.1 873.8,564.4 874.1,564.7 874.4,564.3 874.7,564.5 875.0,563.9 875.3,564.0 875.6,564.2 875.8,564.7 876.1,564.3 876.4,564.5 876.7,563.9 877.0,564.3 877.3,563.2 877.6,563.9 877.9,563.0 878.1,564.1 878.4,563.7 878.7,563.9 879.0,563.6 879.3,563.2 879.6,563.1 879.9,563.4 880.2,563.7 880.4,563.4 880.7,562.9 881.0,562.8 881.3,562.7 881.6,562.8 881.9,562.7 882.2,562.5 882.4,562.5 882.7,561.9 883.0,562.8 883.3,562.1 883.6,562.4 883.9,561.7 884.2,561.2 884.5,561.0 884.7,560.6 885.0,559.8 885.3,559.3 885.6,559.3 885.9,558.1 886.2,556.6 886.5,555.7 886.8,553.8 887.0,552.8 887.3,550.0 887.6,548.5 887.9,545.7 888.2,543.1 888.5,540.0 888.8,537.4 889.1,534.7 889.3,532.5 889.6,531.5 889.9,531.7 890.2,531.2 890.5,533.1 890.8,534.8 891.1,537.1 891.3,540.5 891.6,543.0 891.9,545.8 892.2,547.9 892.5,550.1 892.8,551.6 893.1,553.5 893.4,555.5 893.6,555.3 893.9,557.2 894.2,558.3 894.5,558.7 894.8,559.2 895.1,559.2 895.4,560.0 895.7,560.2 895.9,559.9 896.2,560.6 896.5,559.9 896.8,559.2 897.1,559.9 897.4,559.7 897.7,559.3 898.0,559.2 898.2,558.8 898.5,557.9 898.8,558.4 899.1,557.3 899.4,557.4 899.7,555.4 900.0,554.4 900.2,552.3 900.5,551.4 900.8,548.8 901.1,547.1 901.4,544.8 901.7,542.0 902.0,538.6 902.3,535.6 902.5,533.2 902.8,530.7 903.1,528.6 903.4,526.7 903.7,526.2 904.0,527.3 904.3,527.9 904.6,530.6 904.8,532.9 905.1,535.5 905.4,538.6 905.7,542.1 906.0,544.8 906.3,547.4 906.6,549.4 906.9,551.4 907.1,553.4 907.4,554.8 907.7,555.6 908.0,557.1 908.3,558.7 908.6,558.7 908.9,559.8 909.1,560.1 909.4,560.8 909.7,560.6 910.0,560.8 910.3,561.6 910.6,561.5 910.9,561.9 911.2,561.9 911.4,562.5 911.7,562.4 912.0,562.5 912.3,562.2 912.6,562.1 912.9,562.4 913.2,563.1 913.5,563.1 913.7,563.1 914.0,562.9 914.3,562.7 914.6,563.5 914.9,563.2 915.2,563.4 915.5,563.0 915.8,563.1 916.0,563.6 916.3,563.7 916.6,563.1 916.9,563.6 917.2,563.2 917.5,564.0 917.8,563.9 918.0,564.5 918.3,564.3 918.6,563.6 918.9,563.9 919.2,563.8 919.5,564.0 919.8,564.3 920.1,564.1 920.3,564.1 920.6,563.7 920.9,564.4 921.2,564.2 921.5,564.5 921.8,564.7 922.1,564.4 922.4,564.6 922.6,564.2 922.9,564.7 923.2,564.4 923.5,564.2 923.8,564.4 924.1,564.0 924.4,564.2 924.7,564.3 924.9,564.5 925.2,564.4 925.5,564.2 925.8,564.4 926.1,563.7 926.4,564.5 926.7,564.7 926.9,564.8 927.2,564.9 927.5,564.4 927.8,564.5 928.1,564.4 928.4,564.4 928.7,564.6 929.0,565.0 929.2,564.0 929.5,564.4 929.8,564.7 930.1,564.3 930.4,564.7 930.7,564.1 931.0,564.5 931.3,564.0 931.5,564.6 931.8,564.3 932.1,564.7 932.4,564.4 932.7,564.2 933.0,564.3 933.3,564.5 933.6,564.5 933.8,564.4 934.1,564.3 934.4,564.4 934.7,564.7 935.0,564.2 935.3,564.6 935.6,564.0 935.8,564.7 936.1,564.5 936.4,564.3 936.7,564.3 937.0,563.8 937.3,564.4 937.6,564.3 937.9,563.9 938.1,564.2 938.4,564.5 938.7,564.4 939.0,564.4 939.3,564.1 939.6,564.6 939.9,564.2 940.2,564.5 940.4,565.0 940.7,563.5 941.0,564.0 941.3,564.1 941.6,563.9 941.9,564.4 942.2,563.9 942.5,564.6 942.7,564.2 943.0,564.0 943.3,563.8 943.6,564.0 943.9,563.7 944.2,563.9 944.5,563.4 944.7,563.3 945.0,562.8 945.3,562.5 945.6,561.4 945.9,561.5 946.2,561.1 946.5,559.9 946.8,559.0 947.0,558.5 947.3,557.7 947.6,556.0 947.9,555.5 948.2,554.5 948.5,552.9 948.8,551.8 949.1,550.7 949.3,549.2 949.6,548.8 949.9,548.1 950.2,547.2 950.5,547.8 950.8,548.3 951.1,548.2 951.4,549.8 951.6,550.5 951.9,551.3 952.2,552.7 952.5,554.0 952.8,555.7 953.1,556.5 953.4,557.6 953.6,558.3 953.9,559.6 954.2,559.9 954.5,560.8 954.8,561.8 955.1,562.3 955.4,562.3 955.7,562.8 955.9,563.2 956.2,563.3 956.5,563.9 956.8,564.1 957.1,563.7 957.4,563.5 957.7,563.9 958.0,564.5 958.2,564.5 958.5,564.6 958.8,564.6 959.1,564.1 959.4,564.4 959.7,564.7 960.0,564.4 960.3,564.7 960.5,564.0 960.8,564.0 961.1,565.1 961.4,564.7 961.7,564.7 962.0,565.0 962.3,565.2 962.5,565.5 962.8,563.7 963.1,564.7 963.4,564.9 963.7,563.9 964.0,564.0 964.3,564.5 964.6,565.2 964.8,564.9 965.1,565.3 965.4,564.7 965.7,565.0 966.0,565.1 966.3,564.8 966.6,564.6 966.9,564.7 967.1,563.4 967.4,564.7 967.7,564.0 968.0,564.4 968.3,564.9 968.6,564.8 968.9,564.0 969.2,564.9 969.4,565.0 969.7,564.8 970.0,564.9 970.3,564.9 970.6,564.1 970.9,564.6 971.2,564.6 971.4,564.3 971.7,564.7 972.0,564.4 972.3,564.7 972.6,564.4 972.9,565.1 973.2,565.4 973.5,564.5 973.7,564.7 974.0,564.7 974.3,564.8 974.6,564.6 974.9,563.9 975.2,564.8 975.5,564.6 975.8,564.3 976.0,564.6 976.3,564.4 976.6,564.7 976.9,564.5 977.2,564.5 977.5,564.7 977.8,564.7 978.1,564.7 978.3,565.1 978.6,564.8 978.9,564.4 979.2,565.3 979.5,564.8 979.8,565.3 980.1,564.4 980.3,564.9 980.6,565.3 980.9,565.2 981.2,564.8 981.5,564.6 981.8,564.6 982.1,564.7 982.4,564.4 982.6,564.5 982.9,564.4 983.2,564.5 983.5,564.9 983.8,564.2 984.1,564.9 984.4,565.1 984.7,564.5 984.9,564.6 985.2,564.9 985.5,564.9 985.8,565.2 986.1,564.2 986.4,564.9 986.7,565.3 987.0,564.9 987.2,565.5 987.5,565.6 987.8,564.7 988.1,565.4 988.4,565.0 988.7,564.8 989.0,564.7 989.2,564.8 989.5,564.5 989.8,564.8 990.1,565.1 990.4,565.3 990.7,564.7 991.0,565.0 991.3,565.0 991.5,564.1 991.8,565.1 992.1,564.5 992.4,564.5 992.7,565.2 993.0,565.4 993.3,564.5 993.6,564.6 993.8,564.6 994.1,564.7 994.4,564.8 994.7,564.6 995.0,564.4 995.3,565.5 995.6,564.7 995.9,564.6 996.1,565.2 996.4,564.8 996.7,565.2 997.0,565.1 997.3,565.2 997.6,564.7 997.9,565.1 998.1,564.4 998.4,564.4 998.7,564.9 999.0,564.8 999.3,565.3 999.6,564.8 999.9,564.3 1000.2,564.9 1000.4,564.8 1000.7,565.0 1001.0,564.5 1001.3,564.7 1001.6,565.0 1001.9,565.2 1002.2,565.1 1002.5,565.2 1002.7,564.4 1003.0,564.8 1003.3,565.0 1003.6,565.2 1003.9,565.0 1004.2,564.8 1004.5,564.8 1004.8,564.8 1005.0,564.4 1005.3,564.9 1005.6,565.1 1005.9,565.1 1006.2,564.2 1006.5,564.8 1006.8,564.4 1007.0,565.2 1007.3,565.0 1007.6,565.1 1007.9,564.6 1008.2,564.2 1008.5,564.5 1008.8,564.7 1009.1,564.3 1009.3,564.5 1009.6,565.4 1009.9,564.4 1010.2,565.0 1010.5,564.2 1010.8,564.9 1011.1,565.1 1011.4,565.0 1011.6,565.2 1011.9,565.4 1012.2,564.4 1012.5,565.0 1012.8,565.1 1013.1,565.0 1013.4,565.4 1013.7,565.0 1013.9,565.4 1014.2,565.4 1014.5,565.1 1014.8,565.2 1015.1,564.8 1015.4,565.2 1015.7,565.1 1015.9,565.0 1016.2,564.9 1016.5,565.4 1016.8,565.0 1017.1,565.8 1017.4,565.5 1017.7,565.3 1018.0,564.8 1018.2,565.3 1018.5,565.0 1018.8,565.0 1019.1,564.6 1019.4,565.1 1019.7,565.0 1020.0,564.8 1020.3,564.7 1020.5,564.8 1020.8,564.5 1021.1,564.7 1021.4,565.3 1021.7,564.7 1022.0,565.6 1022.3,564.5 1022.6,565.3 1022.8,565.3 1023.1,565.3 1023.4,565.1 1023.7,564.5 1024.0,565.4 1024.3,565.3 1024.6,565.0 1024.8,564.3 1025.1,565.4 1025.4,564.8 1025.7,565.0 1026.0,565.4 1026.3,565.5 1026.6,565.2 1026.9,564.9 1027.1,565.5 1027.4,565.4 1027.7,564.9 1028.0,564.7 1028.3,565.0 1028.6,564.5 1028.9,565.4 1029.2,565.0 1029.4,564.8 1029.7,565.0 1030.0,564.3 1030.3,564.8 1030.6,564.7 1030.9,564.4 1031.2,564.7 1031.5,565.0 1031.7,564.4 1032.0,564.8 1032.3,564.5 1032.6,565.0 1032.9,564.4 1033.2,565.1 1033.5,565.1 1033.7,565.2 1034.0,565.5 1034.3,565.0 1034.6,564.9 1034.9,565.1 1035.2,564.7 1035.5,564.3 1035.8,564.5 1036.0,564.5 1036.3,564.9 1036.6,564.6 1036.9,564.7 1037.2,565.0 1037.5,564.8 1037.8,565.4 1038.1,564.7 1038.3,564.4 1038.6,565.1 1038.9,564.6 1039.2,564.7 1039.5,565.0 1039.8,564.7 1040.1,564.9 1040.4,564.5 1040.6,564.6 1040.9,564.9 1041.2,564.5 1041.5,564.6 1041.8,564.7 1042.1,565.2 1042.4,565.2 1042.6,564.9 1042.9,564.8 1043.2,564.6 1043.5,565.2 1043.8,565.0 1044.1,565.1 1044.4,564.4 1044.7,565.0 1044.9,564.8 1045.2,565.0 1045.5,565.1 1045.8,564.7 1046.1,564.6 1046.4,564.9 1046.7,564.3 1047.0,565.1 1047.2,564.8 1047.5,564.3 1047.8,565.1 1048.1,565.0 1048.4,565.1 1048.7,565.0 1049.0,564.9 1049.3,564.7 1049.5,564.4 1049.8,565.0 1050.1,564.9 1050.4,564.7 1050.7,565.0 1051.0,564.5 1051.3,565.1 1051.5,564.8 1051.8,564.9 1052.1,564.6 1052.4,565.1 1052.7,564.8 1053.0,564.6 1053.3,564.9 1053.6,564.7 1053.8,565.0 1054.1,564.3 1054.4,564.4 1054.7,565.3 1055.0,564.6 1055.3,564.9 1055.6,564.6 1055.9,564.8 1056.1,565.5 1056.4,564.1 1056.7,564.9 1057.0,564.8 1057.3,564.8 1057.6,564.5 1057.9,564.5 1058.2,565.2 1058.4,564.9 1058.7,564.4 1059.0,564.8 1059.3,564.4 1059.6,565.6 1059.9,564.9 1060.2,564.2 1060.4,565.0 1060.7,564.9 1061.0,564.8 1061.3,564.8 1061.6,564.6 1061.9,564.6 1062.2,564.1 1062.5,565.0 1062.7,565.2 1063.0,564.7 1063.3,564.7 1063.6,564.1 1063.9,564.3 1064.2,563.9 1064.5,563.9 1064.8,564.4 1065.0,564.6 1065.3,564.0 1065.6,564.7 1065.9,564.1 1066.2,563.1 1066.5,563.5 1066.8,563.9 1067.1,563.4 1067.3,563.5 1067.6,562.6 1067.9,563.3 1068.2,562.4 1068.5,562.7 1068.8,563.0 1069.1,562.2 1069.3,561.9 1069.6,562.0 1069.9,561.3 1070.2,561.0 1070.5,561.3 1070.8,560.4 1071.1,560.2 1071.4,560.8 1071.6,559.7 1071.9,559.9 1072.2,559.8 1072.5,559.3 1072.8,558.7 1073.1,559.0 1073.4,558.3 1073.7,559.0 1073.9,558.8 1074.2,557.7 1074.5,558.0 1074.8,557.4 1075.1,557.6 1075.4,557.4 1075.7,557.1 1076.0,557.4 1076.2,556.8 1076.5,557.4 1076.8,557.2 1077.1,557.1 1077.4,557.7 1077.7,557.5 1078.0,557.5 1078.2,557.7 1078.5,557.8 1078.8,558.3 1079.1,558.2 1079.4,557.6 1079.7,557.7 1080.0,558.5 1080.3,558.7 1080.5,559.1 1080.8,559.0 1081.1,559.4 1081.4,560.2 1081.7,559.6 1082.0,560.3 1082.3,560.2 1082.6,560.8 1082.8,560.8 1083.1,560.6 1083.4,561.0 1083.7,560.9 1084.0,560.5 1084.3,561.0 1084.6,561.1 1084.9,560.9 1085.1,561.0 1085.4,560.8 1085.7,561.0 1086.0,560.8 1086.3,560.4 1086.6,560.7 1086.9,561.2 1087.1,560.9 1087.4,561.0 1087.7,560.6 1088.0,560.4 1088.3,560.2 1088.6,560.5 1088.9,560.7 1089.2,560.6 1089.4,560.6 1089.7,560.2 1090.0,560.4 1090.3,560.2 1090.6,560.6 1090.9,560.6 1091.2,560.3 1091.5,560.5 1091.7,559.9 1092.0,560.8 1092.3,560.4 1092.6,560.6 1092.9,561.0 1093.2,561.1 1093.5,560.8 1093.8,561.6 1094.0,561.8 1094.3,561.8 1094.6,561.9 1094.9,561.6 1095.2,562.2 1095.5,561.7 1095.8,561.7 1096.0,562.2 1096.3,562.4 1096.6,562.2 1096.9,563.1 1097.2,562.3 1097.5,562.3 1097.8,562.8 1098.1,563.5 1098.3,563.4 1098.6,563.4 1098.9,563.4 1099.2,563.6 1099.5,563.6 1099.8,563.7 1100.1,563.7 1100.4,563.3 1100.6,564.1 1100.9,563.8 1101.2,564.1 1101.5,564.2 1101.8,564.4 1102.1,564.0 1102.4,564.4 1102.7,564.5 1102.9,564.3 1103.2,564.3 1103.5,564.4 1103.8,564.2 1104.1,564.3 1104.4,564.2 1104.7,564.9 1104.9,564.4 1105.2,564.3 1105.5,564.7 1105.8,564.8 1106.1,564.6 1106.4,564.4 1106.7,564.8 1107.0,565.0 1107.2,564.3 1107.5,565.0 1107.8,564.3 1108.1,565.0 1108.4,564.7 1108.7,564.8 1109.0,565.0 1109.3,565.2 1109.5,565.4 1109.8,565.2 1110.1,565.0 1110.4,564.5 1110.7,564.7 1111.0,564.9 1111.3,564.7 1111.6,565.0 1111.8,564.8 1112.1,565.3 1112.4,564.8 1112.7,564.5 1113.0,564.7 1113.3,564.6 1113.6,565.0 1113.8,565.2 1114.1,565.1 1114.4,565.1 1114.7,564.6 1115.0,564.5 1115.3,564.6 1115.6,564.8 1115.9,564.7 1116.1,564.9 1116.4,565.0 1116.7,564.8 1117.0,565.2 1117.3,564.5 1117.6,564.9 1117.9,564.6 1118.2,564.9 1118.4,564.5 1118.7,564.3 1119.0,564.4 1119.3,564.1 1119.6,563.9 1119.9,564.3 1120.2,563.8 1120.5,564.1 1120.7,564.3 1121.0,563.4 1121.3,563.5 1121.6,563.1 1121.9,562.4 1122.2,562.7 1122.5,562.9 1122.8,561.9 1123.0,562.0 1123.3,561.7 1123.6,561.1 1123.9,561.4 1124.2,561.0 1124.5,561.0 1124.8,560.7 1125.0,560.1 1125.3,560.4 1125.6,560.4 1125.9,560.1 1126.2,560.3 1126.5,560.2 1126.8,559.6 1127.1,560.4 1127.3,559.8 1127.6,560.1 1127.9,560.5 1128.2,560.5 1128.5,560.7 1128.8,561.4 1129.1,561.1 1129.4,561.9 1129.6,562.3 1129.9,562.4 1130.2,562.0 1130.5,562.1 1130.8,562.7 1131.1,563.4 1131.4,563.0 1131.7,563.1 1131.9,563.3 1132.2,563.7 1132.5,563.9 1132.8,563.7 1133.1,563.8 1133.4,564.1 1133.7,564.0 1133.9,564.0 1134.2,563.7 1134.5,564.2 1134.8,564.1 1135.1,564.2 1135.4,564.3 1135.7,564.1 1136.0,564.5 1136.2,564.7 1136.5,564.5 1136.8,564.2 1137.1,564.4 1137.4,564.6 1137.7,564.3 1138.0,564.5 1138.3,564.0 1138.5,564.3 1138.8,564.7 1139.1,564.5 1139.4,564.2 1139.7,564.3 1140.0,564.8 1140.3,564.4 1140.6,563.9 1140.8,564.2 1141.1,563.9 1141.4,563.8 1141.7,563.6 1142.0,564.0 1142.3,564.3 1142.6,563.8 1142.8,563.1 1143.1,563.4 1143.4,562.7 1143.7,562.9 1144.0,562.8 1144.3,562.7 1144.6,562.0 1144.9,561.7 1145.1,561.3 1145.4,560.8 1145.7,560.8 1146.0,559.7 1146.3,559.1 1146.6,559.4 1146.9,559.0 1147.2,557.4 1147.4,557.5 1147.7,556.9 1148.0,556.0 1148.3,555.2 1148.6,555.0 1148.9,554.3 1149.2,554.1 1149.5,553.3 1149.7,553.4 1150.0,552.6 1150.3,553.0 1150.6,552.6 1150.9,552.6 1151.2,552.3 1151.5,552.5 1151.7,552.8 1152.0,553.4 1152.3,553.3 1152.6,553.7 1152.9,554.4 1153.2,555.0 1153.5,555.5 1153.8,556.1 1154.0,556.3 1154.3,557.1 1154.6,557.6 1154.9,558.7 1155.2,558.9 1155.5,559.6 1155.8,559.7 1156.1,560.5 1156.3,561.0 1156.6,561.1 1156.9,561.5 1157.2,561.9 1157.5,562.4 1157.8,562.7 1158.1,562.5 1158.4,563.2 1158.6,563.3 1158.9,563.5 1159.2,563.4 1159.5,563.7 1159.8,564.1 1160.1,564.2 1160.4,563.9 1160.6,564.5 1160.9,564.0 1161.2,564.0 1161.5,564.5 1161.8,564.4 1162.1,564.9 1162.4,564.3 1162.7,564.4 1162.9,564.6 1163.2,564.5 1163.5,564.4 1163.8,564.5 1164.1,564.5 1164.4,564.6 1164.7,564.6 1165.0,564.2 1165.2,564.8 1165.5,564.4 1165.8,564.5 1166.1,564.4 1166.4,564.5 1166.7,564.8 1167.0,564.9 1167.3,564.6 1167.5,564.5 1167.8,564.3 1168.1,564.3 1168.4,564.4 1168.7,564.2 1169.0,563.9 1169.3,564.1 1169.5,563.7 1169.8,564.3 1170.1,563.7 1170.4,563.4 1170.7,563.4 1171.0,563.0 1171.3,562.9 1171.6,563.1 1171.8,562.8 1172.1,562.0 1172.4,561.8 1172.7,561.7 1173.0,562.1 1173.3,561.3 1173.6,561.1 1173.9,560.7 1174.1,560.9 1174.4,560.6 1174.7,559.7 1175.0,559.7 1175.3,559.3 1175.6,559.3 1175.9,559.2 1176.2,559.0 1176.4,559.1 1176.7,559.4 1177.0,559.6 1177.3,559.4 1177.6,559.6 1177.9,559.3 1178.2,560.1 1178.4,560.5 1178.7,560.1 1179.0,560.5 1179.3,560.7 1179.6,560.4 1179.9,561.4 1180.2,561.5 1180.5,561.2 1180.7,561.8 1181.0,562.4 1181.3,562.5 1181.6,562.2 1181.9,562.6 1182.2,562.8 1182.5,563.2 1182.8,563.1 1183.0,563.5 1183.3,563.6 1183.6,563.4 1183.9,563.9 1184.2,564.0 1184.5,563.9 1184.8,564.3 1185.1,564.7 1185.3,563.9 1185.6,564.4 1185.9,564.5 1186.2,564.4 1186.5,564.3 1186.8,565.0 1187.1,564.3 1187.3,564.4 1187.6,564.3 1187.9,564.8 1188.2,564.0 1188.5,564.3 1188.8,564.4 1189.1,564.5 1189.4,564.5 1189.6,564.6 1189.9,564.3 1190.2,564.1 1190.5,564.1 1190.8,563.9 1191.1,563.9 1191.4,563.8 1191.7,563.8 1191.9,563.9 1192.2,563.3 1192.5,563.3 1192.8,563.3 1193.1,563.2 1193.4,563.0 1193.7,563.1 1194.0,562.8 1194.2,562.4 1194.5,563.0 1194.8,562.4 1195.1,563.0 1195.4,562.7 1195.7,562.7 1196.0,562.3 1196.2,562.8 1196.5,562.7 1196.8,562.7 1197.1,563.1 1197.4,563.3 1197.7,563.5 1198.0,563.1 1198.3,563.3 1198.5,563.9 1198.8,563.9 1199.1,564.1 1199.4,563.9 1199.7,564.2 1200.0,564.4 1200.3,564.1 1200.6,564.3 1200.8,564.6 1201.1,564.9 1201.4,564.6 1201.7,564.9 1202.0,564.6 1202.3,564.5 1202.6,565.0 1202.9,564.6 1203.1,564.9 1203.4,564.7 1203.7,565.0 1204.0,564.6 1204.3,564.6 1204.6,564.6 1204.9,564.9 1205.1,565.2 1205.4,565.1 1205.7,565.0 1206.0,564.9 1206.3,565.2 1206.6,564.9 1206.9,565.2 1207.2,565.2 1207.4,565.1 1207.7,565.0 1208.0,565.0 1208.3,564.9 1208.6,565.0 1208.9,564.7 1209.2,564.7 1209.5,565.3 1209.7,564.9 1210.0,564.5 1210.3,565.2 1210.6,565.2 1210.9,565.0 1211.2,564.6 1211.5,565.3 1211.8,565.1 1212.0,565.2 1212.3,564.9 1212.6,565.0 1212.9,564.9 1213.2,564.9 1213.5,564.7 1213.8,564.8 1214.0,564.8 1214.3,565.0 1214.6,565.2 1214.9,565.1 1215.2,564.6 1215.5,565.2 1215.8,564.6 1216.1,565.1 1216.3,564.9 1216.6,565.0 1216.9,564.9 1217.2,564.8 1217.5,565.3 1217.8,564.5 1218.1,564.8 1218.4,565.3 1218.6,565.0 1218.9,565.0 1219.2,564.8 1219.5,564.8 1219.8,565.2 1220.1,565.0 1220.4,565.1 1220.7,565.2 1220.9,564.7 1221.2,564.8 1221.5,564.9 1221.8,565.1 1222.1,565.2 1222.4,564.8 1222.7,565.0 1222.9,565.0 1223.2,565.0 1223.5,565.3 1223.8,564.8 1224.1,565.0 1224.4,564.5 1224.7,565.0 1225.0,565.0 1225.2,565.2 1225.5,564.9 1225.8,564.9 1226.1,564.8 1226.4,564.9 1226.7,565.6 1227.0,564.7 1227.3,564.7 1227.5,565.1 1227.8,564.9 1228.1,565.3 1228.4,564.7 1228.7,565.4 1229.0,564.9 1229.3,564.7 1229.6,564.5 1229.8,564.8 1230.1,564.8 1230.4,565.0 1230.7,564.7 1231.0,565.6 1231.3,565.1 1231.6,564.9 1231.8,564.8 1232.1,565.5 1232.4,564.7 1232.7,565.1 1233.0,565.2 1233.3,564.7 1233.6,565.0 1233.9,564.8 1234.1,565.2 1234.4,565.2 1234.7,565.1 1235.0,565.0 1235.3,564.7 1235.6,565.5 1235.9,565.3 1236.2,565.2 1236.4,565.3 1236.7,565.0 1237.0,564.8 1237.3,565.2 1237.6,564.8 1237.9,564.9 1238.2,565.2 1238.5,564.7 1238.7,565.0 1239.0,565.0 1239.3,564.8 1239.6,564.8 1239.9,565.0 1240.2,564.9 1240.5,565.0 1240.7,564.7 1241.0,565.0 1241.3,564.7 1241.6,564.8 1241.9,565.2 1242.2,564.8 1242.5,564.9 1242.8,564.8 1243.0,565.0 1243.3,565.1 1243.6,564.9 1243.9,565.1 1244.2,564.7 1244.5,565.0 1244.8,564.9 1245.1,565.0 1245.3,564.8 1245.6,564.8 1245.9,565.0 1246.2,564.7 1246.5,565.1 1246.8,564.8 1247.1,565.0 1247.4,564.7 1247.6,564.6 1247.9,565.0 1248.2,565.1 1248.5,564.9 1248.8,565.0 1249.1,564.9 1249.4,565.0 1249.6,564.9 1249.9,564.7 1250.2,565.2 1250.5,564.7 1250.8,565.4 1251.1,564.9 1251.4,564.8 1251.7,564.9 1251.9,565.0 1252.2,565.0 1252.5,565.1 1252.8,564.9 1253.1,564.6 1253.4,564.9 1253.7,565.1 1254.0,565.3 1254.2,564.7 1254.5,565.1 1254.8,565.3 1255.1,564.8 1255.4,565.4 1255.7,564.9 1256.0,565.0 1256.3,565.0 1256.5,565.4 1256.8,565.2 1257.1,565.1 1257.4,565.0 1257.7,564.7 1258.0,565.0 1258.3,564.9" fill="none" stroke="#ff0000" stroke-width="8.6" stroke-linejoin="round" stroke-linecap="butt"/>
<polyline points="109.0,816.1 109.3,813.9 109.6,815.3 109.9,814.8 110.1,814.8 110.4,814.9 110.7,814.0 111.0,814.9 111.3,814.5 111.6,816.6 111.9,815.1 112.2,814.8 112.4,814.8 112.7,814.7 113.0,814.5 113.3,814.9 113.6,815.3 113.9,815.0 114.2,815.6 114.5,815.1 114.7,815.2 115.0,816.0 115.3,815.5 115.6,815.0 115.9,815.2 116.2,815.6 116.5,816.3 116.8,815.2 117.0,815.3 117.3,815.9 117.6,815.0 117.9,815.3 118.2,815.9 118.5,815.7 118.8,815.5 119.0,815.8 119.3,814.2 119.6,816.0 119.9,815.1 120.2,814.7 120.5,815.7 120.8,815.9 121.1,815.3 121.3,815.0 121.6,815.5 121.9,815.5 122.2,816.2 122.5,815.9 122.8,815.6 123.1,816.1 123.4,815.4 123.6,815.1 123.9,815.8 124.2,815.9 124.5,815.5 124.8,815.2 125.1,815.8 125.4,814.5 125.7,816.0 125.9,815.9 126.2,814.9 126.5,815.7 126.8,815.3 127.1,816.1 127.4,814.7 127.7,815.3 127.9,816.0 128.2,816.2 128.5,814.6 128.8,815.4 129.1,815.8 129.4,815.4 129.7,816.4 130.0,815.1 130.2,815.8 130.5,815.2 130.8,816.4 131.1,815.7 131.4,815.5 131.7,814.9 132.0,816.5 132.3,816.0 132.5,816.0 132.8,816.2 133.1,815.8 133.4,815.3 133.7,815.2 134.0,815.2 134.3,816.2 134.6,814.8 134.8,815.2 135.1,815.3 135.4,815.6 135.7,815.8 136.0,814.9 136.3,814.7 136.6,815.5 136.8,816.1 137.1,815.9 137.4,815.7 137.7,815.5 138.0,815.8 138.3,815.6 138.6,816.1 138.9,815.4 139.1,815.9 139.4,815.8 139.7,816.2 140.0,816.0 140.3,817.2 140.6,816.7 140.9,816.7 141.2,815.1 141.4,815.9 141.7,815.8 142.0,816.3 142.3,815.0 142.6,816.6 142.9,816.6 143.2,815.4 143.5,815.5 143.7,815.6 144.0,816.0 144.3,816.3 144.6,817.0 144.9,815.9 145.2,816.3 145.5,816.0 145.7,816.8 146.0,816.3 146.3,816.6 146.6,815.4 146.9,815.8 147.2,815.5 147.5,816.6 147.8,816.2 148.0,815.7 148.3,815.6 148.6,816.0 148.9,815.5 149.2,815.3 149.5,816.0 149.8,817.0 150.1,815.7 150.3,815.5 150.6,815.2 150.9,815.1 151.2,816.0 151.5,816.2 151.8,815.8 152.1,816.0 152.4,815.9 152.6,815.9 152.9,815.1 153.2,815.6 153.5,815.9 153.8,815.5 154.1,815.7 154.4,815.5 154.6,815.8 154.9,816.4 155.2,815.8 155.5,815.9 155.8,816.4 156.1,816.4 156.4,816.9 156.7,815.1 156.9,816.6 157.2,816.0 157.5,816.3 157.8,816.6 158.1,816.8 158.4,816.8 158.7,816.3 159.0,817.0 159.2,816.1 159.5,816.2 159.8,816.6 160.1,815.9 160.4,817.2 160.7,816.7 161.0,817.2 161.3,816.1 161.5,816.0 161.8,816.2 162.1,816.5 162.4,815.8 162.7,816.3 163.0,816.1 163.3,816.9 163.5,815.8 163.8,816.7 164.1,815.9 164.4,815.7 164.7,815.8 165.0,815.6 165.3,816.3 165.6,816.7 165.8,816.3 166.1,816.6 166.4,817.0 166.7,816.4 167.0,816.4 167.3,816.2 167.6,815.5 167.9,816.7 168.1,815.5 168.4,816.6 168.7,816.3 169.0,816.8 169.3,816.3 169.6,815.9 169.9,816.4 170.2,816.0 170.4,816.2 170.7,816.2 171.0,816.2 171.3,816.1 171.6,815.8 171.9,816.1 172.2,815.2 172.4,816.2 172.7,815.7 173.0,816.8 173.3,816.9 173.6,815.3 173.9,816.4 174.2,816.2 174.5,815.8 174.7,816.5 175.0,816.0 175.3,815.4 175.6,816.1 175.9,816.1 176.2,816.2 176.5,815.6 176.8,816.4 177.0,816.5 177.3,815.5 177.6,815.7 177.9,816.0 178.2,815.8 178.5,816.9 178.8,816.1 179.1,815.5 179.3,815.6 179.6,816.0 179.9,817.2 180.2,816.0 180.5,816.2 180.8,816.4 181.1,816.1 181.3,817.3 181.6,815.9 181.9,816.6 182.2,816.3 182.5,816.6 182.8,815.7 183.1,817.1 183.4,816.2 183.6,816.3 183.9,815.8 184.2,815.9 184.5,816.6 184.8,816.8 185.1,816.7 185.4,816.9 185.7,816.6 185.9,816.3 186.2,816.7 186.5,816.6 186.8,816.3 187.1,816.7 187.4,817.0 187.7,816.5 188.0,816.2 188.2,816.7 188.5,817.3 188.8,816.3 189.1,816.3 189.4,816.3 189.7,817.0 190.0,815.5 190.2,816.5 190.5,816.9 190.8,816.0 191.1,817.1 191.4,816.6 191.7,816.1 192.0,816.4 192.3,815.6 192.5,816.0 192.8,817.2 193.1,815.8 193.4,817.1 193.7,816.2 194.0,816.7 194.3,816.2 194.6,815.1 194.8,815.9 195.1,816.2 195.4,815.5 195.7,815.4 196.0,816.2 196.3,815.7 196.6,815.2 196.9,815.7 197.1,816.4 197.4,815.8 197.7,816.5 198.0,816.7 198.3,816.0 198.6,815.5 198.9,815.4 199.1,816.0 199.4,816.5 199.7,816.2 200.0,816.4 200.3,815.9 200.6,816.3 200.9,815.9 201.2,816.0 201.4,815.6 201.7,815.4 202.0,816.0 202.3,815.7 202.6,815.7 202.9,816.5 203.2,816.1 203.5,817.6 203.7,816.6 204.0,815.9 204.3,816.5 204.6,816.3 204.9,815.8 205.2,816.6 205.5,815.7 205.8,814.6 206.0,816.4 206.3,815.7 206.6,816.7 206.9,815.6 207.2,815.4 207.5,816.7 207.8,815.4 208.0,816.0 208.3,816.6 208.6,815.9 208.9,815.8 209.2,815.9 209.5,816.3 209.8,815.5 210.1,816.2 210.3,816.2 210.6,817.1 210.9,815.9 211.2,815.6 211.5,816.4 211.8,815.9 212.1,816.3 212.4,816.2 212.6,816.7 212.9,815.8 213.2,816.1 213.5,814.9 213.8,815.7 214.1,816.9 214.4,815.8 214.7,815.8 214.9,815.5 215.2,816.3 215.5,816.1 215.8,815.5 216.1,816.3 216.4,816.1 216.7,816.3 216.9,815.6 217.2,816.7 217.5,816.1 217.8,815.8 218.1,815.5 218.4,815.6 218.7,816.1 219.0,815.5 219.2,816.1 219.5,815.8 219.8,816.1 220.1,815.8 220.4,815.3 220.7,814.3 221.0,815.3 221.3,815.4 221.5,815.0 221.8,815.0 222.1,814.4 222.4,814.3 222.7,813.8 223.0,814.7 223.3,813.9 223.6,813.4 223.8,812.7 224.1,813.0 224.4,813.5 224.7,812.7 225.0,811.8 225.3,812.4 225.6,811.9 225.8,811.2 226.1,810.5 226.4,810.0 226.7,808.9 227.0,808.1 227.3,806.2 227.6,806.0 227.9,803.7 228.1,802.4 228.4,797.8 228.7,796.4 229.0,794.0 229.3,790.9 229.6,788.2 229.9,784.4 230.2,779.3 230.4,771.1 230.7,755.3 231.0,736.1 231.3,716.4 231.6,699.1 231.9,684.9 232.2,672.0 232.5,659.2 232.7,643.8 233.0,631.1 233.3,622.1 233.6,617.6 233.9,619.4 234.2,626.3 234.5,637.8 234.7,651.0 235.0,665.8 235.3,677.4 235.6,692.0 235.9,706.0 236.2,725.0 236.5,745.4 236.8,764.9 237.0,775.2 237.3,781.5 237.6,786.4 237.9,789.6 238.2,792.3 238.5,795.2 238.8,797.0 239.1,799.9 239.3,802.3 239.6,805.0 239.9,806.4 240.2,807.8 240.5,808.2 240.8,809.0 241.1,810.2 241.4,810.3 241.6,811.5 241.9,811.9 242.2,811.7 242.5,812.3 242.8,812.7 243.1,813.8 243.4,814.5 243.6,813.4 243.9,813.7 244.2,812.8 244.5,814.1 244.8,814.2 245.1,813.8 245.4,814.8 245.7,813.7 245.9,814.5 246.2,814.7 246.5,814.2 246.8,815.2 247.1,815.4 247.4,814.3 247.7,814.3 248.0,815.4 248.2,815.1 248.5,814.6 248.8,815.1 249.1,815.2 249.4,815.2 249.7,815.7 250.0,815.5 250.3,816.2 250.5,816.0 250.8,815.7 251.1,815.9 251.4,816.1 251.7,815.8 252.0,814.9 252.3,815.9 252.5,815.6 252.8,816.3 253.1,815.6 253.4,815.9 253.7,815.8 254.0,816.5 254.3,815.8 254.6,815.5 254.8,815.8 255.1,815.5 255.4,815.7 255.7,815.6 256.0,815.7 256.3,816.4 256.6,815.2 256.9,815.3 257.1,815.1 257.4,815.4 257.7,814.3 258.0,814.3 258.3,814.4 258.6,814.5 258.9,813.9 259.2,813.4 259.4,812.8 259.7,813.1 260.0,813.1 260.3,812.1 260.6,811.5 260.9,811.1 261.2,809.9 261.5,809.6 261.7,809.1 262.0,808.7 262.3,808.0 262.6,806.8 262.9,807.4 263.2,807.1 263.5,805.7 263.7,805.6 264.0,805.2 264.3,805.3 264.6,804.0 264.9,805.5 265.2,804.5 265.5,805.5 265.8,805.2 266.0,805.3 266.3,805.8 266.6,806.7 266.9,806.4 267.2,807.1 267.5,807.6 267.8,807.5 268.1,809.4 268.3,809.6 268.6,809.8 268.9,810.8 269.2,810.2 269.5,811.0 269.8,812.1 270.1,812.1 270.4,810.8 270.6,810.4 270.9,811.7 271.2,812.8 271.5,812.2 271.8,812.3 272.1,812.8 272.4,812.1 272.6,812.6 272.9,812.8 273.2,812.7 273.5,812.6 273.8,812.0 274.1,812.5 274.4,812.0 274.7,812.7 274.9,813.3 275.2,811.6 275.5,810.8 275.8,811.6 276.1,811.9 276.4,812.2 276.7,812.1 277.0,811.2 277.2,811.1 277.5,812.1 277.8,810.9 278.1,812.0 278.4,811.4 278.7,811.9 279.0,811.9 279.3,811.9 279.5,812.0 279.8,811.2 280.1,811.9 280.4,811.8 280.7,812.1 281.0,812.6 281.3,812.0 281.5,811.9 281.8,812.0 282.1,812.3 282.4,812.9 282.7,812.3 283.0,813.3 283.3,813.0 283.6,812.9 283.8,812.4 284.1,813.3 284.4,813.6 284.7,812.5 285.0,814.1 285.3,814.4 285.6,813.8 285.9,814.0 286.1,815.0 286.4,814.5 286.7,813.6 287.0,814.1 287.3,814.2 287.6,814.3 287.9,813.3 288.2,814.9 288.4,814.3 288.7,814.8 289.0,814.7 289.3,815.3 289.6,814.8 289.9,814.6 290.2,815.3 290.4,815.8 290.7,815.0 291.0,815.8 291.3,815.3 291.6,815.0 291.9,816.0 292.2,814.9 292.5,815.8 292.7,815.1 293.0,815.6 293.3,814.8 293.6,815.0 293.9,815.9 294.2,815.5 294.5,815.5 294.8,815.3 295.0,815.7 295.3,814.9 295.6,815.1 295.9,815.6 296.2,815.3 296.5,815.4 296.8,815.8 297.1,815.8 297.3,815.8 297.6,816.7 297.9,816.4 298.2,816.6 298.5,816.1 298.8,815.9 299.1,815.5 299.3,816.0 299.6,815.3 299.9,816.0 300.2,816.6 300.5,817.1 300.8,816.8 301.1,815.9 301.4,816.5 301.6,815.9 301.9,816.6 302.2,816.2 302.5,816.6 302.8,817.3 303.1,816.5 303.4,817.1 303.7,816.0 303.9,815.7 304.2,816.4 304.5,816.5 304.8,815.3 305.1,815.6 305.4,814.8 305.7,815.3 306.0,815.7 306.2,815.2 306.5,815.0 306.8,814.5 307.1,815.3 307.4,815.5 307.7,815.4 308.0,815.2 308.2,814.5 308.5,815.8 308.8,815.0 309.1,814.9 309.4,815.3 309.7,814.0 310.0,814.9 310.3,814.9 310.5,815.1 310.8,815.6 311.1,815.1 311.4,814.0 311.7,814.7 312.0,814.9 312.3,814.9 312.6,814.2 312.8,814.0 313.1,815.0 313.4,814.9 313.7,814.7 314.0,813.9 314.3,815.6 314.6,813.4 314.9,814.6 315.1,815.8 315.4,814.7 315.7,815.0 316.0,814.4 316.3,815.6 316.6,814.4 316.9,815.2 317.1,815.2 317.4,814.7 317.7,815.7 318.0,814.7 318.3,815.1 318.6,815.5 318.9,815.4 319.2,815.8 319.4,816.1 319.7,815.6 320.0,815.6 320.3,815.6 320.6,815.8 320.9,816.4 321.2,816.0 321.5,816.3 321.7,816.1 322.0,815.8 322.3,816.7 322.6,815.9 322.9,816.4 323.2,817.1 323.5,816.0 323.8,816.5 324.0,815.8 324.3,816.4 324.6,815.9 324.9,816.5 325.2,816.4 325.5,816.8 325.8,817.4 326.0,816.9 326.3,817.0 326.6,816.7 326.9,816.6 327.2,816.3 327.5,815.9 327.8,816.7 328.1,817.4 328.3,816.9 328.6,816.4 328.9,817.4 329.2,816.5 329.5,816.4 329.8,816.1 330.1,816.3 330.4,816.6 330.6,817.6 330.9,816.7 331.2,816.3 331.5,816.5 331.8,816.7 332.1,816.1 332.4,816.9 332.7,817.2 332.9,817.0 333.2,817.2 333.5,816.3 333.8,816.2 334.1,817.5 334.4,817.4 334.7,816.3 334.9,817.0 335.2,817.0 335.5,817.2 335.8,817.1 336.1,816.8 336.4,817.1 336.7,817.1 337.0,817.0 337.2,816.2 337.5,815.7 337.8,816.7 338.1,816.3 338.4,817.2 338.7,817.4 339.0,817.2 339.3,816.9 339.5,817.2 339.8,817.7 340.1,816.8 340.4,817.6 340.7,817.5 341.0,817.3 341.3,817.9 341.6,816.9 341.8,817.7 342.1,816.9 342.4,816.9 342.7,816.8 343.0,817.5 343.3,816.9 343.6,817.4 343.8,816.9 344.1,817.9 344.4,818.2 344.7,817.5 345.0,818.2 345.3,817.7 345.6,818.4 345.9,817.5 346.1,816.8 346.4,818.1 346.7,817.4 347.0,817.0 347.3,817.2 347.6,816.7 347.9,817.4 348.2,817.0 348.4,818.1 348.7,817.7 349.0,816.6 349.3,816.7 349.6,817.1 349.9,816.4 350.2,817.2 350.5,817.2 350.7,816.9 351.0,817.0 351.3,817.4 351.6,817.8 351.9,817.9 352.2,817.3 352.5,817.6 352.7,817.0 353.0,817.5 353.3,816.9 353.6,817.7 353.9,816.9 354.2,817.0 354.5,817.5 354.8,817.8 355.0,816.9 355.3,817.4 355.6,817.7 355.9,817.8 356.2,817.3 356.5,817.8 356.8,817.6 357.1,818.4 357.3,818.0 357.6,817.2 357.9,816.8 358.2,817.8 358.5,818.3 358.8,817.9 359.1,818.2 359.4,817.5 359.6,817.1 359.9,818.0 360.2,817.7 360.5,818.0 360.8,817.1 361.1,817.7 361.4,817.4 361.6,818.0 361.9,817.4 362.2,817.4 362.5,817.4 362.8,818.2 363.1,817.6 363.4,817.3 363.7,817.2 363.9,817.2 364.2,818.3 364.5,816.9 364.8,817.3 365.1,818.0 365.4,818.2 365.7,817.7 366.0,818.1 366.2,818.1 366.5,818.2 366.8,817.8 367.1,818.5 367.4,817.9 367.7,818.4 368.0,817.3 368.3,818.2 368.5,817.3 368.8,817.2 369.1,818.0 369.4,817.5 369.7,818.0 370.0,817.4 370.3,818.5 370.5,817.9 370.8,817.4 371.1,818.0 371.4,818.3 371.7,817.6 372.0,818.1 372.3,818.8 372.6,818.3 372.8,817.9 373.1,817.7 373.4,818.2 373.7,817.3 374.0,816.7 374.3,817.7 374.6,817.5 374.9,818.7 375.1,818.0 375.4,817.6 375.7,817.5 376.0,818.2 376.3,817.6 376.6,817.7 376.9,817.8 377.2,817.9 377.4,817.9 377.7,817.9 378.0,818.4 378.3,818.5 378.6,817.1 378.9,818.9 379.2,817.8 379.4,818.3 379.7,817.5 380.0,817.9 380.3,817.9 380.6,817.9 380.9,818.2 381.2,818.1 381.5,817.4 381.7,817.8 382.0,818.1 382.3,818.1 382.6,817.7 382.9,817.7 383.2,817.8 383.5,817.3 383.8,817.3 384.0,818.4 384.3,817.6 384.6,817.8 384.9,817.5 385.2,818.3 385.5,818.5 385.8,817.7 386.1,818.0 386.3,817.4 386.6,818.5 386.9,818.2 387.2,817.4 387.5,818.3 387.8,817.9 388.1,818.0 388.3,817.9 388.6,817.5 388.9,817.6 389.2,818.1 389.5,817.8 389.8,817.5 390.1,818.7 390.4,817.8 390.6,817.7 390.9,817.7 391.2,818.3 391.5,818.4 391.8,818.1 392.1,818.4 392.4,817.4 392.7,817.9 392.9,817.9 393.2,818.1 393.5,818.3 393.8,817.2 394.1,819.4 394.4,817.7 394.7,818.2 395.0,818.4 395.2,818.4 395.5,818.2 395.8,816.9 396.1,817.7 396.4,818.4 396.7,817.7 397.0,817.7 397.2,817.2 397.5,818.6 397.8,818.4 398.1,817.8 398.4,818.1 398.7,818.1 399.0,817.7 399.3,818.0 399.5,818.2 399.8,818.4 400.1,818.7 400.4,818.1 400.7,817.9 401.0,818.3 401.3,817.9 401.6,817.6 401.8,818.6 402.1,818.0 402.4,818.2 402.7,818.4 403.0,817.7 403.3,818.4 403.6,818.3 403.9,818.1 404.1,818.3 404.4,817.8 404.7,817.2 405.0,818.0 405.3,817.8 405.6,818.5 405.9,818.3 406.1,818.0 406.4,818.2 406.7,818.7 407.0,818.6 407.3,818.3 407.6,818.4 407.9,818.1 408.2,818.1 408.4,818.4 408.7,818.1 409.0,818.3 409.3,817.7 409.6,817.5 409.9,817.4 410.2,817.9 410.5,818.6 410.7,818.6 411.0,817.7 411.3,817.4 411.6,818.4 411.9,818.2 412.2,817.5 412.5,818.5 412.8,818.1 413.0,818.6 413.3,818.2 413.6,818.4 413.9,818.2 414.2,817.7 414.5,818.0 414.8,817.8 415.0,818.4 415.3,817.7 415.6,817.4 415.9,818.3 416.2,818.5 416.5,818.6 416.8,818.5 417.1,817.5 417.3,817.8 417.6,817.9 417.9,818.1 418.2,817.2 418.5,818.1 418.8,818.2 419.1,817.7 419.4,818.1 419.6,818.6 419.9,818.1 420.2,818.5 420.5,818.5 420.8,818.2 421.1,818.2 421.4,817.9 421.7,818.5 421.9,817.8 422.2,817.7 422.5,818.2 422.8,817.7 423.1,818.1 423.4,818.4 423.7,818.0 423.9,818.0 424.2,818.3 424.5,818.2 424.8,817.3 425.1,817.4 425.4,818.5 425.7,818.1 426.0,817.1 426.2,817.4 426.5,817.9 426.8,817.5 427.1,818.1 427.4,817.9 427.7,818.1 428.0,817.5 428.3,818.2 428.5,818.7 428.8,817.6 429.1,818.5 429.4,818.4 429.7,818.3 430.0,818.0 430.3,817.6 430.6,817.7 430.8,818.4 431.1,818.5 431.4,818.6 431.7,818.5 432.0,818.5 432.3,817.9 432.6,817.6 432.8,818.2 433.1,818.3 433.4,818.1 433.7,817.5 434.0,817.9 434.3,817.6 434.6,818.2 434.9,817.7 435.1,818.1 435.4,818.3 435.7,818.2 436.0,818.7 436.3,817.8 436.6,817.4 436.9,818.6 437.2,818.8 437.4,818.8 437.7,818.4 438.0,818.5 438.3,818.4 438.6,817.8 438.9,818.1 439.2,818.5 439.5,818.1 439.7,819.1 440.0,817.8 440.3,818.2 440.6,818.8 440.9,818.1 441.2,817.9 441.5,817.8 441.7,818.1 442.0,818.9 442.3,818.5 442.6,818.5 442.9,818.1 443.2,818.6 443.5,818.3 443.8,817.9 444.0,818.1 444.3,818.3 444.6,818.7 444.9,818.2 445.2,818.5 445.5,819.0 445.8,818.0 446.1,817.8 446.3,818.7 446.6,818.5 446.9,818.3 447.2,818.4 447.5,818.2 447.8,818.5 448.1,818.2 448.4,818.6 448.6,817.9 448.9,818.0 449.2,818.3 449.5,818.1 449.8,818.5 450.1,818.2 450.4,818.0 450.6,818.3 450.9,818.0 451.2,817.6 451.5,817.7 451.8,817.8 452.1,817.9 452.4,818.1 452.7,818.4 452.9,818.3 453.2,818.8 453.5,818.6 453.8,818.0 454.1,818.7 454.4,818.6 454.7,818.0 455.0,818.3 455.2,818.6 455.5,818.3 455.8,818.6 456.1,818.4 456.4,818.5 456.7,818.1 457.0,818.4 457.3,818.1 457.5,818.5 457.8,817.6 458.1,818.3 458.4,818.6 458.7,818.4 459.0,818.1 459.3,818.3 459.5,817.8 459.8,817.8 460.1,818.0 460.4,818.1 460.7,818.5 461.0,817.8 461.3,818.5 461.6,817.5 461.8,817.8 462.1,818.1 462.4,818.5 462.7,817.9 463.0,817.3 463.3,818.3 463.6,818.1 463.9,817.7 464.1,817.7 464.4,817.8 464.7,818.1 465.0,818.3 465.3,817.5 465.6,818.9 465.9,818.1 466.2,818.0 466.4,818.3 466.7,818.1 467.0,819.0 467.3,818.5 467.6,818.0 467.9,818.0 468.2,817.9 468.4,818.0 468.7,818.4 469.0,817.9 469.3,818.7 469.6,818.1 469.9,818.1 470.2,818.4 470.5,817.4 470.7,817.7 471.0,818.3 471.3,818.1 471.6,818.1 471.9,818.2 472.2,817.8 472.5,818.0 472.8,817.5 473.0,817.3 473.3,818.5 473.6,817.7 473.9,817.7 474.2,818.5 474.5,818.4 474.8,817.8 475.1,817.8 475.3,817.9 475.6,817.6 475.9,818.2 476.2,818.0 476.5,818.0 476.8,818.2 477.1,818.2 477.3,818.6 477.6,818.5 477.9,817.3 478.2,818.3 478.5,817.5 478.8,817.4 479.1,818.2 479.4,817.7 479.6,817.8 479.9,818.3 480.2,817.6 480.5,817.5 480.8,818.0 481.1,818.2 481.4,818.0 481.7,817.2 481.9,817.4 482.2,817.6 482.5,818.3 482.8,817.8 483.1,817.7 483.4,817.8 483.7,817.2 484.0,817.4 484.2,817.3 484.5,816.6 484.8,816.9 485.1,817.0 485.4,816.3 485.7,816.8 486.0,816.6 486.2,816.6 486.5,815.7 486.8,815.9 487.1,816.1 487.4,815.7 487.7,814.8 488.0,814.9 488.3,815.0 488.5,814.0 488.8,813.8 489.1,814.0 489.4,812.5 489.7,811.8 490.0,810.6 490.3,809.8 490.6,809.5 490.8,807.7 491.1,805.9 491.4,804.5 491.7,803.5 492.0,802.6 492.3,800.8 492.6,799.6 492.9,796.8 493.1,793.8 493.4,789.6 493.7,782.9 494.0,774.0 494.3,768.3 494.6,764.4 494.9,759.5 495.1,753.8 495.4,748.0 495.7,746.1 496.0,747.7 496.3,753.5 496.6,759.9 496.9,763.7 497.2,768.0 497.4,774.1 497.7,782.5 498.0,788.7 498.3,793.2 498.6,795.8 498.9,799.2 499.2,800.4 499.5,801.9 499.7,802.7 500.0,804.3 500.3,806.0 500.6,807.6 500.9,808.0 501.2,809.9 501.5,810.4 501.8,811.0 502.0,812.2 502.3,812.5 502.6,813.0 502.9,813.3 503.2,814.0 503.5,814.3 503.8,814.5 504.0,814.4 504.3,814.8 504.6,815.3 504.9,815.7 505.2,815.3 505.5,815.9 505.8,815.4 506.1,815.0 506.3,815.5 506.6,814.8 506.9,815.2 507.2,815.2 507.5,814.5 507.8,814.4 508.1,815.1 508.4,814.0 508.6,813.8 508.9,813.8 509.2,813.3 509.5,813.1 509.8,813.2 510.1,812.2 510.4,813.6 510.7,812.8 510.9,812.9 511.2,813.7 511.5,813.7 511.8,813.5 512.1,814.3 512.4,814.1 512.7,814.5 512.9,814.5 513.2,814.9 513.5,815.5 513.8,815.5 514.1,815.6 514.4,815.8 514.7,815.3 515.0,814.8 515.2,814.6 515.5,814.8 515.8,813.7 516.1,813.0 516.4,812.1 516.7,811.3 517.0,810.4 517.3,809.1 517.5,808.0 517.8,806.7 518.1,805.7 518.4,805.2 518.7,804.6 519.0,804.1 519.3,803.5 519.6,803.2 519.8,804.0 520.1,804.5 520.4,804.5 520.7,806.3 521.0,807.2 521.3,808.7 521.6,808.8 521.8,809.8 522.1,811.6 522.4,811.6 522.7,812.9 523.0,813.5 523.3,814.2 523.6,814.5 523.9,815.6 524.1,816.4 524.4,816.6 524.7,816.9 525.0,816.8 525.3,817.7 525.6,817.5 525.9,817.8 526.2,817.0 526.4,817.8 526.7,817.3 527.0,817.9 527.3,818.0 527.6,817.6 527.9,818.1 528.2,818.5 528.5,818.3 528.7,818.4 529.0,817.9 529.3,818.0 529.6,817.9 529.9,818.4 530.2,818.8 530.5,818.5 530.7,818.4 531.0,818.0 531.3,818.6 531.6,818.4 531.9,817.8 532.2,817.8 532.5,818.3 532.8,818.2 533.0,819.1 533.3,818.5 533.6,818.1 533.9,818.4 534.2,819.1 534.5,818.2 534.8,818.8 535.1,818.7 535.3,819.1 535.6,818.8 535.9,818.4 536.2,818.8 536.5,818.6 536.8,818.9 537.1,818.5 537.4,819.3 537.6,818.5 537.9,818.7 538.2,818.3 538.5,818.6 538.8,818.6 539.1,818.7 539.4,818.9 539.6,818.4 539.9,818.3 540.2,819.0 540.5,818.5 540.8,818.4 541.1,819.1 541.4,819.0 541.7,817.7 541.9,818.6 542.2,819.0 542.5,819.0 542.8,818.5 543.1,819.3 543.4,818.4 543.7,818.6 544.0,818.7 544.2,818.7 544.5,819.0 544.8,819.1 545.1,818.7 545.4,819.2 545.7,818.4 546.0,818.6 546.3,819.3 546.5,818.7 546.8,819.1 547.1,818.5 547.4,818.6 547.7,818.6 548.0,818.7 548.3,818.6 548.6,818.7 548.8,818.9 549.1,819.1 549.4,818.7 549.7,818.9 550.0,819.0 550.3,818.3 550.6,818.1 550.8,819.2 551.1,819.2 551.4,818.7 551.7,818.8 552.0,818.4 552.3,818.2 552.6,818.8 552.9,818.2 553.1,819.1 553.4,818.5 553.7,818.8 554.0,819.4 554.3,819.4 554.6,818.6 554.9,819.0 555.2,818.2 555.4,818.4 555.7,818.7 556.0,819.0 556.3,818.3 556.6,818.6 556.9,818.4 557.2,817.9 557.5,818.3 557.7,818.9 558.0,818.3 558.3,818.5 558.6,818.7 558.9,818.1 559.2,818.8 559.5,819.0 559.7,819.0 560.0,818.9 560.3,818.3 560.6,818.3 560.9,818.2 561.2,818.2 561.5,818.2 561.8,818.9 562.0,819.1 562.3,818.3 562.6,818.8 562.9,818.1 563.2,818.4 563.5,818.2 563.8,817.9 564.1,818.5 564.3,818.5 564.6,818.4 564.9,818.3 565.2,818.1 565.5,818.5 565.8,818.3 566.1,818.6 566.4,818.1 566.6,818.6 566.9,818.7 567.2,819.0 567.5,818.9 567.8,818.6 568.1,818.3 568.4,817.9 568.6,818.5 568.9,819.0 569.2,819.1 569.5,817.6 569.8,818.2 570.1,818.4 570.4,818.1 570.7,818.5 570.9,818.5 571.2,818.3 571.5,818.5 571.8,817.9 572.1,818.1 572.4,818.2 572.7,818.8 573.0,817.9 573.2,818.4 573.5,818.8 573.8,818.5 574.1,818.8 574.4,818.3 574.7,818.7 575.0,818.8 575.3,819.3 575.5,818.7 575.8,818.9 576.1,818.4 576.4,818.4 576.7,818.9 577.0,818.6 577.3,818.8 577.5,818.6 577.8,819.0 578.1,819.1 578.4,817.9 578.7,818.9 579.0,818.3 579.3,818.3 579.6,818.1 579.8,818.3 580.1,817.6 580.4,817.8 580.7,817.7 581.0,818.1 581.3,818.3 581.6,818.2 581.9,818.0 582.1,817.6 582.4,817.2 582.7,818.0 583.0,817.9 583.3,817.9 583.6,818.3 583.9,817.7 584.2,817.7 584.4,817.0 584.7,818.0 585.0,817.8 585.3,817.5 585.6,817.9 585.9,817.4 586.2,817.5 586.4,818.4 586.7,817.9 587.0,818.0 587.3,817.9 587.6,817.8 587.9,817.6 588.2,818.3 588.5,817.4 588.7,817.6 589.0,817.2 589.3,817.1 589.6,816.3 589.9,816.4 590.2,817.6 590.5,817.5 590.8,816.7 591.0,816.8 591.3,816.9 591.6,816.3 591.9,817.2 592.2,816.1 592.5,816.1 592.8,815.2 593.1,816.6 593.3,816.0 593.6,816.4 593.9,815.2 594.2,815.5 594.5,815.2 594.8,815.1 595.1,815.5 595.3,815.3 595.6,814.8 595.9,813.8 596.2,814.0 596.5,813.9 596.8,813.3 597.1,813.0 597.4,812.7 597.6,811.8 597.9,811.8 598.2,811.8 598.5,810.3 598.8,809.9 599.1,809.3 599.4,807.4 599.7,806.5 599.9,804.6 600.2,803.7 600.5,802.0 600.8,800.7 601.1,799.2 601.4,797.2 601.7,794.9 602.0,791.5 602.2,790.0 602.5,786.4 602.8,783.4 603.1,780.4 603.4,776.2 603.7,766.3 604.0,750.2 604.2,735.8 604.5,722.0 604.8,710.4 605.1,702.0 605.4,694.3 605.7,686.5 606.0,678.5 606.3,669.5 606.5,660.8 606.8,664.9 607.1,673.8 607.4,682.4 607.7,690.5 608.0,698.7 608.3,706.1 608.6,715.9 608.8,728.6 609.1,743.7 609.4,758.8 609.7,772.4 610.0,778.2 610.3,782.6 610.6,785.6 610.9,787.5 611.1,790.8 611.4,794.1 611.7,796.7 612.0,798.1 612.3,800.2 612.6,802.3 612.9,803.2 613.1,804.6 613.4,805.9 613.7,806.9 614.0,808.7 614.3,809.8 614.6,810.1 614.9,811.2 615.2,812.2 615.4,812.3 615.7,813.0 616.0,812.9 616.3,813.9 616.6,813.4 616.9,814.7 617.2,814.1 617.5,814.3 617.7,814.5 618.0,814.9 618.3,815.0 618.6,815.2 618.9,815.5 619.2,816.0 619.5,816.2 619.8,815.9 620.0,816.6 620.3,816.0 620.6,816.0 620.9,816.1 621.2,816.8 621.5,816.1 621.8,816.3 622.0,817.3 622.3,817.6 622.6,817.5 622.9,816.6 623.2,817.2 623.5,817.5 623.8,817.3 624.1,816.8 624.3,817.3 624.6,816.9 624.9,817.1 625.2,818.4 625.5,817.9 625.8,817.2 626.1,817.2 626.4,817.9 626.6,817.6 626.9,818.1 627.2,817.7 627.5,817.9 627.8,818.0 628.1,817.6 628.4,817.3 628.7,817.6 628.9,817.8 629.2,818.0 629.5,818.1 629.8,818.1 630.1,818.4 630.4,817.9 630.7,818.7 630.9,818.9 631.2,818.4 631.5,818.3 631.8,818.7 632.1,818.5 632.4,818.3 632.7,818.2 633.0,817.9 633.2,817.8 633.5,818.4 633.8,818.6 634.1,817.8 634.4,818.2 634.7,818.3 635.0,818.0 635.3,817.9 635.5,818.1 635.8,817.5 636.1,818.2 636.4,818.1 636.7,819.0 637.0,818.6 637.3,818.1 637.6,818.3 637.8,818.9 638.1,818.9 638.4,818.4 638.7,818.2 639.0,817.8 639.3,818.2 639.6,818.3 639.8,818.1 640.1,819.0 640.4,817.7 640.7,818.3 641.0,818.5 641.3,818.5 641.6,819.0 641.9,817.9 642.1,818.2 642.4,818.5 642.7,818.5 643.0,818.3 643.3,818.2 643.6,818.9 643.9,818.1 644.2,818.3 644.4,819.0 644.7,819.1 645.0,818.8 645.3,818.2 645.6,818.2 645.9,818.2 646.2,818.1 646.5,818.4 646.7,819.0 647.0,818.6 647.3,818.3 647.6,818.3 647.9,818.2 648.2,819.0 648.5,817.9 648.7,818.7 649.0,818.1 649.3,818.3 649.6,818.1 649.9,819.0 650.2,818.6 650.5,819.6 650.8,818.3 651.0,818.2 651.3,818.8 651.6,818.8 651.9,818.5 652.2,817.8 652.5,819.0 652.8,818.7 653.1,818.6 653.3,818.2 653.6,818.7 653.9,818.2 654.2,818.4 654.5,818.3 654.8,818.8 655.1,818.1 655.4,818.1 655.6,818.6 655.9,818.3 656.2,818.1 656.5,818.0 656.8,818.4 657.1,817.8 657.4,818.1 657.6,818.7 657.9,818.0 658.2,817.5 658.5,817.3 658.8,817.7 659.1,817.1 659.4,816.9 659.7,817.1 659.9,816.8 660.2,817.3 660.5,816.2 660.8,817.0 661.1,815.8 661.4,815.6 661.7,815.3 662.0,814.5 662.2,813.9 662.5,812.5 662.8,811.1 663.1,810.8 663.4,809.2 663.7,808.5 664.0,807.9 664.3,806.4 664.5,805.2 664.8,804.1 665.1,803.7 665.4,803.3 665.7,802.6 666.0,803.5 666.3,803.4 666.5,804.6 666.8,805.2 667.1,806.8 667.4,807.9 667.7,808.7 668.0,809.8 668.3,811.1 668.6,812.4 668.8,813.2 669.1,813.7 669.4,814.5 669.7,815.6 670.0,815.0 670.3,816.3 670.6,816.2 670.9,817.3 671.1,816.9 671.4,817.3 671.7,817.1 672.0,817.7 672.3,818.1 672.6,818.5 672.9,817.6 673.2,817.9 673.4,819.6 673.7,818.6 674.0,818.3 674.3,818.5 674.6,817.4 674.9,819.0 675.2,818.5 675.4,818.0 675.7,818.9 676.0,818.3 676.3,818.2 676.6,818.7 676.9,818.7 677.2,818.4 677.5,818.5 677.7,818.0 678.0,818.0 678.3,818.8 678.6,819.0 678.9,818.6 679.2,818.6 679.5,818.3 679.8,818.4 680.0,818.1 680.3,819.1 680.6,818.3 680.9,818.6 681.2,818.5 681.5,818.0 681.8,819.3 682.1,818.4 682.3,818.3 682.6,818.7 682.9,818.3 683.2,818.7 683.5,818.4 683.8,818.9 684.1,818.8 684.3,818.3 684.6,819.1 684.9,818.8 685.2,818.4 685.5,818.9 685.8,818.9 686.1,819.4 686.4,818.4 686.6,819.0 686.9,818.7 687.2,818.9 687.5,818.6 687.8,818.6 688.1,818.8 688.4,818.2 688.7,817.8 688.9,818.6 689.2,818.4 689.5,818.6 689.8,818.8 690.1,818.5 690.4,819.0 690.7,818.5 691.0,818.6 691.2,818.9 691.5,818.8 691.8,818.6 692.1,818.7 692.4,818.4 692.7,818.5 693.0,818.7 693.2,819.0 693.5,818.6 693.8,819.1 694.1,819.5 694.4,819.6 694.7,818.8 695.0,819.2 695.3,819.1 695.5,819.1 695.8,819.2 696.1,819.1 696.4,819.2 696.7,819.0 697.0,818.8 697.3,819.0 697.6,819.1 697.8,819.3 698.1,819.0 698.4,819.2 698.7,819.4 699.0,818.5 699.3,818.8 699.6,819.0 699.9,818.9 700.1,818.5 700.4,819.2 700.7,818.8 701.0,818.5 701.3,819.5 701.6,818.3 701.9,818.8 702.1,818.5 702.4,818.8 702.7,819.0 703.0,818.5 703.3,818.7 703.6,818.7 703.9,818.4 704.2,819.2 704.4,818.9 704.7,818.7 705.0,818.6 705.3,818.7 705.6,818.9 705.9,818.8 706.2,819.4 706.5,818.1 706.7,818.2 707.0,818.9 707.3,818.4 707.6,819.1 707.9,818.9 708.2,819.3 708.5,819.3 708.8,819.6 709.0,819.4 709.3,819.5 709.6,819.3 709.9,819.4 710.2,819.2 710.5,818.8 710.8,818.6 711.0,818.6 711.3,819.2 711.6,818.1 711.9,819.0 712.2,818.7 712.5,819.2 712.8,819.0 713.1,818.7 713.3,819.0 713.6,818.1 713.9,819.1 714.2,819.1 714.5,818.3 714.8,819.3 715.1,818.9 715.4,819.0 715.6,818.4 715.9,819.2 716.2,819.1 716.5,818.9 716.8,818.6 717.1,819.2 717.4,819.3 717.7,819.0 717.9,819.2 718.2,818.7 718.5,818.9 718.8,819.0 719.1,818.9 719.4,819.9 719.7,819.1 719.9,818.7 720.2,819.2 720.5,818.5 720.8,819.1 721.1,819.2 721.4,818.8 721.7,818.9 722.0,818.7 722.2,819.1 722.5,818.8 722.8,819.7 723.1,819.3 723.4,819.0 723.7,818.6 724.0,819.8 724.3,819.6 724.5,819.3 724.8,819.2 725.1,819.2 725.4,818.9 725.7,819.8 726.0,819.2 726.3,818.6 726.6,818.9 726.8,818.2 727.1,819.4 727.4,819.4 727.7,819.8 728.0,819.9 728.3,818.8 728.6,819.3 728.8,819.5 729.1,819.4 729.4,818.9 729.7,819.4 730.0,819.2 730.3,819.5 730.6,819.0 730.9,818.9 731.1,818.8 731.4,818.8 731.7,818.6 732.0,818.8 732.3,819.0 732.6,819.0 732.9,819.3 733.2,819.2 733.4,819.0 733.7,818.4 734.0,819.0 734.3,819.2 734.6,818.4 734.9,818.4 735.2,818.5 735.5,818.5 735.7,818.8 736.0,818.6 736.3,819.0 736.6,818.5 736.9,818.9 737.2,818.8 737.5,818.6 737.7,819.3 738.0,819.0 738.3,819.2 738.6,818.8 738.9,819.2 739.2,819.2 739.5,818.9 739.8,818.3 740.0,819.2 740.3,819.1 740.6,818.9 740.9,819.0 741.2,818.9 741.5,818.9 741.8,818.5 742.1,818.8 742.3,819.0 742.6,818.6 742.9,818.5 743.2,819.5 743.5,819.1 743.8,818.8 744.1,818.7 744.4,817.9 744.6,818.4 744.9,818.8 745.2,819.4 745.5,818.2 745.8,818.6 746.1,819.6 746.4,819.2 746.6,819.1 746.9,819.4 747.2,818.9 747.5,818.9 747.8,819.2 748.1,819.3 748.4,818.6 748.7,819.6 748.9,818.4 749.2,818.8 749.5,820.2 749.8,818.9 750.1,819.4 750.4,818.8 750.7,819.0 751.0,818.9 751.2,819.0 751.5,819.4 751.8,819.8 752.1,819.5 752.4,819.8 752.7,819.0 753.0,819.8 753.3,819.4 753.5,819.7 753.8,819.1 754.1,819.2 754.4,819.8 754.7,819.5 755.0,819.3 755.3,819.1 755.5,819.3 755.8,819.5 756.1,819.6 756.4,819.1 756.7,819.1 757.0,819.4 757.3,818.8 757.6,819.6 757.8,819.2 758.1,819.1 758.4,818.3 758.7,818.6 759.0,818.7 759.3,818.9 759.6,818.7 759.9,819.2 760.1,819.1 760.4,818.9 760.7,818.3 761.0,819.5 761.3,818.9 761.6,819.2 761.9,818.7 762.2,819.0 762.4,819.2 762.7,819.0 763.0,819.3 763.3,818.9 763.6,819.7 763.9,818.2 764.2,818.7 764.4,819.3 764.7,818.8 765.0,818.7 765.3,818.2 765.6,819.3 765.9,818.2 766.2,819.1 766.5,819.0 766.7,819.2 767.0,819.4 767.3,818.6 767.6,818.6 767.9,818.8 768.2,818.3 768.5,819.2 768.8,818.7 769.0,818.9 769.3,818.4 769.6,818.8 769.9,818.6 770.2,818.8 770.5,818.4 770.8,819.2 771.1,818.5 771.3,817.9 771.6,819.0 771.9,818.7 772.2,818.4 772.5,819.7 772.8,818.7 773.1,818.3 773.3,818.5 773.6,818.9 773.9,818.7 774.2,819.2 774.5,819.2 774.8,818.5 775.1,818.8 775.4,819.0 775.6,818.6 775.9,818.6 776.2,819.1 776.5,818.9 776.8,818.3 777.1,818.6 777.4,818.6 777.7,818.7 777.9,818.5 778.2,819.2 778.5,818.4 778.8,818.3 779.1,818.8 779.4,817.9 779.7,818.4 780.0,818.9 780.2,818.2 780.5,818.4 780.8,819.1 781.1,818.9 781.4,818.7 781.7,818.8 782.0,818.5 782.2,818.9 782.5,818.7 782.8,819.7 783.1,819.0 783.4,818.7 783.7,818.8 784.0,818.9 784.3,818.3 784.5,818.6 784.8,819.4 785.1,818.4 785.4,818.7 785.7,819.3 786.0,819.4 786.3,818.5 786.6,819.4 786.8,818.8 787.1,819.5 787.4,819.1 787.7,818.8 788.0,819.1 788.3,819.1 788.6,818.6 788.9,819.6 789.1,818.7 789.4,819.2 789.7,818.6 790.0,818.1 790.3,818.4 790.6,818.7 790.9,819.0 791.1,819.4 791.4,818.8 791.7,818.6 792.0,818.3 792.3,818.7 792.6,818.8 792.9,817.9 793.2,819.2 793.4,819.1 793.7,819.6 794.0,818.4 794.3,818.8 794.6,818.8 794.9,818.3 795.2,818.5 795.5,818.4 795.7,819.0 796.0,818.9 796.3,819.3 796.6,818.6 796.9,818.2 797.2,818.9 797.5,818.8 797.8,818.9 798.0,819.1 798.3,818.4 798.6,818.8 798.9,818.1 799.2,818.5 799.5,818.6 799.8,818.3 800.0,818.3 800.3,817.7 800.6,817.9 800.9,818.1 801.2,817.5 801.5,817.5 801.8,818.6 802.1,817.7 802.3,817.1 802.6,816.8 802.9,817.5 803.2,815.7 803.5,816.2 803.8,816.2 804.1,815.3 804.4,815.2 804.6,814.0 804.9,813.7 805.2,813.0 805.5,812.1 805.8,811.3 806.1,810.3 806.4,809.6 806.7,808.0 806.9,806.8 807.2,805.7 807.5,804.6 807.8,803.1 808.1,801.9 808.4,801.2 808.7,801.0 808.9,800.1 809.2,799.8 809.5,800.9 809.8,800.3 810.1,800.2 810.4,800.6 810.7,802.1 811.0,802.2 811.2,804.0 811.5,804.8 811.8,806.2 812.1,806.6 812.4,808.3 812.7,808.4 813.0,810.0 813.3,811.4 813.5,812.2 813.8,812.1 814.1,813.8 814.4,814.3 814.7,814.8 815.0,815.0 815.3,815.7 815.6,816.0 815.8,816.9 816.1,817.0 816.4,817.5 816.7,817.6 817.0,817.0 817.3,817.7 817.6,818.6 817.8,817.5 818.1,818.1 818.4,817.8 818.7,817.9 819.0,818.3 819.3,818.6 819.6,818.6 819.9,818.6 820.1,818.8 820.4,817.9 820.7,818.8 821.0,818.7 821.3,818.5 821.6,818.6 821.9,818.3 822.2,819.0 822.4,818.3 822.7,818.1 823.0,818.6 823.3,818.4 823.6,818.6 823.9,819.2 824.2,818.6 824.5,818.7 824.7,819.5 825.0,818.1 825.3,818.8 825.6,819.0 825.9,819.2 826.2,819.4 826.5,818.4 826.7,818.8 827.0,818.5 827.3,818.4 827.6,818.3 827.9,818.0 828.2,818.7 828.5,818.8 828.8,818.2 829.0,818.9 829.3,818.4 829.6,818.2 829.9,817.7 830.2,819.0 830.5,818.9 830.8,818.6 831.1,818.6 831.3,818.3 831.6,819.0 831.9,818.8 832.2,819.0 832.5,818.9 832.8,818.3 833.1,818.3 833.4,819.0 833.6,818.3 833.9,819.0 834.2,819.2 834.5,818.4 834.8,819.1 835.1,818.9 835.4,819.1 835.7,818.6 835.9,818.9 836.2,819.0 836.5,819.5 836.8,819.1 837.1,819.1 837.4,818.4 837.7,819.0 837.9,818.7 838.2,818.9 838.5,819.1 838.8,819.3 839.1,819.2 839.4,819.1 839.7,819.0 840.0,819.5 840.2,818.7 840.5,819.0 840.8,819.5 841.1,819.0 841.4,819.3 841.7,819.4 842.0,819.8 842.3,819.5 842.5,818.5 842.8,819.1 843.1,819.2 843.4,819.4 843.7,819.2 844.0,819.7 844.3,819.5 844.6,818.6 844.8,818.8 845.1,818.3 845.4,819.7 845.7,819.0 846.0,819.0 846.3,818.4 846.6,818.8 846.8,819.1 847.1,818.8 847.4,818.8 847.7,818.7 848.0,819.6 848.3,818.7 848.6,818.4 848.9,818.7 849.1,818.7 849.4,818.8 849.7,818.8 850.0,818.5 850.3,818.8 850.6,819.0 850.9,818.3 851.2,819.6 851.4,819.5 851.7,818.2 852.0,818.7 852.3,819.2 852.6,819.3 852.9,819.5 853.2,818.1 853.5,818.4 853.7,818.6 854.0,819.0 854.3,818.4 854.6,819.0 854.9,819.0 855.2,819.1 855.5,818.4 855.7,819.0 856.0,818.9 856.3,818.8 856.6,819.4 856.9,818.8 857.2,819.5 857.5,818.7 857.8,819.5 858.0,819.5 858.3,818.6 858.6,819.0 858.9,819.0 859.2,818.5 859.5,819.2 859.8,819.1 860.1,818.5 860.3,818.9 860.6,819.2 860.9,818.8 861.2,818.6 861.5,819.4 861.8,818.5 862.1,819.0 862.4,819.3 862.6,819.2 862.9,818.2 863.2,818.7 863.5,818.8 863.8,818.8 864.1,819.1 864.4,819.0 864.6,818.8 864.9,818.9 865.2,819.1 865.5,819.2 865.8,818.0 866.1,819.5 866.4,818.5 866.7,818.9 866.9,818.0 867.2,818.4 867.5,818.2 867.8,819.0 868.1,819.0 868.4,818.6 868.7,818.6 869.0,818.8 869.2,818.3 869.5,818.5 869.8,818.4 870.1,819.0 870.4,818.7 870.7,818.3 871.0,818.9 871.3,818.9 871.5,819.2 871.8,818.5 872.1,818.9 872.4,819.5 872.7,818.6 873.0,818.6 873.3,818.9 873.5,818.5 873.8,818.7 874.1,818.4 874.4,818.3 874.7,818.9 875.0,818.4 875.3,818.2 875.6,818.4 875.8,818.4 876.1,818.6 876.4,818.8 876.7,819.1 877.0,817.9 877.3,818.3 877.6,817.7 877.9,818.4 878.1,818.5 878.4,818.0 878.7,817.9 879.0,817.8 879.3,817.6 879.6,818.3 879.9,818.7 880.2,817.6 880.4,818.5 880.7,817.8 881.0,817.3 881.3,817.9 881.6,817.9 881.9,817.7 882.2,817.3 882.4,818.0 882.7,817.1 883.0,817.4 883.3,817.3 883.6,816.6 883.9,816.1 884.2,816.0 884.5,816.3 884.7,816.3 885.0,815.3 885.3,815.4 885.6,815.9 885.9,814.3 886.2,814.6 886.5,813.9 886.8,813.4 887.0,811.6 887.3,811.2 887.6,809.3 887.9,808.8 888.2,806.3 888.5,804.7 888.8,802.1 889.1,800.0 889.3,796.8 889.6,794.8 889.9,792.4 890.2,789.9 890.5,788.8 890.8,787.4 891.1,787.5 891.3,788.3 891.6,790.4 891.9,791.7 892.2,794.3 892.5,796.8 892.8,799.6 893.1,801.8 893.4,804.2 893.6,805.9 893.9,807.2 894.2,808.8 894.5,810.2 894.8,810.1 895.1,812.3 895.4,812.2 895.7,812.8 895.9,813.4 896.2,813.6 896.5,813.4 896.8,814.0 897.1,814.7 897.4,814.6 897.7,814.7 898.0,814.0 898.2,814.0 898.5,814.3 898.8,814.3 899.1,813.5 899.4,812.8 899.7,811.9 900.0,812.6 900.2,810.8 900.5,810.7 900.8,809.8 901.1,809.4 901.4,806.8 901.7,805.0 902.0,803.2 902.3,801.1 902.5,798.9 902.8,796.0 903.1,792.7 903.4,789.4 903.7,787.7 904.0,785.0 904.3,784.1 904.6,782.2 904.8,782.8 905.1,783.4 905.4,785.1 905.7,788.4 906.0,790.6 906.3,793.3 906.6,796.5 906.9,798.6 907.1,801.3 907.4,803.5 907.7,806.5 908.0,807.7 908.3,809.3 908.6,810.8 908.9,811.5 909.1,812.4 909.4,812.7 909.7,814.2 910.0,814.6 910.3,814.9 910.6,815.9 910.9,815.1 911.2,816.2 911.4,815.8 911.7,816.1 912.0,816.7 912.3,817.4 912.6,816.6 912.9,816.9 913.2,816.9 913.5,818.2 913.7,817.8 914.0,817.8 914.3,818.5 914.6,818.0 914.9,817.2 915.2,817.8 915.5,817.6 915.8,818.9 916.0,817.7 916.3,818.3 916.6,818.1 916.9,818.1 917.2,818.4 917.5,818.3 917.8,818.2 918.0,818.0 918.3,818.2 918.6,818.1 918.9,818.2 919.2,818.6 919.5,818.5 919.8,818.8 920.1,818.5 920.3,819.4 920.6,818.4 920.9,818.3 921.2,819.1 921.5,818.5 921.8,818.8 922.1,819.1 922.4,818.7 922.6,818.7 922.9,819.2 923.2,818.9 923.5,818.6 923.8,818.4 924.1,818.7 924.4,818.2 924.7,818.5 924.9,818.4 925.2,818.9 925.5,819.1 925.8,818.6 926.1,818.6 926.4,818.4 926.7,818.3 926.9,818.6 927.2,819.0 927.5,819.0 927.8,819.0 928.1,818.7 928.4,817.8 928.7,819.2 929.0,819.3 929.2,819.2 929.5,819.2 929.8,819.2 930.1,819.8 930.4,819.0 930.7,819.4 931.0,819.1 931.3,819.1 931.5,818.8 931.8,818.7 932.1,818.4 932.4,819.1 932.7,818.8 933.0,818.4 933.3,818.6 933.6,818.5 933.8,819.5 934.1,818.8 934.4,819.0 934.7,818.5 935.0,818.5 935.3,819.3 935.6,818.8 935.8,819.0 936.1,819.6 936.4,819.7 936.7,819.2 937.0,819.1 937.3,819.0 937.6,818.9 937.9,819.7 938.1,818.5 938.4,818.9 938.7,818.2 939.0,818.5 939.3,819.1 939.6,819.1 939.9,819.0 940.2,818.8 940.4,818.6 940.7,818.6 941.0,818.7 941.3,819.2 941.6,819.3 941.9,818.9 942.2,818.5 942.5,818.3 942.7,818.7 943.0,818.5 943.3,817.9 943.6,819.0 943.9,818.4 944.2,818.3 944.5,818.0 944.7,817.9 945.0,818.4 945.3,817.6 945.6,817.7 945.9,817.7 946.2,817.9 946.5,817.0 946.8,816.3 947.0,815.6 947.3,815.5 947.6,814.8 947.9,813.3 948.2,812.7 948.5,811.4 948.8,809.6 949.1,808.5 949.3,807.9 949.6,806.8 949.9,805.1 950.2,803.6 950.5,802.3 950.8,802.0 951.1,801.3 951.4,800.4 951.6,801.4 951.9,801.4 952.2,802.8 952.5,803.8 952.8,805.1 953.1,806.5 953.4,807.7 953.6,808.4 953.9,809.7 954.2,811.7 954.5,812.6 954.8,812.8 955.1,813.6 955.4,815.4 955.7,816.6 955.9,816.6 956.2,816.7 956.5,817.3 956.8,816.5 957.1,817.4 957.4,818.3 957.7,818.4 958.0,817.4 958.2,818.8 958.5,818.6 958.8,818.8 959.1,818.4 959.4,818.5 959.7,818.2 960.0,818.7 960.3,818.9 960.5,818.2 960.8,818.7 961.1,818.4 961.4,819.0 961.7,819.0 962.0,817.8 962.3,818.8 962.5,819.1 962.8,818.5 963.1,818.6 963.4,818.7 963.7,818.3 964.0,818.8 964.3,819.4 964.6,819.0 964.8,819.4 965.1,819.3 965.4,819.3 965.7,819.0 966.0,819.2 966.3,819.7 966.6,819.5 966.9,819.1 967.1,818.7 967.4,818.6 967.7,819.1 968.0,819.2 968.3,818.3 968.6,819.1 968.9,819.1 969.2,819.1 969.4,818.8 969.7,819.9 970.0,819.4 970.3,818.5 970.6,818.8 970.9,819.3 971.2,819.2 971.4,819.1 971.7,819.0 972.0,819.0 972.3,818.9 972.6,818.7 972.9,819.3 973.2,818.0 973.5,818.8 973.7,819.5 974.0,818.8 974.3,818.6 974.6,819.8 974.9,819.5 975.2,819.0 975.5,818.9 975.8,819.0 976.0,819.0 976.3,819.1 976.6,818.9 976.9,819.4 977.2,819.0 977.5,818.5 977.8,818.7 978.1,819.2 978.3,818.9 978.6,818.3 978.9,819.8 979.2,819.5 979.5,819.1 979.8,819.1 980.1,819.5 980.3,819.8 980.6,819.0 980.9,819.4 981.2,819.0 981.5,819.4 981.8,818.8 982.1,818.5 982.4,819.2 982.6,819.2 982.9,819.5 983.2,818.9 983.5,819.7 983.8,819.2 984.1,819.7 984.4,819.0 984.7,819.7 984.9,819.1 985.2,819.2 985.5,819.5 985.8,818.5 986.1,818.8 986.4,819.8 986.7,818.6 987.0,819.0 987.2,819.4 987.5,819.7 987.8,819.0 988.1,819.3 988.4,818.8 988.7,819.1 989.0,819.6 989.2,819.4 989.5,819.3 989.8,819.5 990.1,819.4 990.4,819.4 990.7,819.2 991.0,819.0 991.3,819.6 991.5,818.9 991.8,819.7 992.1,820.0 992.4,819.8 992.7,820.1 993.0,818.9 993.3,819.3 993.6,818.9 993.8,818.9 994.1,818.5 994.4,818.7 994.7,819.4 995.0,819.4 995.3,819.5 995.6,819.5 995.9,819.4 996.1,818.8 996.4,819.1 996.7,819.4 997.0,819.6 997.3,819.0 997.6,818.9 997.9,819.0 998.1,819.7 998.4,819.3 998.7,819.0 999.0,818.9 999.3,819.3 999.6,818.5 999.9,819.1 1000.2,818.9 1000.4,818.9 1000.7,819.2 1001.0,819.3 1001.3,820.2 1001.6,819.1 1001.9,819.4 1002.2,818.8 1002.5,818.5 1002.7,819.5 1003.0,819.8 1003.3,818.8 1003.6,819.1 1003.9,819.5 1004.2,819.2 1004.5,818.3 1004.8,819.5 1005.0,819.1 1005.3,819.5 1005.6,818.9 1005.9,819.6 1006.2,819.6 1006.5,819.0 1006.8,819.5 1007.0,819.1 1007.3,819.2 1007.6,819.0 1007.9,819.2 1008.2,819.1 1008.5,819.8 1008.8,819.3 1009.1,819.0 1009.3,819.8 1009.6,819.5 1009.9,819.7 1010.2,819.3 1010.5,819.5 1010.8,819.3 1011.1,818.9 1011.4,819.3 1011.6,819.3 1011.9,819.3 1012.2,819.5 1012.5,818.6 1012.8,819.3 1013.1,818.9 1013.4,819.1 1013.7,819.3 1013.9,819.2 1014.2,818.9 1014.5,819.4 1014.8,819.1 1015.1,819.5 1015.4,819.6 1015.7,819.0 1015.9,818.8 1016.2,819.2 1016.5,819.4 1016.8,819.3 1017.1,818.8 1017.4,818.6 1017.7,818.9 1018.0,818.9 1018.2,819.4 1018.5,819.2 1018.8,819.5 1019.1,819.2 1019.4,819.8 1019.7,819.3 1020.0,819.5 1020.3,819.1 1020.5,819.4 1020.8,819.7 1021.1,819.6 1021.4,819.8 1021.7,819.1 1022.0,819.5 1022.3,820.0 1022.6,819.5 1022.8,819.3 1023.1,819.3 1023.4,819.2 1023.7,819.5 1024.0,819.9 1024.3,819.6 1024.6,819.4 1024.8,819.2 1025.1,819.1 1025.4,820.2 1025.7,819.3 1026.0,819.5 1026.3,819.3 1026.6,819.5 1026.9,819.3 1027.1,819.5 1027.4,819.9 1027.7,819.2 1028.0,819.6 1028.3,819.4 1028.6,819.7 1028.9,819.2 1029.2,819.5 1029.4,819.1 1029.7,818.8 1030.0,818.9 1030.3,819.0 1030.6,819.0 1030.9,819.2 1031.2,819.7 1031.5,818.9 1031.7,819.5 1032.0,819.4 1032.3,819.1 1032.6,819.0 1032.9,819.5 1033.2,819.5 1033.5,819.2 1033.7,819.3 1034.0,819.3 1034.3,818.9 1034.6,819.4 1034.9,819.5 1035.2,819.9 1035.5,819.0 1035.8,819.1 1036.0,819.4 1036.3,819.2 1036.6,819.2 1036.9,819.3 1037.2,819.2 1037.5,819.3 1037.8,819.4 1038.1,818.8 1038.3,819.5 1038.6,818.5 1038.9,819.8 1039.2,819.5 1039.5,819.0 1039.8,819.6 1040.1,819.2 1040.4,819.4 1040.6,819.5 1040.9,819.3 1041.2,819.2 1041.5,819.4 1041.8,819.2 1042.1,819.1 1042.4,818.9 1042.6,818.7 1042.9,819.8 1043.2,819.5 1043.5,818.8 1043.8,819.4 1044.1,819.3 1044.4,818.6 1044.7,819.0 1044.9,819.3 1045.2,819.9 1045.5,819.7 1045.8,819.7 1046.1,819.4 1046.4,819.7 1046.7,819.0 1047.0,819.6 1047.2,819.6 1047.5,819.0 1047.8,819.5 1048.1,819.9 1048.4,820.0 1048.7,819.9 1049.0,819.2 1049.3,819.4 1049.5,819.3 1049.8,819.8 1050.1,819.1 1050.4,819.1 1050.7,818.9 1051.0,819.4 1051.3,819.5 1051.5,819.1 1051.8,819.1 1052.1,819.2 1052.4,819.7 1052.7,818.8 1053.0,819.2 1053.3,819.3 1053.6,819.3 1053.8,819.6 1054.1,819.4 1054.4,819.2 1054.7,819.6 1055.0,819.5 1055.3,819.2 1055.6,819.2 1055.9,818.7 1056.1,819.2 1056.4,818.9 1056.7,818.8 1057.0,819.0 1057.3,818.6 1057.6,818.9 1057.9,819.0 1058.2,819.2 1058.4,819.0 1058.7,819.3 1059.0,819.6 1059.3,819.4 1059.6,818.8 1059.9,818.6 1060.2,818.8 1060.4,818.8 1060.7,818.5 1061.0,818.6 1061.3,818.5 1061.6,818.9 1061.9,819.5 1062.2,819.6 1062.5,818.7 1062.7,818.8 1063.0,818.5 1063.3,818.4 1063.6,818.9 1063.9,818.9 1064.2,818.7 1064.5,819.0 1064.8,818.7 1065.0,819.1 1065.3,818.5 1065.6,818.9 1065.9,818.5 1066.2,818.6 1066.5,818.7 1066.8,818.0 1067.1,818.1 1067.3,818.2 1067.6,818.1 1067.9,818.1 1068.2,817.7 1068.5,817.4 1068.8,817.7 1069.1,817.7 1069.3,817.2 1069.6,817.7 1069.9,817.4 1070.2,817.2 1070.5,817.0 1070.8,816.4 1071.1,817.1 1071.4,816.0 1071.6,816.1 1071.9,816.0 1072.2,815.7 1072.5,815.4 1072.8,814.9 1073.1,814.8 1073.4,814.7 1073.7,814.8 1073.9,814.0 1074.2,814.2 1074.5,813.9 1074.8,813.6 1075.1,813.3 1075.4,813.3 1075.7,812.6 1076.0,813.1 1076.2,813.1 1076.5,812.7 1076.8,813.0 1077.1,812.9 1077.4,812.6 1077.7,813.1 1078.0,812.7 1078.2,813.6 1078.5,812.6 1078.8,812.8 1079.1,812.9 1079.4,813.3 1079.7,813.7 1080.0,813.5 1080.3,813.4 1080.5,814.3 1080.8,814.1 1081.1,813.9 1081.4,814.1 1081.7,813.8 1082.0,814.4 1082.3,815.0 1082.6,814.3 1082.8,814.3 1083.1,814.9 1083.4,814.3 1083.7,815.5 1084.0,814.8 1084.3,815.1 1084.6,815.3 1084.9,815.8 1085.1,815.6 1085.4,815.0 1085.7,815.1 1086.0,815.6 1086.3,815.0 1086.6,815.5 1086.9,815.3 1087.1,815.8 1087.4,815.8 1087.7,814.7 1088.0,815.5 1088.3,815.5 1088.6,815.1 1088.9,815.1 1089.2,814.8 1089.4,815.0 1089.7,815.2 1090.0,815.4 1090.3,815.4 1090.6,814.9 1090.9,814.7 1091.2,815.3 1091.5,814.2 1091.7,814.6 1092.0,815.2 1092.3,815.8 1092.6,814.9 1092.9,815.3 1093.2,815.0 1093.5,815.4 1093.8,815.5 1094.0,815.4 1094.3,815.8 1094.6,815.8 1094.9,816.1 1095.2,816.0 1095.5,815.8 1095.8,816.3 1096.0,816.7 1096.3,816.3 1096.6,817.0 1096.9,816.9 1097.2,816.8 1097.5,817.0 1097.8,817.0 1098.1,817.0 1098.3,817.6 1098.6,817.7 1098.9,817.4 1099.2,817.6 1099.5,817.7 1099.8,818.0 1100.1,818.4 1100.4,817.8 1100.6,818.2 1100.9,818.2 1101.2,818.4 1101.5,818.8 1101.8,818.2 1102.1,817.9 1102.4,818.5 1102.7,818.1 1102.9,819.1 1103.2,818.5 1103.5,818.6 1103.8,818.8 1104.1,818.9 1104.4,818.7 1104.7,818.9 1104.9,819.2 1105.2,818.9 1105.5,819.5 1105.8,819.1 1106.1,818.4 1106.4,819.3 1106.7,818.6 1107.0,819.2 1107.2,819.8 1107.5,819.5 1107.8,818.9 1108.1,819.0 1108.4,819.2 1108.7,819.6 1109.0,819.0 1109.3,819.5 1109.5,819.3 1109.8,819.2 1110.1,819.2 1110.4,819.7 1110.7,818.8 1111.0,818.9 1111.3,819.5 1111.6,819.5 1111.8,818.8 1112.1,818.9 1112.4,818.9 1112.7,819.4 1113.0,819.0 1113.3,819.6 1113.6,819.4 1113.8,819.3 1114.1,819.3 1114.4,819.4 1114.7,819.5 1115.0,819.3 1115.3,819.4 1115.6,819.5 1115.9,819.3 1116.1,819.6 1116.4,819.3 1116.7,819.1 1117.0,819.4 1117.3,819.8 1117.6,819.7 1117.9,818.8 1118.2,819.3 1118.4,819.1 1118.7,819.1 1119.0,819.1 1119.3,819.0 1119.6,818.9 1119.9,818.9 1120.2,819.0 1120.5,818.5 1120.7,818.4 1121.0,818.4 1121.3,818.2 1121.6,818.6 1121.9,818.0 1122.2,818.1 1122.5,818.0 1122.8,818.0 1123.0,817.6 1123.3,817.7 1123.6,817.1 1123.9,817.0 1124.2,816.9 1124.5,816.0 1124.8,816.3 1125.0,816.3 1125.3,815.7 1125.6,815.4 1125.9,815.8 1126.2,815.1 1126.5,815.3 1126.8,814.1 1127.1,814.7 1127.3,814.5 1127.6,814.8 1127.9,815.0 1128.2,814.7 1128.5,814.8 1128.8,814.2 1129.1,815.4 1129.4,815.7 1129.6,815.6 1129.9,815.7 1130.2,816.1 1130.5,816.6 1130.8,816.7 1131.1,817.3 1131.4,816.8 1131.7,816.8 1131.9,817.5 1132.2,818.0 1132.5,817.7 1132.8,818.0 1133.1,817.9 1133.4,817.9 1133.7,818.2 1133.9,817.9 1134.2,818.7 1134.5,818.8 1134.8,819.0 1135.1,818.6 1135.4,818.7 1135.7,818.4 1136.0,818.5 1136.2,819.2 1136.5,819.7 1136.8,818.7 1137.1,818.9 1137.4,819.3 1137.7,818.9 1138.0,819.3 1138.3,819.0 1138.5,819.0 1138.8,819.4 1139.1,819.1 1139.4,818.8 1139.7,819.3 1140.0,819.1 1140.3,819.0 1140.6,818.9 1140.8,819.2 1141.1,818.8 1141.4,819.0 1141.7,819.1 1142.0,818.8 1142.3,819.0 1142.6,818.3 1142.8,818.7 1143.1,818.5 1143.4,818.8 1143.7,818.1 1144.0,818.2 1144.3,817.7 1144.6,817.3 1144.9,817.1 1145.1,816.9 1145.4,817.0 1145.7,816.3 1146.0,816.1 1146.3,816.0 1146.6,815.7 1146.9,815.2 1147.2,814.9 1147.4,813.7 1147.7,813.3 1148.0,813.0 1148.3,812.7 1148.6,812.0 1148.9,811.1 1149.2,810.7 1149.5,809.8 1149.7,810.0 1150.0,808.8 1150.3,808.9 1150.6,808.8 1150.9,808.4 1151.2,807.5 1151.5,807.8 1151.7,807.6 1152.0,807.6 1152.3,808.2 1152.6,808.0 1152.9,807.8 1153.2,808.2 1153.5,809.1 1153.8,809.4 1154.0,809.5 1154.3,809.9 1154.6,810.7 1154.9,811.2 1155.2,812.1 1155.5,812.3 1155.8,813.1 1156.1,813.8 1156.3,813.6 1156.6,814.3 1156.9,815.3 1157.2,815.2 1157.5,815.7 1157.8,816.4 1158.1,816.3 1158.4,816.6 1158.6,816.6 1158.9,817.4 1159.2,817.4 1159.5,817.6 1159.8,817.2 1160.1,818.3 1160.4,818.3 1160.6,818.1 1160.9,818.7 1161.2,817.8 1161.5,818.5 1161.8,818.2 1162.1,819.4 1162.4,818.1 1162.7,818.5 1162.9,818.6 1163.2,819.1 1163.5,819.1 1163.8,819.0 1164.1,818.9 1164.4,819.5 1164.7,818.8 1165.0,819.1 1165.2,819.5 1165.5,818.7 1165.8,818.9 1166.1,819.3 1166.4,819.2 1166.7,818.7 1167.0,819.1 1167.3,819.5 1167.5,819.0 1167.8,819.2 1168.1,819.0 1168.4,818.8 1168.7,819.3 1169.0,819.1 1169.3,819.1 1169.5,818.7 1169.8,818.7 1170.1,818.6 1170.4,818.6 1170.7,818.3 1171.0,818.1 1171.3,818.4 1171.6,817.7 1171.8,817.7 1172.1,817.5 1172.4,817.3 1172.7,816.9 1173.0,816.8 1173.3,817.0 1173.6,816.4 1173.9,816.1 1174.1,816.4 1174.4,815.4 1174.7,815.8 1175.0,815.3 1175.3,814.7 1175.6,814.7 1175.9,814.5 1176.2,814.7 1176.4,814.4 1176.7,814.0 1177.0,813.6 1177.3,813.4 1177.6,813.8 1177.9,813.5 1178.2,813.8 1178.4,813.9 1178.7,814.1 1179.0,814.4 1179.3,814.3 1179.6,814.6 1179.9,814.7 1180.2,815.2 1180.5,815.4 1180.7,815.9 1181.0,816.1 1181.3,815.8 1181.6,815.9 1181.9,816.7 1182.2,817.1 1182.5,816.9 1182.8,817.6 1183.0,817.5 1183.3,817.6 1183.6,817.9 1183.9,817.7 1184.2,817.8 1184.5,818.2 1184.8,818.1 1185.1,818.5 1185.3,818.6 1185.6,818.1 1185.9,818.6 1186.2,818.9 1186.5,818.3 1186.8,818.8 1187.1,818.6 1187.3,818.5 1187.6,819.2 1187.9,819.2 1188.2,818.9 1188.5,818.9 1188.8,819.3 1189.1,819.3 1189.4,819.0 1189.6,819.1 1189.9,818.9 1190.2,818.8 1190.5,818.9 1190.8,818.6 1191.1,818.8 1191.4,818.5 1191.7,818.4 1191.9,818.2 1192.2,818.3 1192.5,818.3 1192.8,818.1 1193.1,817.6 1193.4,817.8 1193.7,817.3 1194.0,817.1 1194.2,817.2 1194.5,817.3 1194.8,817.1 1195.1,817.0 1195.4,817.1 1195.7,816.9 1196.0,816.5 1196.2,816.8 1196.5,816.5 1196.8,816.7 1197.1,816.8 1197.4,816.7 1197.7,816.5 1198.0,816.9 1198.3,817.0 1198.5,817.2 1198.8,817.2 1199.1,817.2 1199.4,817.3 1199.7,818.0 1200.0,818.2 1200.3,818.2 1200.6,818.3 1200.8,818.9 1201.1,818.7 1201.4,818.7 1201.7,819.0 1202.0,818.9 1202.3,819.2 1202.6,819.2 1202.9,819.3 1203.1,819.2 1203.4,819.2 1203.7,819.4 1204.0,819.6 1204.3,819.2 1204.6,819.3 1204.9,819.2 1205.1,819.6 1205.4,819.4 1205.7,819.7 1206.0,819.3 1206.3,819.7 1206.6,819.4 1206.9,819.4 1207.2,819.6 1207.4,819.4 1207.7,819.4 1208.0,819.7 1208.3,819.5 1208.6,819.8 1208.9,820.1 1209.2,819.3 1209.5,819.4 1209.7,819.1 1210.0,819.2 1210.3,819.5 1210.6,819.5 1210.9,819.4 1211.2,819.5 1211.5,819.2 1211.8,819.0 1212.0,819.6 1212.3,819.4 1212.6,819.6 1212.9,819.4 1213.2,819.5 1213.5,819.3 1213.8,819.4 1214.0,819.3 1214.3,819.5 1214.6,819.7 1214.9,819.5 1215.2,818.7 1215.5,819.3 1215.8,819.4 1216.1,819.5 1216.3,819.4 1216.6,819.2 1216.9,819.2 1217.2,819.3 1217.5,819.2 1217.8,819.6 1218.1,819.5 1218.4,819.3 1218.6,819.5 1218.9,819.8 1219.2,819.3 1219.5,819.3 1219.8,819.3 1220.1,819.1 1220.4,819.2 1220.7,819.2 1220.9,819.5 1221.2,819.5 1221.5,819.6 1221.8,819.2 1222.1,819.6 1222.4,819.2 1222.7,819.4 1222.9,819.7 1223.2,819.7 1223.5,819.7 1223.8,819.9 1224.1,819.7 1224.4,819.4 1224.7,819.4 1225.0,819.3 1225.2,819.5 1225.5,819.3 1225.8,819.3 1226.1,819.2 1226.4,819.0 1226.7,819.9 1227.0,819.5 1227.3,818.9 1227.5,819.4 1227.8,819.2 1228.1,818.8 1228.4,819.2 1228.7,819.3 1229.0,819.4 1229.3,819.5 1229.6,819.1 1229.8,819.3 1230.1,819.4 1230.4,819.4 1230.7,819.4 1231.0,819.3 1231.3,819.6 1231.6,819.1 1231.8,819.1 1232.1,819.8 1232.4,819.5 1232.7,819.7 1233.0,819.5 1233.3,819.4 1233.6,819.4 1233.9,819.5 1234.1,819.4 1234.4,819.5 1234.7,819.5 1235.0,819.7 1235.3,819.7 1235.6,819.9 1235.9,819.4 1236.2,819.5 1236.4,819.7 1236.7,819.6 1237.0,819.0 1237.3,819.6 1237.6,819.5 1237.9,819.4 1238.2,819.5 1238.5,819.4 1238.7,819.8 1239.0,819.7 1239.3,819.6 1239.6,819.8 1239.9,819.8 1240.2,819.4 1240.5,819.4 1240.7,819.4 1241.0,819.7 1241.3,819.6 1241.6,819.8 1241.9,819.7 1242.2,819.5 1242.5,819.3 1242.8,819.5 1243.0,820.0 1243.3,819.4 1243.6,819.3 1243.9,819.4 1244.2,819.7 1244.5,819.4 1244.8,819.2 1245.1,819.3 1245.3,819.4 1245.6,819.4 1245.9,819.6 1246.2,819.9 1246.5,819.7 1246.8,819.5 1247.1,819.4 1247.4,819.2 1247.6,819.5 1247.9,819.7 1248.2,819.6 1248.5,819.4 1248.8,819.6 1249.1,819.4 1249.4,819.4 1249.6,819.4 1249.9,819.5 1250.2,819.5 1250.5,819.7 1250.8,819.5 1251.1,819.5 1251.4,819.7 1251.7,819.6 1251.9,819.7 1252.2,819.4 1252.5,819.8 1252.8,819.5 1253.1,819.3 1253.4,819.5 1253.7,819.3 1254.0,819.3 1254.2,819.4 1254.5,819.7 1254.8,819.3 1255.1,819.6 1255.4,819.5 1255.7,819.8 1256.0,819.6 1256.3,819.6 1256.5,819.8 1256.8,819.3 1257.1,819.5 1257.4,819.2 1257.7,819.4 1258.0,819.6 1258.3,819.5" fill="none" stroke="#0000ff" stroke-width="8.6" stroke-linejoin="round" stroke-linecap="butt"/>
</g>
<text transform="translate(109.0,901) scale(1,1.04)" font-family="'Liberation Sans', Arial, Helvetica, sans-serif" font-weight="bold" font-size="35" text-anchor="middle" fill="#000">10</text>
<text transform="translate(252.6,901) scale(1,1.04)" font-family="'Liberation Sans', Arial, Helvetica, sans-serif" font-weight="bold" font-size="35" text-anchor="middle" fill="#000">20</text>
<text transform="translate(396.1,901) scale(1,1.04)" font-family="'Liberation Sans', Arial, Helvetica, sans-serif" font-weight="bold" font-size="35" text-anchor="middle" fill="#000">30</text>
<text transform="translate(539.7,901) scale(1,1.04)" font-family="'Liberation Sans', Arial, Helvetica, sans-serif" font-weight="bold" font-size="35" text-anchor="middle" fill="#000">40</text>
<text transform="translate(683.2,901) scale(1,1.04)" font-family="'Liberation Sans', Arial, Helvetica, sans-serif" font-weight="bold" font-size="35" text-anchor="middle" fill="#000">50</text>
<text transform="translate(826.8,901) scale(1,1.04)" font-family="'Liberation Sans', Arial, Helvetica, sans-serif" font-weight="bold" font-size="35" text-anchor="middle" fill="#000">60</text>
<text transform="translate(970.3,901) scale(1,1.04)" font-family="'Liberation Sans', Arial, Helvetica, sans-serif" font-weight="bold" font-size="35" text-anchor="middle" fill="#000">70</text>
<text transform="translate(1113.8,901) scale(1,1.04)" font-family="'Liberation Sans', Arial, Helvetica, sans-serif" font-weight="bold" font-size="35" text-anchor="middle" fill="#000">80</text>
<text transform="translate(1257.4,901) scale(1,1.04)" font-family="'Liberation Sans', Arial, Helvetica, sans-serif" font-weight="bold" font-size="35" text-anchor="middle" fill="#000">90</text>
<text transform="translate(682.5,987) scale(1,1.04)" font-family="'Liberation Sans', Arial, Helvetica, sans-serif" font-weight="bold" font-size="62.9" text-anchor="middle" fill="#000">2Theta / degree</text>
<text transform="translate(49.6,425) rotate(-90) scale(1,1.04)" font-family="'Liberation Sans', Arial, Helvetica, sans-serif" font-weight="bold" font-size="62.9" text-anchor="middle" fill="#000">Intensity (a.u.)</text>
<line x1="642.5" y1="38.6" x2="713.8" y2="38.6" stroke="#000" stroke-width="8.4"/>
<text transform="translate(731.2,49.5) scale(1,1.04)" font-family="'Liberation Sans', Arial, Helvetica, sans-serif" font-weight="bold" font-size="31.6" text-anchor="start" fill="#000">Pristine OLO</text>
<line x1="642.5" y1="78.4" x2="713.8" y2="78.4" stroke="#f00" stroke-width="8.4"/>
<text transform="translate(731.2,89.5) scale(1,1.04)" font-family="'Liberation Sans', Arial, Helvetica, sans-serif" font-weight="bold" font-size="31.6" text-anchor="start" fill="#000">1 wt.% PEDOT:PSS coated OLO</text>
<line x1="642.5" y1="118.2" x2="713.8" y2="118.2" stroke="#00f" stroke-width="8.4"/>
<text transform="translate(722.0,129.5) scale(1,1.04)" font-family="'Liberation Sans', Arial, Helvetica, sans-serif" font-weight="bold" font-size="31.6" text-anchor="start" fill="#000">2.5 wt.% PEDOT:PSS coated OLO</text>
<text transform="translate(211.0,74.0) rotate(-90) scale(1,1.03)" font-family="'Liberation Sans', Arial, Helvetica, sans-serif" font-weight="bold" font-size="24" text-anchor="middle" fill="#000">(003)</text>
<text transform="translate(279.3,271.3) rotate(-90) scale(1,1.03)" font-family="'Liberation Sans', Arial, Helvetica, sans-serif" font-weight="bold" font-size="24" text-anchor="middle" fill="#000">(020)</text>
<text transform="translate(496.7,206.2) rotate(-90) scale(1,1.03)" font-family="'Liberation Sans', Arial, Helvetica, sans-serif" font-weight="bold" font-size="24" text-anchor="middle" fill="#000">(101)</text>
<text transform="translate(533.5,232.0) rotate(-90) scale(1,1.03)" font-family="'Liberation Sans', Arial, Helvetica, sans-serif" font-weight="bold" font-size="24" text-anchor="middle" fill="#000">(006)/(012)</text>
<text transform="translate(593.3,117.1) rotate(-90) scale(1,1.03)" font-family="'Liberation Sans', Arial, Helvetica, sans-serif" font-weight="bold" font-size="24" text-anchor="middle" fill="#000">(104)</text>
<text transform="translate(674.5,263.7) rotate(-90) scale(1,1.03)" font-family="'Liberation Sans', Arial, Helvetica, sans-serif" font-weight="bold" font-size="24" text-anchor="middle" fill="#000">(105)</text>
<text transform="translate(818.0,262.3) rotate(-90) scale(1,1.03)" font-family="'Liberation Sans', Arial, Helvetica, sans-serif" font-weight="bold" font-size="24" text-anchor="middle" fill="#000">(107)</text>
<text transform="translate(901.7,212.9) rotate(-90) scale(1,1.03)" font-family="'Liberation Sans', Arial, Helvetica, sans-serif" font-weight="bold" font-size="24" text-anchor="middle" fill="#000">(018)/(110)</text>
<text transform="translate(967.6,276.3) rotate(-90) scale(1,1.03)" font-family="'Liberation Sans', Arial, Helvetica, sans-serif" font-weight="bold" font-size="24" text-anchor="middle" fill="#000">(113)</text>
</svg>
</body>
</html>
